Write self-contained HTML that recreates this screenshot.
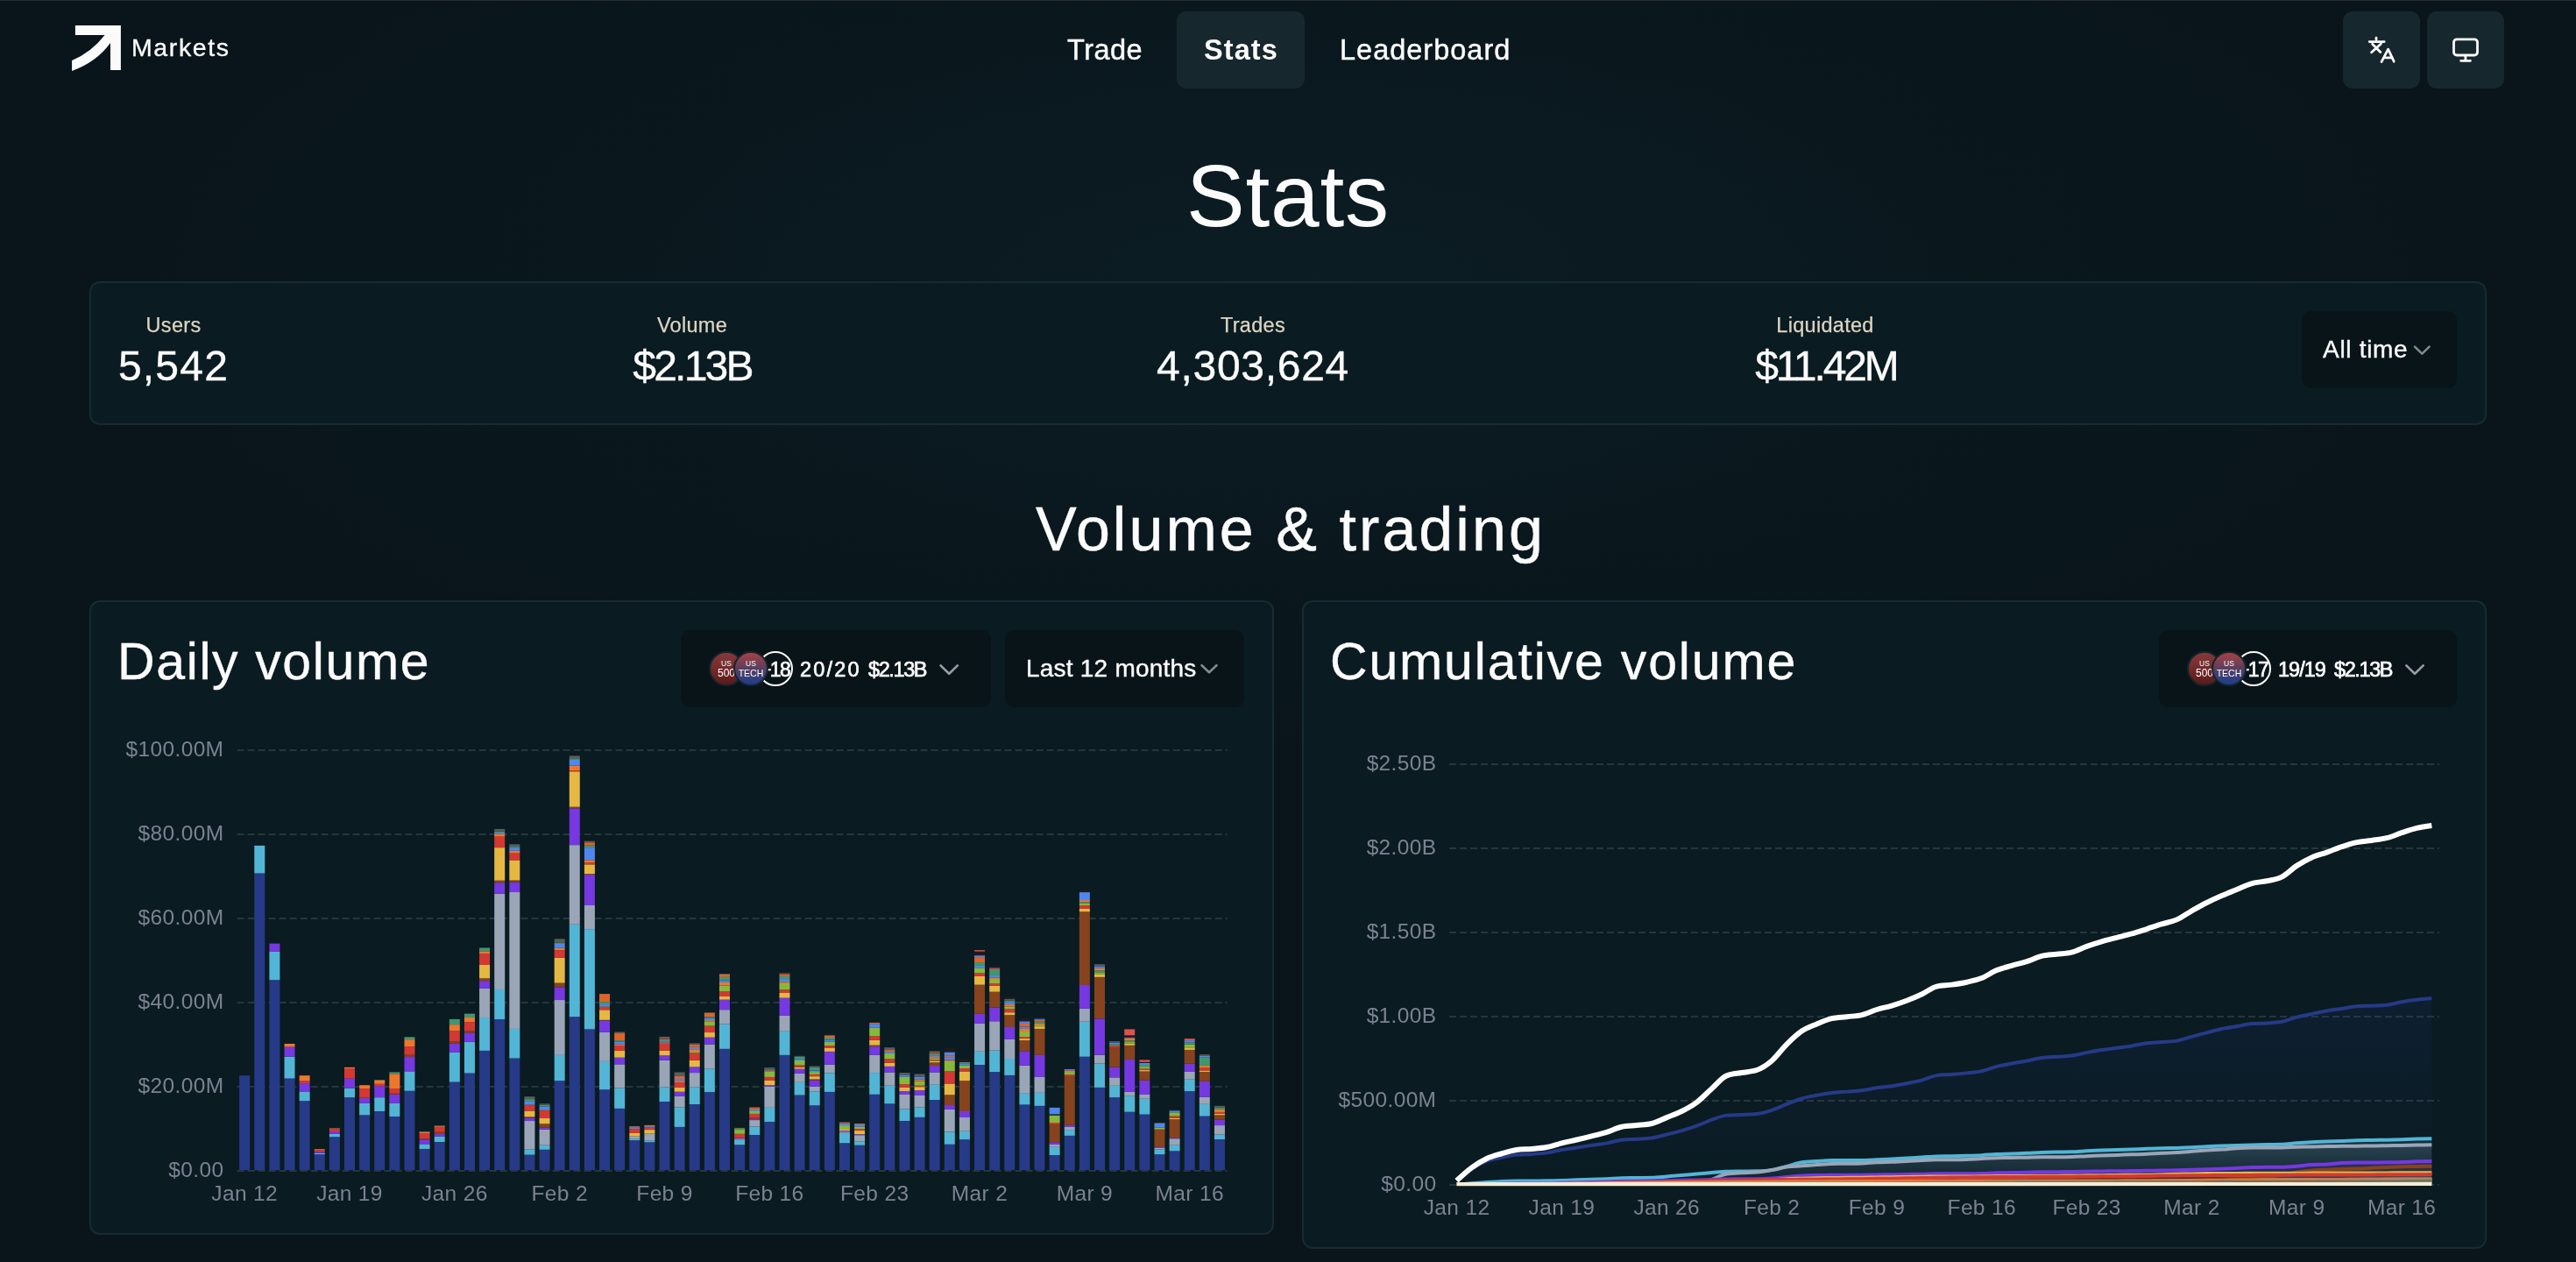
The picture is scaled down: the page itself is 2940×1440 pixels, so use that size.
<!DOCTYPE html>
<html lang="en">
<head>
<meta charset="utf-8">
<title>Stats</title>
<style>
*{box-sizing:border-box;margin:0;padding:0}
html,body{width:2940px;height:1440px;overflow:hidden}
body{position:relative;background:#09151b;color:#fbfbfb;font-family:"Liberation Sans",sans-serif;-webkit-font-smoothing:antialiased}
.bg{position:absolute;left:0;top:0;width:2940px;height:1440px;background:
 radial-gradient(ellipse 1300px 520px at 1470px 330px, rgba(13,35,41,.55), rgba(9,21,27,0) 100%);}
.topline{position:absolute;left:0;top:0;width:2940px;height:1px;background:#2a2d31}
.abs{position:absolute;white-space:nowrap;line-height:1;will-change:transform}
.t{position:absolute;white-space:nowrap;line-height:1;transform-origin:0 0}
/* header */
.brand{left:150px;top:39.5px;font-size:28.5px;letter-spacing:1.6px;color:#fbfbfb;-webkit-text-stroke:.35px #fbfbfb}
.nav{font-size:32.5px;font-weight:400;color:#fbfbfb;-webkit-text-stroke:.45px #fbfbfb}
.tab{position:absolute;left:1343px;top:13px;width:146px;height:88px;border-radius:11px;background:#17272e}
.ibtn{position:absolute;top:13px;width:88px;height:88px;border-radius:11px;background:#17272e}
/* hero */
.h1{font-size:100px;letter-spacing:.8px;color:#fbfbfb}
.panel{position:absolute;border:2px solid #182b32;border-radius:12px;background:#0a1b21}
.lab{font-size:23.5px;color:#ddd5c3;-webkit-text-stroke:.25px #ddd5c3;letter-spacing:.3px;text-align:center}
.val{font-size:48px;color:#fbfbfb;-webkit-text-stroke:.4px #fbfbfb;text-align:center}
.dd{position:absolute;height:88px;border-radius:11px;background:#091419}
.h2{font-size:70px;color:#fbfbfb;-webkit-text-stroke:.5px #fbfbfb}
.h3{font-size:59px;color:#fbfbfb;-webkit-text-stroke:.4px #fbfbfb}
.ddt{font-size:28px;color:#fbfbfb;-webkit-text-stroke:.4px #fbfbfb}
.dds{font-size:23.5px;font-weight:400;color:#fbfbfb;-webkit-text-stroke:.7px #fbfbfb}
.av{will-change:transform;position:absolute;top:743px;width:40px;height:40px;border-radius:50%;border:2px solid #13262c;color:#fff;text-align:center;overflow:hidden}
.av i{display:block;font-style:normal;line-height:1;white-space:nowrap}
.av1{background:linear-gradient(180deg,#873a3b 0%,#5a1b19 100%)}
.av2{background:linear-gradient(180deg,#a94043 0%,#5c3f5f 48%,#1d3d8b 100%)}
.ring{position:absolute;top:743px;width:40px;height:40px;border-radius:50%;border:2px solid #fbfbfb}
svg{position:absolute;left:0;top:0;overflow:visible}
svg text.ax{font-family:"Liberation Sans",sans-serif;font-size:24.5px;fill:#7b8291;letter-spacing:.35px}
svg .gl{stroke:#25373d;stroke-width:2;stroke-dasharray:8 4}
</style>
</head>
<body>
<div class="bg"></div>
<div class="topline"></div>

<!-- header -->
<svg width="2940" height="120" viewBox="0 0 2940 120">
  <path d="M85.9 28.9H137.9V79.9H126V49.1Q110 71 82.1 81V68.9Q104 60 119.6 40H85.9Z" fill="#fbfbfb"/>
</svg>
<div class="abs brand">Markets</div>

<div class="tab"></div>
<div class="abs nav" style="left:1218px;top:41px;letter-spacing:.5px">Trade</div>
<div class="abs nav" style="left:1374px;top:41px;font-weight:700;letter-spacing:1.1px;-webkit-text-stroke:0">Stats</div>
<div class="abs nav" style="left:1528.5px;top:41px;letter-spacing:1px">Leaderboard</div>

<div class="ibtn" style="left:2674px"></div>
<div class="ibtn" style="left:2770px"></div>
<svg width="2940" height="120" viewBox="0 0 2940 120" fill="none" stroke="#fbfbfb" stroke-width="2.8" stroke-linecap="round" stroke-linejoin="round">
  <!-- translate icon -->
  <path d="M2712 43.2V45M2704.2 47.6H2721.2M2707.6 50.2L2716.8 59.4M2717.4 50L2706.6 59.8"/>
  <path d="M2718 70.6L2725.6 56.2L2732.2 70.2M2720.6 65.8H2730.4"/>
  <!-- monitor icon -->
  <rect x="2800.5" y="44.8" width="27" height="18.2" rx="3.5"/>
  <path d="M2813.9 64V69M2808.6 69.3H2819.4"/>
</svg>

<!-- hero title -->
<div class="abs h1" id="title" style="left:1353.5px;top:172.5px">Stats</div>

<!-- stats panel -->
<div class="panel" style="left:102px;top:321px;width:2736px;height:164px"></div>
<div class="abs lab" style="left:98px;width:200px;top:360px">Users</div>
<div class="abs val" style="left:48px;width:300px;top:394px;letter-spacing:1.2px">5,542</div>
<div class="abs lab" style="left:689.5px;width:200px;top:360px">Volume</div>
<div class="abs val" style="left:639.5px;width:300px;top:394px;letter-spacing:-2.8px">$2.13B</div>
<div class="abs lab" style="left:1329.5px;width:200px;top:360px">Trades</div>
<div class="abs val" style="left:1229.5px;width:400px;top:394px;letter-spacing:.7px">4,303,624</div>
<div class="abs lab" style="left:1983px;width:200px;top:360px">Liquidated</div>
<div class="abs val" style="left:1883.5px;width:400px;top:394px;letter-spacing:-3.1px">$11.42M</div>

<div class="dd" style="left:2627px;top:355px;width:177px"></div>
<div class="abs ddt" style="left:2651px;top:385px;letter-spacing:.7px">All time</div>

<!-- section title -->
<div class="abs h2" style="left:1182px;top:569px;letter-spacing:3.05px">Volume &amp; trading</div>

<!-- cards -->
<div class="panel" style="left:102px;top:685px;width:1352px;height:724px"></div>
<div class="panel" style="left:1486px;top:685px;width:1352px;height:740px"></div>
<div class="abs h3" style="left:134px;top:726px;letter-spacing:1.62px">Daily volume</div>
<div class="abs h3" style="left:1518px;top:726px;letter-spacing:1.85px">Cumulative volume</div>

<!-- dropdowns -->
<div class="dd" style="left:777px;top:719px;width:354px"></div>
<div class="dd" style="left:1147px;top:719px;width:273px"></div>
<div class="dd" style="left:2464px;top:719px;width:340px"></div>

<div class="abs ddt" style="left:1170.5px;top:749px;letter-spacing:.22px">Last 12 months</div>

<!-- avatars left -->
<div class="ring" style="left:865px"></div>
<div class="abs dds" style="left:867px;top:753px;font-size:23px;letter-spacing:-1.6px">+18</div>
<div class="av av1" style="left:809px"><i style="font-size:8.5px;margin-top:7.5px">US</i><i style="font-size:12px;margin-top:1px">500</i></div>
<div class="av av2" style="left:837px"><i style="font-size:8.5px;margin-top:7.5px">US</i><i style="font-size:10.5px;margin-top:2px;margin-left:-3px;width:42px">TECH</i></div>
<div class="abs dds" style="left:913px;top:752.5px;letter-spacing:2.2px">20/20</div>
<div class="abs dds" style="left:990.5px;top:752.5px;letter-spacing:-1.4px">$2.13B</div>

<!-- avatars right -->
<div class="ring" style="left:2552px"></div>
<div class="abs dds" style="left:2554px;top:753px;font-size:23px;letter-spacing:-1.6px">+17</div>
<div class="av av1" style="left:2496px"><i style="font-size:8.5px;margin-top:7.5px">US</i><i style="font-size:12px;margin-top:1px">500</i></div>
<div class="av av2" style="left:2524px"><i style="font-size:8.5px;margin-top:7.5px">US</i><i style="font-size:10.5px;margin-top:2px;margin-left:-3px;width:42px">TECH</i></div>
<div class="abs dds" style="left:2600px;top:752.5px;letter-spacing:-1px">19/19</div>
<div class="abs dds" style="left:2663.5px;top:752.5px;letter-spacing:-1.4px">$2.13B</div>

<!-- chevrons -->
<svg width="2940" height="1440" viewBox="0 0 2940 1440" fill="none" stroke-width="2.6" stroke-linecap="round" stroke-linejoin="round">
  <path d="M2756 395.6L2764.3 403.6L2772.6 395.6" stroke="#7f8b8e"/>
  <path d="M1371.6 759.2L1380 767.2L1388.4 759.2" stroke="#7f8b8e"/>
  <path d="M1073.6 759.4L1083.2 768.8L1092.8 759.4" stroke="#9a9ca6"/>
  <path d="M2746.4 759.4L2756 768.8L2765.6 759.4" stroke="#9a9ca6"/>
</svg>

<!-- charts -->
<svg width="2940" height="1440" viewBox="0 0 2940 1440" shape-rendering="auto">
<g id="bars">
<line x1="270.6" x2="1400.52" y1="1336" y2="1336" class="gl"/>
<line x1="270.6" x2="1400.52" y1="1240" y2="1240" class="gl"/>
<line x1="270.6" x2="1400.52" y1="1144" y2="1144" class="gl"/>
<line x1="270.6" x2="1400.52" y1="1048" y2="1048" class="gl"/>
<line x1="270.6" x2="1400.52" y1="952" y2="952" class="gl"/>
<line x1="270.6" x2="1400.52" y1="856" y2="856" class="gl"/>
<text x="255.4" y="1343" text-anchor="end" class="ax">$0.00</text>
<text x="255.4" y="1247" text-anchor="end" class="ax">$20.00M</text>
<text x="255.4" y="1151" text-anchor="end" class="ax">$40.00M</text>
<text x="255.4" y="1055" text-anchor="end" class="ax">$60.00M</text>
<text x="255.4" y="959" text-anchor="end" class="ax">$80.00M</text>
<text x="255.4" y="863" text-anchor="end" class="ax">$100.00M</text>
<text x="279.16" y="1370" text-anchor="middle" class="ax">Jan 12</text>
<text x="399" y="1370" text-anchor="middle" class="ax">Jan 19</text>
<text x="518.84" y="1370" text-anchor="middle" class="ax">Jan 26</text>
<text x="638.68" y="1370" text-anchor="middle" class="ax">Feb 2</text>
<text x="758.52" y="1370" text-anchor="middle" class="ax">Feb 9</text>
<text x="878.36" y="1370" text-anchor="middle" class="ax">Feb 16</text>
<text x="998.2" y="1370" text-anchor="middle" class="ax">Feb 23</text>
<text x="1118.04" y="1370" text-anchor="middle" class="ax">Mar 2</text>
<text x="1237.88" y="1370" text-anchor="middle" class="ax">Mar 9</text>
<text x="1357.72" y="1370" text-anchor="middle" class="ax">Mar 16</text>
<rect x="273.16" y="1227.2" width="12" height="108" fill="#263a88"/>
<rect x="290.28" y="996.42" width="12" height="338.78" fill="#263a88"/>
<rect x="290.28" y="964.88" width="12" height="31.54" fill="#52b5d5"/>
<rect x="307.4" y="1118.24" width="12" height="216.96" fill="#263a88"/>
<rect x="307.4" y="1085.89" width="12" height="32.35" fill="#52b5d5"/>
<rect x="307.4" y="1076.62" width="12" height="9.26" fill="#7638e0"/>
<rect x="324.52" y="1230.56" width="12" height="104.64" fill="#263a88"/>
<rect x="324.52" y="1205.6" width="12" height="24.96" fill="#52b5d5"/>
<rect x="324.52" y="1194.56" width="12" height="11.04" fill="#7638e0"/>
<rect x="324.52" y="1190.96" width="12" height="3.6" fill="#ee772e"/>
<rect x="341.64" y="1256.19" width="12" height="79.01" fill="#263a88"/>
<rect x="341.64" y="1245.44" width="12" height="10.75" fill="#52b5d5"/>
<rect x="341.64" y="1236.03" width="12" height="9.41" fill="#7638e0"/>
<rect x="341.64" y="1233.44" width="12" height="2.59" fill="#d43833"/>
<rect x="341.64" y="1227.2" width="12" height="6.24" fill="#ee772e"/>
<rect x="358.76" y="1317.2" width="12" height="18" fill="#263a88"/>
<rect x="358.76" y="1315.81" width="12" height="1.39" fill="#52b5d5"/>
<rect x="358.76" y="1314.08" width="12" height="1.73" fill="#7638e0"/>
<rect x="358.76" y="1311.97" width="12" height="2.11" fill="#d43833"/>
<rect x="358.76" y="1311.2" width="12" height="0.77" fill="#ee772e"/>
<rect x="375.88" y="1297.28" width="12" height="37.92" fill="#263a88"/>
<rect x="375.88" y="1293.92" width="12" height="3.36" fill="#52b5d5"/>
<rect x="375.88" y="1291.04" width="12" height="2.88" fill="#7638e0"/>
<rect x="375.88" y="1288.16" width="12" height="2.88" fill="#d43833"/>
<rect x="375.88" y="1287.44" width="12" height="0.72" fill="#ee772e"/>
<rect x="393" y="1252.16" width="12" height="83.04" fill="#263a88"/>
<rect x="393" y="1241.6" width="12" height="10.56" fill="#52b5d5"/>
<rect x="393" y="1230.75" width="12" height="10.85" fill="#7638e0"/>
<rect x="393" y="1219.04" width="12" height="11.71" fill="#d43833"/>
<rect x="393" y="1217.84" width="12" height="1.2" fill="#ee772e"/>
<rect x="410.12" y="1272.32" width="12" height="62.88" fill="#263a88"/>
<rect x="410.12" y="1258.88" width="12" height="13.44" fill="#52b5d5"/>
<rect x="410.12" y="1252.64" width="12" height="6.24" fill="#7638e0"/>
<rect x="410.12" y="1242.08" width="12" height="10.56" fill="#d43833"/>
<rect x="410.12" y="1238.24" width="12" height="3.84" fill="#ee772e"/>
<rect x="427.24" y="1268" width="12" height="67.2" fill="#263a88"/>
<rect x="427.24" y="1252.16" width="12" height="15.84" fill="#52b5d5"/>
<rect x="427.24" y="1239.2" width="12" height="12.96" fill="#7638e0"/>
<rect x="427.24" y="1236.8" width="12" height="2.4" fill="#d43833"/>
<rect x="427.24" y="1232.48" width="12" height="4.32" fill="#ee772e"/>
<rect x="427.24" y="1232" width="12" height="0.48" fill="#42966f"/>
<rect x="444.36" y="1274" width="12" height="61.2" fill="#263a88"/>
<rect x="444.36" y="1258.88" width="12" height="15.12" fill="#52b5d5"/>
<rect x="444.36" y="1248.8" width="12" height="10.08" fill="#7638e0"/>
<rect x="444.36" y="1247.84" width="12" height="0.96" fill="#86431e"/>
<rect x="444.36" y="1242.08" width="12" height="5.76" fill="#d43833"/>
<rect x="444.36" y="1225.28" width="12" height="16.8" fill="#ee772e"/>
<rect x="444.36" y="1223.36" width="12" height="1.92" fill="#42966f"/>
<rect x="461.48" y="1244.72" width="12" height="90.48" fill="#263a88"/>
<rect x="461.48" y="1222.4" width="12" height="22.32" fill="#52b5d5"/>
<rect x="461.48" y="1206.08" width="12" height="16.32" fill="#7638e0"/>
<rect x="461.48" y="1203.68" width="12" height="2.4" fill="#86431e"/>
<rect x="461.48" y="1194.08" width="12" height="9.6" fill="#d43833"/>
<rect x="461.48" y="1186.11" width="12" height="7.97" fill="#ee772e"/>
<rect x="461.48" y="1183.28" width="12" height="2.83" fill="#42966f"/>
<rect x="478.6" y="1310.96" width="12" height="24.24" fill="#263a88"/>
<rect x="478.6" y="1305.44" width="12" height="5.52" fill="#52b5d5"/>
<rect x="478.6" y="1300.16" width="12" height="5.28" fill="#7638e0"/>
<rect x="478.6" y="1299.2" width="12" height="0.96" fill="#86431e"/>
<rect x="478.6" y="1292.96" width="12" height="6.24" fill="#d43833"/>
<rect x="478.6" y="1291.76" width="12" height="1.2" fill="#ee772e"/>
<rect x="478.6" y="1291.04" width="12" height="0.72" fill="#42966f"/>
<rect x="495.72" y="1303.04" width="12" height="32.16" fill="#263a88"/>
<rect x="495.72" y="1296.8" width="12" height="6.24" fill="#52b5d5"/>
<rect x="495.72" y="1293.92" width="12" height="2.88" fill="#7638e0"/>
<rect x="495.72" y="1291.76" width="12" height="2.16" fill="#86431e"/>
<rect x="495.72" y="1285.76" width="12" height="6" fill="#d43833"/>
<rect x="495.72" y="1284.8" width="12" height="0.96" fill="#ee772e"/>
<rect x="495.72" y="1284.32" width="12" height="0.48" fill="#42966f"/>
<rect x="512.84" y="1234.59" width="12" height="100.61" fill="#263a88"/>
<rect x="512.84" y="1200.8" width="12" height="33.79" fill="#52b5d5"/>
<rect x="512.84" y="1190.72" width="12" height="10.08" fill="#7638e0"/>
<rect x="512.84" y="1188.56" width="12" height="2.16" fill="#86431e"/>
<rect x="512.84" y="1176.32" width="12" height="12.24" fill="#d43833"/>
<rect x="512.84" y="1169.12" width="12" height="7.2" fill="#ee772e"/>
<rect x="512.84" y="1162.88" width="12" height="6.24" fill="#42966f"/>
<rect x="529.96" y="1224.51" width="12" height="110.69" fill="#263a88"/>
<rect x="529.96" y="1188.8" width="12" height="35.71" fill="#52b5d5"/>
<rect x="529.96" y="1178.72" width="12" height="10.08" fill="#7638e0"/>
<rect x="529.96" y="1176.32" width="12" height="2.4" fill="#86431e"/>
<rect x="529.96" y="1166.24" width="12" height="10.08" fill="#d43833"/>
<rect x="529.96" y="1160.96" width="12" height="5.28" fill="#ee772e"/>
<rect x="529.96" y="1156.64" width="12" height="4.32" fill="#42966f"/>
<rect x="547.08" y="1198.88" width="12" height="136.32" fill="#263a88"/>
<rect x="547.08" y="1160.96" width="12" height="37.92" fill="#52b5d5"/>
<rect x="547.08" y="1127.84" width="12" height="33.12" fill="#9aa5b8"/>
<rect x="547.08" y="1119.2" width="12" height="8.64" fill="#7638e0"/>
<rect x="547.08" y="1116.32" width="12" height="2.88" fill="#86431e"/>
<rect x="547.08" y="1100.96" width="12" height="15.36" fill="#e4b843"/>
<rect x="547.08" y="1088.48" width="12" height="12.48" fill="#d43833"/>
<rect x="547.08" y="1085.31" width="12" height="3.17" fill="#ee772e"/>
<rect x="547.08" y="1081.47" width="12" height="3.84" fill="#42966f"/>
<rect x="564.2" y="1163.07" width="12" height="172.13" fill="#263a88"/>
<rect x="564.2" y="1128.94" width="12" height="34.13" fill="#52b5d5"/>
<rect x="564.2" y="1019.65" width="12" height="109.3" fill="#9aa5b8"/>
<rect x="564.2" y="1007.12" width="12" height="12.53" fill="#7638e0"/>
<rect x="564.2" y="1004.67" width="12" height="2.45" fill="#86431e"/>
<rect x="564.2" y="967.14" width="12" height="37.54" fill="#e4b843"/>
<rect x="564.2" y="954.61" width="12" height="12.53" fill="#d43833"/>
<rect x="564.2" y="951.34" width="12" height="3.26" fill="#ee772e"/>
<rect x="564.2" y="949.95" width="12" height="1.39" fill="#5087ee"/>
<rect x="564.2" y="948.51" width="12" height="1.44" fill="#42966f"/>
<rect x="564.2" y="945.92" width="12" height="2.59" fill="#5c5c5c"/>
<rect x="581.32" y="1207.52" width="12" height="127.68" fill="#263a88"/>
<rect x="581.32" y="1173.92" width="12" height="33.6" fill="#52b5d5"/>
<rect x="581.32" y="1018.02" width="12" height="155.9" fill="#9aa5b8"/>
<rect x="581.32" y="1006.5" width="12" height="11.52" fill="#7638e0"/>
<rect x="581.32" y="1004.48" width="12" height="2.02" fill="#86431e"/>
<rect x="581.32" y="981.44" width="12" height="23.04" fill="#e4b843"/>
<rect x="581.32" y="973.57" width="12" height="7.87" fill="#d43833"/>
<rect x="581.32" y="970.74" width="12" height="2.83" fill="#ee772e"/>
<rect x="581.32" y="967.14" width="12" height="3.6" fill="#5087ee"/>
<rect x="581.32" y="966.08" width="12" height="1.06" fill="#42966f"/>
<rect x="581.32" y="963.3" width="12" height="2.78" fill="#5c5c5c"/>
<rect x="598.44" y="1317.63" width="12" height="17.57" fill="#263a88"/>
<rect x="598.44" y="1311.34" width="12" height="6.29" fill="#52b5d5"/>
<rect x="598.44" y="1279.04" width="12" height="32.3" fill="#9aa5b8"/>
<rect x="598.44" y="1275.39" width="12" height="3.65" fill="#7638e0"/>
<rect x="598.44" y="1274.38" width="12" height="1.01" fill="#86431e"/>
<rect x="598.44" y="1267.52" width="12" height="6.86" fill="#e4b843"/>
<rect x="598.44" y="1261.28" width="12" height="6.24" fill="#d43833"/>
<rect x="598.44" y="1260.56" width="12" height="0.72" fill="#ee772e"/>
<rect x="598.44" y="1256.96" width="12" height="3.6" fill="#5087ee"/>
<rect x="598.44" y="1254.08" width="12" height="2.88" fill="#42966f"/>
<rect x="598.44" y="1251.2" width="12" height="2.88" fill="#5c5c5c"/>
<rect x="615.56" y="1311.78" width="12" height="23.42" fill="#263a88"/>
<rect x="615.56" y="1306.74" width="12" height="5.04" fill="#52b5d5"/>
<rect x="615.56" y="1288.74" width="12" height="18" fill="#9aa5b8"/>
<rect x="615.56" y="1286.53" width="12" height="2.21" fill="#7638e0"/>
<rect x="615.56" y="1282.26" width="12" height="4.27" fill="#86431e"/>
<rect x="615.56" y="1276.02" width="12" height="6.24" fill="#e4b843"/>
<rect x="615.56" y="1267.33" width="12" height="8.69" fill="#d43833"/>
<rect x="615.56" y="1266.32" width="12" height="1.01" fill="#ee772e"/>
<rect x="615.56" y="1262.48" width="12" height="3.84" fill="#5087ee"/>
<rect x="615.56" y="1260.8" width="12" height="1.68" fill="#42966f"/>
<rect x="615.56" y="1259.36" width="12" height="1.44" fill="#5c5c5c"/>
<rect x="632.68" y="1233.2" width="12" height="102" fill="#263a88"/>
<rect x="632.68" y="1203.87" width="12" height="29.33" fill="#52b5d5"/>
<rect x="632.68" y="1141.04" width="12" height="62.83" fill="#9aa5b8"/>
<rect x="632.68" y="1126.4" width="12" height="14.64" fill="#7638e0"/>
<rect x="632.68" y="1121.6" width="12" height="4.8" fill="#86431e"/>
<rect x="632.68" y="1092.8" width="12" height="28.8" fill="#e4b843"/>
<rect x="632.68" y="1084.16" width="12" height="8.64" fill="#d43833"/>
<rect x="632.68" y="1081.76" width="12" height="2.4" fill="#ee772e"/>
<rect x="632.68" y="1076.96" width="12" height="4.8" fill="#5087ee"/>
<rect x="632.68" y="1075.81" width="12" height="1.15" fill="#42966f"/>
<rect x="632.68" y="1071.34" width="12" height="4.46" fill="#5c5c5c"/>
<rect x="649.8" y="1160.24" width="12" height="174.96" fill="#263a88"/>
<rect x="649.8" y="1054.78" width="12" height="105.46" fill="#52b5d5"/>
<rect x="649.8" y="964.16" width="12" height="90.62" fill="#9aa5b8"/>
<rect x="649.8" y="922.26" width="12" height="41.9" fill="#7638e0"/>
<rect x="649.8" y="920.67" width="12" height="1.58" fill="#86431e"/>
<rect x="649.8" y="880.26" width="12" height="40.42" fill="#e4b843"/>
<rect x="649.8" y="879.06" width="12" height="1.2" fill="#d43833"/>
<rect x="649.8" y="873.44" width="12" height="5.62" fill="#ee772e"/>
<rect x="649.8" y="866.91" width="12" height="6.53" fill="#5087ee"/>
<rect x="649.8" y="865.28" width="12" height="1.63" fill="#42966f"/>
<rect x="649.8" y="862.4" width="12" height="2.88" fill="#5c5c5c"/>
<rect x="666.92" y="1174.4" width="12" height="160.8" fill="#263a88"/>
<rect x="666.92" y="1060.16" width="12" height="114.24" fill="#52b5d5"/>
<rect x="666.92" y="1032.99" width="12" height="27.17" fill="#9aa5b8"/>
<rect x="666.92" y="998.05" width="12" height="34.94" fill="#7638e0"/>
<rect x="666.92" y="997.04" width="12" height="1.01" fill="#86431e"/>
<rect x="666.92" y="986.34" width="12" height="10.7" fill="#e4b843"/>
<rect x="666.92" y="984.51" width="12" height="1.82" fill="#d43833"/>
<rect x="666.92" y="981.25" width="12" height="3.26" fill="#ee772e"/>
<rect x="666.92" y="967.14" width="12" height="14.11" fill="#5087ee"/>
<rect x="666.92" y="964.64" width="12" height="2.5" fill="#42966f"/>
<rect x="666.92" y="961.28" width="12" height="3.36" fill="#dc652a"/>
<rect x="666.92" y="959.65" width="12" height="1.63" fill="#5c5c5c"/>
<rect x="684.04" y="1243.28" width="12" height="91.92" fill="#263a88"/>
<rect x="684.04" y="1210.88" width="12" height="32.4" fill="#52b5d5"/>
<rect x="684.04" y="1177.76" width="12" height="33.12" fill="#9aa5b8"/>
<rect x="684.04" y="1164.32" width="12" height="13.44" fill="#7638e0"/>
<rect x="684.04" y="1163.84" width="12" height="0.48" fill="#86431e"/>
<rect x="684.04" y="1152.32" width="12" height="11.52" fill="#e4b843"/>
<rect x="684.04" y="1149.44" width="12" height="2.88" fill="#d43833"/>
<rect x="684.04" y="1148.48" width="12" height="0.96" fill="#ee772e"/>
<rect x="684.04" y="1146.08" width="12" height="2.4" fill="#5087ee"/>
<rect x="684.04" y="1143.2" width="12" height="2.88" fill="#42966f"/>
<rect x="684.04" y="1134.08" width="12" height="9.12" fill="#dc652a"/>
<rect x="701.16" y="1264.88" width="12" height="70.32" fill="#263a88"/>
<rect x="701.16" y="1241.46" width="12" height="23.42" fill="#52b5d5"/>
<rect x="701.16" y="1214.38" width="12" height="27.07" fill="#9aa5b8"/>
<rect x="701.16" y="1206.7" width="12" height="7.68" fill="#7638e0"/>
<rect x="701.16" y="1198.88" width="12" height="7.82" fill="#e4b843"/>
<rect x="701.16" y="1193.12" width="12" height="5.76" fill="#d43833"/>
<rect x="701.16" y="1191.68" width="12" height="1.44" fill="#ee772e"/>
<rect x="701.16" y="1188.51" width="12" height="3.17" fill="#5087ee"/>
<rect x="701.16" y="1187.12" width="12" height="1.39" fill="#42966f"/>
<rect x="701.16" y="1179.06" width="12" height="8.06" fill="#dc652a"/>
<rect x="701.16" y="1177.42" width="12" height="1.63" fill="#5c5c5c"/>
<rect x="718.28" y="1301.12" width="12" height="34.08" fill="#263a88"/>
<rect x="718.28" y="1299.2" width="12" height="1.92" fill="#52b5d5"/>
<rect x="718.28" y="1296.61" width="12" height="2.59" fill="#9aa5b8"/>
<rect x="718.28" y="1292.96" width="12" height="3.65" fill="#e4b843"/>
<rect x="718.28" y="1287.92" width="12" height="5.04" fill="#d43833"/>
<rect x="718.28" y="1286.24" width="12" height="1.68" fill="#5087ee"/>
<rect x="718.28" y="1285.28" width="12" height="0.96" fill="#ee772e"/>
<rect x="735.4" y="1303.28" width="12" height="31.92" fill="#263a88"/>
<rect x="735.4" y="1301.26" width="12" height="2.02" fill="#52b5d5"/>
<rect x="735.4" y="1293.44" width="12" height="7.82" fill="#9aa5b8"/>
<rect x="735.4" y="1289.12" width="12" height="4.32" fill="#e4b843"/>
<rect x="735.4" y="1286.53" width="12" height="2.59" fill="#d43833"/>
<rect x="735.4" y="1285.09" width="12" height="1.44" fill="#5087ee"/>
<rect x="735.4" y="1283.84" width="12" height="1.25" fill="#dc652a"/>
<rect x="752.52" y="1257.01" width="12" height="78.19" fill="#263a88"/>
<rect x="752.52" y="1240.45" width="12" height="16.56" fill="#52b5d5"/>
<rect x="752.52" y="1209.73" width="12" height="30.72" fill="#9aa5b8"/>
<rect x="752.52" y="1204.3" width="12" height="5.42" fill="#7638e0"/>
<rect x="752.52" y="1198.88" width="12" height="5.42" fill="#e4b843"/>
<rect x="752.52" y="1190.72" width="12" height="8.16" fill="#d43833"/>
<rect x="752.52" y="1189.52" width="12" height="1.2" fill="#ee772e"/>
<rect x="752.52" y="1188.13" width="12" height="1.39" fill="#5087ee"/>
<rect x="752.52" y="1186.88" width="12" height="1.25" fill="#42966f"/>
<rect x="752.52" y="1185.92" width="12" height="0.96" fill="#dc652a"/>
<rect x="752.52" y="1182.9" width="12" height="3.02" fill="#5c5c5c"/>
<rect x="769.64" y="1285.9" width="12" height="49.3" fill="#263a88"/>
<rect x="769.64" y="1263.49" width="12" height="22.42" fill="#52b5d5"/>
<rect x="769.64" y="1250.72" width="12" height="12.77" fill="#9aa5b8"/>
<rect x="769.64" y="1245.73" width="12" height="4.99" fill="#7638e0"/>
<rect x="769.64" y="1240.88" width="12" height="4.85" fill="#e4b843"/>
<rect x="769.64" y="1235.22" width="12" height="5.66" fill="#d43833"/>
<rect x="769.64" y="1233.2" width="12" height="2.02" fill="#ee772e"/>
<rect x="769.64" y="1231.04" width="12" height="2.16" fill="#5087ee"/>
<rect x="769.64" y="1227.92" width="12" height="3.12" fill="#dc652a"/>
<rect x="769.64" y="1223.5" width="12" height="4.42" fill="#5c5c5c"/>
<rect x="786.76" y="1260.03" width="12" height="75.17" fill="#263a88"/>
<rect x="786.76" y="1240.26" width="12" height="19.78" fill="#52b5d5"/>
<rect x="786.76" y="1224.08" width="12" height="16.18" fill="#9aa5b8"/>
<rect x="786.76" y="1217.41" width="12" height="6.67" fill="#7638e0"/>
<rect x="786.76" y="1209.73" width="12" height="7.68" fill="#e4b843"/>
<rect x="786.76" y="1201.47" width="12" height="8.26" fill="#d43833"/>
<rect x="786.76" y="1200.03" width="12" height="1.44" fill="#86b93b"/>
<rect x="786.76" y="1197.2" width="12" height="2.83" fill="#ee772e"/>
<rect x="786.76" y="1194.8" width="12" height="2.4" fill="#5087ee"/>
<rect x="786.76" y="1191.68" width="12" height="3.12" fill="#dc652a"/>
<rect x="786.76" y="1190.34" width="12" height="1.34" fill="#5c5c5c"/>
<rect x="803.88" y="1246.11" width="12" height="89.09" fill="#263a88"/>
<rect x="803.88" y="1219.66" width="12" height="26.45" fill="#52b5d5"/>
<rect x="803.88" y="1191.68" width="12" height="27.98" fill="#9aa5b8"/>
<rect x="803.88" y="1183.66" width="12" height="8.02" fill="#7638e0"/>
<rect x="803.88" y="1178.05" width="12" height="5.62" fill="#e4b843"/>
<rect x="803.88" y="1170.56" width="12" height="7.49" fill="#d43833"/>
<rect x="803.88" y="1165.28" width="12" height="5.28" fill="#86b93b"/>
<rect x="803.88" y="1164.08" width="12" height="1.2" fill="#ee772e"/>
<rect x="803.88" y="1161.68" width="12" height="2.4" fill="#5087ee"/>
<rect x="803.88" y="1160.48" width="12" height="1.2" fill="#42966f"/>
<rect x="803.88" y="1156.02" width="12" height="4.46" fill="#dc652a"/>
<rect x="803.88" y="1155.2" width="12" height="0.82" fill="#5c5c5c"/>
<rect x="821" y="1196.82" width="12" height="138.38" fill="#263a88"/>
<rect x="821" y="1168.54" width="12" height="28.27" fill="#52b5d5"/>
<rect x="821" y="1152.18" width="12" height="16.37" fill="#9aa5b8"/>
<rect x="821" y="1140.66" width="12" height="11.52" fill="#7638e0"/>
<rect x="821" y="1137.01" width="12" height="3.65" fill="#e4b843"/>
<rect x="821" y="1131.2" width="12" height="5.81" fill="#d43833"/>
<rect x="821" y="1124.48" width="12" height="6.72" fill="#86b93b"/>
<rect x="821" y="1120.88" width="12" height="3.6" fill="#ee772e"/>
<rect x="821" y="1118.43" width="12" height="2.45" fill="#5087ee"/>
<rect x="821" y="1114.88" width="12" height="3.55" fill="#42966f"/>
<rect x="821" y="1112" width="12" height="2.88" fill="#dc652a"/>
<rect x="821" y="1111.04" width="12" height="0.96" fill="#5c5c5c"/>
<rect x="838.12" y="1306.3" width="12" height="28.9" fill="#263a88"/>
<rect x="838.12" y="1300.64" width="12" height="5.66" fill="#52b5d5"/>
<rect x="838.12" y="1299.2" width="12" height="1.44" fill="#9aa5b8"/>
<rect x="838.12" y="1298.24" width="12" height="0.96" fill="#7638e0"/>
<rect x="838.12" y="1293.78" width="12" height="4.46" fill="#d43833"/>
<rect x="838.12" y="1289.12" width="12" height="4.66" fill="#86b93b"/>
<rect x="838.12" y="1287.54" width="12" height="1.58" fill="#42966f"/>
<rect x="838.12" y="1286.91" width="12" height="0.62" fill="#dc652a"/>
<rect x="855.24" y="1294.98" width="12" height="40.22" fill="#263a88"/>
<rect x="855.24" y="1285.52" width="12" height="9.46" fill="#52b5d5"/>
<rect x="855.24" y="1278.08" width="12" height="7.44" fill="#9aa5b8"/>
<rect x="855.24" y="1277.12" width="12" height="0.96" fill="#7638e0"/>
<rect x="855.24" y="1275.68" width="12" height="1.44" fill="#86431e"/>
<rect x="855.24" y="1270.88" width="12" height="4.8" fill="#d43833"/>
<rect x="855.24" y="1268" width="12" height="2.88" fill="#86b93b"/>
<rect x="855.24" y="1265.89" width="12" height="2.11" fill="#5087ee"/>
<rect x="855.24" y="1264.3" width="12" height="1.58" fill="#ee772e"/>
<rect x="855.24" y="1263.49" width="12" height="0.82" fill="#dc652a"/>
<rect x="872.36" y="1280" width="12" height="55.2" fill="#263a88"/>
<rect x="872.36" y="1263.87" width="12" height="16.13" fill="#52b5d5"/>
<rect x="872.36" y="1239.82" width="12" height="24.05" fill="#9aa5b8"/>
<rect x="872.36" y="1238.24" width="12" height="1.58" fill="#7638e0"/>
<rect x="872.36" y="1232.96" width="12" height="5.28" fill="#e4b843"/>
<rect x="872.36" y="1228.93" width="12" height="4.03" fill="#d43833"/>
<rect x="872.36" y="1222.69" width="12" height="6.24" fill="#86b93b"/>
<rect x="872.36" y="1221.44" width="12" height="1.25" fill="#ee772e"/>
<rect x="872.36" y="1220.48" width="12" height="0.96" fill="#5087ee"/>
<rect x="872.36" y="1219.52" width="12" height="0.96" fill="#42966f"/>
<rect x="872.36" y="1218.08" width="12" height="1.44" fill="#5c5c5c"/>
<rect x="889.48" y="1203.87" width="12" height="131.33" fill="#263a88"/>
<rect x="889.48" y="1176.8" width="12" height="27.07" fill="#52b5d5"/>
<rect x="889.48" y="1158.85" width="12" height="17.95" fill="#9aa5b8"/>
<rect x="889.48" y="1138.64" width="12" height="20.21" fill="#7638e0"/>
<rect x="889.48" y="1132.98" width="12" height="5.66" fill="#e4b843"/>
<rect x="889.48" y="1129.28" width="12" height="3.7" fill="#d43833"/>
<rect x="889.48" y="1121.89" width="12" height="7.39" fill="#86b93b"/>
<rect x="889.48" y="1120.16" width="12" height="1.73" fill="#ee772e"/>
<rect x="889.48" y="1117.04" width="12" height="3.12" fill="#5087ee"/>
<rect x="889.48" y="1113.92" width="12" height="3.12" fill="#42966f"/>
<rect x="889.48" y="1111.52" width="12" height="2.4" fill="#dc652a"/>
<rect x="889.48" y="1110.37" width="12" height="1.15" fill="#5c5c5c"/>
<rect x="906.6" y="1249.52" width="12" height="85.68" fill="#263a88"/>
<rect x="906.6" y="1234.88" width="12" height="14.64" fill="#52b5d5"/>
<rect x="906.6" y="1224.8" width="12" height="10.08" fill="#9aa5b8"/>
<rect x="906.6" y="1219.66" width="12" height="5.14" fill="#7638e0"/>
<rect x="906.6" y="1217.84" width="12" height="1.82" fill="#e4b843"/>
<rect x="906.6" y="1215.39" width="12" height="2.45" fill="#d43833"/>
<rect x="906.6" y="1209.92" width="12" height="5.47" fill="#86b93b"/>
<rect x="906.6" y="1208.24" width="12" height="1.68" fill="#5087ee"/>
<rect x="906.6" y="1205.6" width="12" height="2.64" fill="#42966f"/>
<rect x="906.6" y="1204.88" width="12" height="0.72" fill="#5c5c5c"/>
<rect x="923.72" y="1261.28" width="12" height="73.92" fill="#263a88"/>
<rect x="923.72" y="1245.3" width="12" height="15.98" fill="#52b5d5"/>
<rect x="923.72" y="1239.82" width="12" height="5.47" fill="#9aa5b8"/>
<rect x="923.72" y="1232.48" width="12" height="7.34" fill="#7638e0"/>
<rect x="923.72" y="1231.52" width="12" height="0.96" fill="#86431e"/>
<rect x="923.72" y="1228.16" width="12" height="3.36" fill="#e4b843"/>
<rect x="923.72" y="1225.9" width="12" height="2.26" fill="#d43833"/>
<rect x="923.72" y="1223.07" width="12" height="2.83" fill="#86b93b"/>
<rect x="923.72" y="1221.44" width="12" height="1.63" fill="#5087ee"/>
<rect x="923.72" y="1217.84" width="12" height="3.6" fill="#42966f"/>
<rect x="923.72" y="1216.4" width="12" height="1.44" fill="#5c5c5c"/>
<rect x="940.84" y="1245.92" width="12" height="89.28" fill="#263a88"/>
<rect x="940.84" y="1224.32" width="12" height="21.6" fill="#52b5d5"/>
<rect x="940.84" y="1214.82" width="12" height="9.5" fill="#9aa5b8"/>
<rect x="940.84" y="1199.84" width="12" height="14.98" fill="#7638e0"/>
<rect x="940.84" y="1196" width="12" height="3.84" fill="#e4b843"/>
<rect x="940.84" y="1193.12" width="12" height="2.88" fill="#d43833"/>
<rect x="940.84" y="1188.8" width="12" height="4.32" fill="#86b93b"/>
<rect x="940.84" y="1186.4" width="12" height="2.4" fill="#5087ee"/>
<rect x="940.84" y="1184" width="12" height="2.4" fill="#42966f"/>
<rect x="940.84" y="1181.6" width="12" height="2.4" fill="#dc652a"/>
<rect x="940.84" y="1180.88" width="12" height="0.72" fill="#5c5c5c"/>
<rect x="957.96" y="1304.29" width="12" height="30.91" fill="#263a88"/>
<rect x="957.96" y="1292.77" width="12" height="11.52" fill="#52b5d5"/>
<rect x="957.96" y="1291.18" width="12" height="1.58" fill="#9aa5b8"/>
<rect x="957.96" y="1290.08" width="12" height="1.1" fill="#7638e0"/>
<rect x="957.96" y="1288.16" width="12" height="1.92" fill="#e4b843"/>
<rect x="957.96" y="1284.08" width="12" height="4.08" fill="#86b93b"/>
<rect x="957.96" y="1281.68" width="12" height="2.4" fill="#5087ee"/>
<rect x="957.96" y="1280.48" width="12" height="1.2" fill="#dc652a"/>
<rect x="975.08" y="1306.74" width="12" height="28.46" fill="#263a88"/>
<rect x="975.08" y="1302.27" width="12" height="4.46" fill="#52b5d5"/>
<rect x="975.08" y="1295.22" width="12" height="7.06" fill="#9aa5b8"/>
<rect x="975.08" y="1294.16" width="12" height="1.06" fill="#7638e0"/>
<rect x="975.08" y="1290.08" width="12" height="4.08" fill="#e4b843"/>
<rect x="975.08" y="1288.16" width="12" height="1.92" fill="#d43833"/>
<rect x="975.08" y="1285.76" width="12" height="2.4" fill="#86b93b"/>
<rect x="975.08" y="1283.07" width="12" height="2.69" fill="#5087ee"/>
<rect x="975.08" y="1282.06" width="12" height="1.01" fill="#dc652a"/>
<rect x="992.2" y="1248.8" width="12" height="86.4" fill="#263a88"/>
<rect x="992.2" y="1224.08" width="12" height="24.72" fill="#52b5d5"/>
<rect x="992.2" y="1203.87" width="12" height="20.21" fill="#9aa5b8"/>
<rect x="992.2" y="1194.08" width="12" height="9.79" fill="#7638e0"/>
<rect x="992.2" y="1192.64" width="12" height="1.44" fill="#86431e"/>
<rect x="992.2" y="1186.88" width="12" height="5.76" fill="#e4b843"/>
<rect x="992.2" y="1182.08" width="12" height="4.8" fill="#d43833"/>
<rect x="992.2" y="1172.48" width="12" height="9.6" fill="#86b93b"/>
<rect x="992.2" y="1168.16" width="12" height="4.32" fill="#5087ee"/>
<rect x="992.2" y="1166.91" width="12" height="1.25" fill="#dc652a"/>
<rect x="1009.32" y="1259.36" width="12" height="75.84" fill="#263a88"/>
<rect x="1009.32" y="1238.82" width="12" height="20.54" fill="#52b5d5"/>
<rect x="1009.32" y="1223.5" width="12" height="15.31" fill="#9aa5b8"/>
<rect x="1009.32" y="1216.83" width="12" height="6.67" fill="#7638e0"/>
<rect x="1009.32" y="1212.8" width="12" height="4.03" fill="#e4b843"/>
<rect x="1009.32" y="1208.34" width="12" height="4.46" fill="#d43833"/>
<rect x="1009.32" y="1201.86" width="12" height="6.48" fill="#86b93b"/>
<rect x="1009.32" y="1199.84" width="12" height="2.02" fill="#5087ee"/>
<rect x="1009.32" y="1198.16" width="12" height="1.68" fill="#ee772e"/>
<rect x="1009.32" y="1195.18" width="12" height="2.98" fill="#5c5c5c"/>
<rect x="1026.44" y="1279.04" width="12" height="56.16" fill="#263a88"/>
<rect x="1026.44" y="1265.5" width="12" height="13.54" fill="#52b5d5"/>
<rect x="1026.44" y="1248.94" width="12" height="16.56" fill="#9aa5b8"/>
<rect x="1026.44" y="1244.96" width="12" height="3.98" fill="#7638e0"/>
<rect x="1026.44" y="1240.64" width="12" height="4.32" fill="#e4b843"/>
<rect x="1026.44" y="1237.04" width="12" height="3.6" fill="#d43833"/>
<rect x="1026.44" y="1228.74" width="12" height="8.3" fill="#86b93b"/>
<rect x="1026.44" y="1226.48" width="12" height="2.26" fill="#5087ee"/>
<rect x="1026.44" y="1224.08" width="12" height="2.4" fill="#5c5c5c"/>
<rect x="1043.56" y="1274.82" width="12" height="60.38" fill="#263a88"/>
<rect x="1043.56" y="1263.49" width="12" height="11.33" fill="#52b5d5"/>
<rect x="1043.56" y="1249.95" width="12" height="13.54" fill="#9aa5b8"/>
<rect x="1043.56" y="1244.1" width="12" height="5.86" fill="#7638e0"/>
<rect x="1043.56" y="1240.16" width="12" height="3.94" fill="#e4b843"/>
<rect x="1043.56" y="1238.72" width="12" height="1.44" fill="#d43833"/>
<rect x="1043.56" y="1233.58" width="12" height="5.14" fill="#86b93b"/>
<rect x="1043.56" y="1231.52" width="12" height="2.06" fill="#ee772e"/>
<rect x="1043.56" y="1228.64" width="12" height="2.88" fill="#5087ee"/>
<rect x="1043.56" y="1225.52" width="12" height="3.12" fill="#5c5c5c"/>
<rect x="1060.68" y="1255.04" width="12" height="80.16" fill="#263a88"/>
<rect x="1060.68" y="1237.76" width="12" height="17.28" fill="#52b5d5"/>
<rect x="1060.68" y="1223.5" width="12" height="14.26" fill="#9aa5b8"/>
<rect x="1060.68" y="1216.02" width="12" height="7.49" fill="#7638e0"/>
<rect x="1060.68" y="1212.32" width="12" height="3.7" fill="#86431e"/>
<rect x="1060.68" y="1210.4" width="12" height="1.92" fill="#e4b843"/>
<rect x="1060.68" y="1209.44" width="12" height="0.96" fill="#d43833"/>
<rect x="1060.68" y="1207.76" width="12" height="1.68" fill="#86b93b"/>
<rect x="1060.68" y="1206.08" width="12" height="1.68" fill="#ee772e"/>
<rect x="1060.68" y="1204.16" width="12" height="1.92" fill="#5087ee"/>
<rect x="1060.68" y="1202.72" width="12" height="1.44" fill="#42966f"/>
<rect x="1060.68" y="1201.28" width="12" height="1.44" fill="#dc652a"/>
<rect x="1060.68" y="1199.36" width="12" height="1.92" fill="#5c5c5c"/>
<rect x="1077.8" y="1305.73" width="12" height="29.47" fill="#263a88"/>
<rect x="1077.8" y="1291.38" width="12" height="14.35" fill="#52b5d5"/>
<rect x="1077.8" y="1265.89" width="12" height="25.49" fill="#9aa5b8"/>
<rect x="1077.8" y="1261.04" width="12" height="4.85" fill="#7638e0"/>
<rect x="1077.8" y="1249.28" width="12" height="11.76" fill="#86431e"/>
<rect x="1077.8" y="1236.42" width="12" height="12.86" fill="#e4b843"/>
<rect x="1077.8" y="1222.4" width="12" height="14.02" fill="#d43833"/>
<rect x="1077.8" y="1210.88" width="12" height="11.52" fill="#86b93b"/>
<rect x="1077.8" y="1209.44" width="12" height="1.44" fill="#ee772e"/>
<rect x="1077.8" y="1206.08" width="12" height="3.36" fill="#5087ee"/>
<rect x="1077.8" y="1204.16" width="12" height="1.92" fill="#dc652a"/>
<rect x="1077.8" y="1200.46" width="12" height="3.7" fill="#5087ee"/>
<rect x="1077.8" y="1195.18" width="12" height="5.28" fill="#1c1c1c"/>
<rect x="1094.92" y="1300.26" width="12" height="34.94" fill="#263a88"/>
<rect x="1094.92" y="1290.75" width="12" height="9.5" fill="#52b5d5"/>
<rect x="1094.92" y="1275.01" width="12" height="15.74" fill="#9aa5b8"/>
<rect x="1094.92" y="1268" width="12" height="7.01" fill="#7638e0"/>
<rect x="1094.92" y="1233.2" width="12" height="34.8" fill="#86431e"/>
<rect x="1094.92" y="1222.5" width="12" height="10.7" fill="#e4b843"/>
<rect x="1094.92" y="1219.04" width="12" height="3.46" fill="#d43833"/>
<rect x="1094.92" y="1215.39" width="12" height="3.65" fill="#86b93b"/>
<rect x="1094.92" y="1213.28" width="12" height="2.11" fill="#5087ee"/>
<rect x="1094.92" y="1211.84" width="12" height="1.44" fill="#42966f"/>
<rect x="1094.92" y="1208.48" width="12" height="3.36" fill="#1c1c1c"/>
<rect x="1112.04" y="1215.01" width="12" height="120.19" fill="#263a88"/>
<rect x="1112.04" y="1199.84" width="12" height="15.17" fill="#52b5d5"/>
<rect x="1112.04" y="1167.92" width="12" height="31.92" fill="#9aa5b8"/>
<rect x="1112.04" y="1156.83" width="12" height="11.09" fill="#7638e0"/>
<rect x="1112.04" y="1123.66" width="12" height="33.17" fill="#86431e"/>
<rect x="1112.04" y="1113.92" width="12" height="9.74" fill="#e4b843"/>
<rect x="1112.04" y="1110.37" width="12" height="3.55" fill="#d43833"/>
<rect x="1112.04" y="1104.32" width="12" height="6.05" fill="#86b93b"/>
<rect x="1112.04" y="1101.92" width="12" height="2.4" fill="#5087ee"/>
<rect x="1112.04" y="1098.08" width="12" height="3.84" fill="#42966f"/>
<rect x="1112.04" y="1092.08" width="12" height="6" fill="#dc652a"/>
<rect x="1112.04" y="1090.16" width="12" height="1.92" fill="#5087ee"/>
<rect x="1112.04" y="1085.6" width="12" height="4.56" fill="#1c1c1c"/>
<rect x="1112.04" y="1084.16" width="12" height="1.44" fill="#e0524d"/>
<rect x="1129.16" y="1223.07" width="12" height="112.13" fill="#263a88"/>
<rect x="1129.16" y="1198.64" width="12" height="24.43" fill="#52b5d5"/>
<rect x="1129.16" y="1165.28" width="12" height="33.36" fill="#9aa5b8"/>
<rect x="1129.16" y="1149.44" width="12" height="15.84" fill="#7638e0"/>
<rect x="1129.16" y="1131.68" width="12" height="17.76" fill="#86431e"/>
<rect x="1129.16" y="1124.96" width="12" height="6.72" fill="#e4b843"/>
<rect x="1129.16" y="1122.08" width="12" height="2.88" fill="#d43833"/>
<rect x="1129.16" y="1117.04" width="12" height="5.04" fill="#86b93b"/>
<rect x="1129.16" y="1115.36" width="12" height="1.68" fill="#ee772e"/>
<rect x="1129.16" y="1112.96" width="12" height="2.4" fill="#5087ee"/>
<rect x="1129.16" y="1106.91" width="12" height="6.05" fill="#42966f"/>
<rect x="1129.16" y="1105.28" width="12" height="1.63" fill="#dc652a"/>
<rect x="1129.16" y="1104.32" width="12" height="0.96" fill="#5087ee"/>
<rect x="1129.16" y="1101.44" width="12" height="2.88" fill="#1c1c1c"/>
<rect x="1146.28" y="1226.91" width="12" height="108.29" fill="#263a88"/>
<rect x="1146.28" y="1208" width="12" height="18.91" fill="#52b5d5"/>
<rect x="1146.28" y="1185.92" width="12" height="22.08" fill="#9aa5b8"/>
<rect x="1146.28" y="1172" width="12" height="13.92" fill="#7638e0"/>
<rect x="1146.28" y="1158.22" width="12" height="13.78" fill="#86431e"/>
<rect x="1146.28" y="1155.2" width="12" height="3.02" fill="#e4b843"/>
<rect x="1146.28" y="1151.36" width="12" height="3.84" fill="#d43833"/>
<rect x="1146.28" y="1148.72" width="12" height="2.64" fill="#86b93b"/>
<rect x="1146.28" y="1146.08" width="12" height="2.64" fill="#ee772e"/>
<rect x="1146.28" y="1143.2" width="12" height="2.88" fill="#5087ee"/>
<rect x="1146.28" y="1141.76" width="12" height="1.44" fill="#42966f"/>
<rect x="1146.28" y="1139.65" width="12" height="2.11" fill="#5c5c5c"/>
<rect x="1146.28" y="1136.48" width="12" height="3.17" fill="#1c1c1c"/>
<rect x="1163.4" y="1260.46" width="12" height="74.74" fill="#263a88"/>
<rect x="1163.4" y="1247.84" width="12" height="12.62" fill="#52b5d5"/>
<rect x="1163.4" y="1215.82" width="12" height="32.02" fill="#9aa5b8"/>
<rect x="1163.4" y="1199.36" width="12" height="16.46" fill="#7638e0"/>
<rect x="1163.4" y="1187.12" width="12" height="12.24" fill="#86431e"/>
<rect x="1163.4" y="1185.1" width="12" height="2.02" fill="#e4b843"/>
<rect x="1163.4" y="1183.04" width="12" height="2.06" fill="#d43833"/>
<rect x="1163.4" y="1177.04" width="12" height="6" fill="#86b93b"/>
<rect x="1163.4" y="1173.92" width="12" height="3.12" fill="#ee772e"/>
<rect x="1163.4" y="1171.52" width="12" height="2.4" fill="#5087ee"/>
<rect x="1163.4" y="1167.92" width="12" height="3.6" fill="#dc652a"/>
<rect x="1163.4" y="1165.28" width="12" height="2.64" fill="#5087ee"/>
<rect x="1163.4" y="1161.44" width="12" height="3.84" fill="#1c1c1c"/>
<rect x="1180.52" y="1261.86" width="12" height="73.34" fill="#263a88"/>
<rect x="1180.52" y="1246.88" width="12" height="14.98" fill="#52b5d5"/>
<rect x="1180.52" y="1228.93" width="12" height="17.95" fill="#9aa5b8"/>
<rect x="1180.52" y="1203.87" width="12" height="25.06" fill="#7638e0"/>
<rect x="1180.52" y="1173.92" width="12" height="29.95" fill="#86431e"/>
<rect x="1180.52" y="1172" width="12" height="1.92" fill="#e4b843"/>
<rect x="1180.52" y="1170.08" width="12" height="1.92" fill="#86b93b"/>
<rect x="1180.52" y="1167.92" width="12" height="2.16" fill="#ee772e"/>
<rect x="1180.52" y="1165.76" width="12" height="2.16" fill="#42966f"/>
<rect x="1180.52" y="1163.84" width="12" height="1.92" fill="#dc652a"/>
<rect x="1180.52" y="1162.4" width="12" height="1.44" fill="#5087ee"/>
<rect x="1180.52" y="1160.96" width="12" height="1.44" fill="#1c1c1c"/>
<rect x="1197.64" y="1318.02" width="12" height="17.18" fill="#263a88"/>
<rect x="1197.64" y="1308.8" width="12" height="9.22" fill="#52b5d5"/>
<rect x="1197.64" y="1305.92" width="12" height="2.88" fill="#9aa5b8"/>
<rect x="1197.64" y="1303.28" width="12" height="2.64" fill="#7638e0"/>
<rect x="1197.64" y="1283.5" width="12" height="19.78" fill="#86431e"/>
<rect x="1197.64" y="1281.06" width="12" height="2.45" fill="#d43833"/>
<rect x="1197.64" y="1272.56" width="12" height="8.5" fill="#86b93b"/>
<rect x="1197.64" y="1271.36" width="12" height="1.2" fill="#1c1c1c"/>
<rect x="1197.64" y="1263.87" width="12" height="7.49" fill="#5087ee"/>
<rect x="1214.76" y="1295.84" width="12" height="39.36" fill="#263a88"/>
<rect x="1214.76" y="1289.12" width="12" height="6.72" fill="#52b5d5"/>
<rect x="1214.76" y="1285.9" width="12" height="3.22" fill="#9aa5b8"/>
<rect x="1214.76" y="1283.7" width="12" height="2.21" fill="#7638e0"/>
<rect x="1214.76" y="1227.92" width="12" height="55.78" fill="#86431e"/>
<rect x="1214.76" y="1226.24" width="12" height="1.68" fill="#d43833"/>
<rect x="1214.76" y="1223.07" width="12" height="3.17" fill="#86b93b"/>
<rect x="1214.76" y="1221.44" width="12" height="1.63" fill="#ee772e"/>
<rect x="1214.76" y="1220" width="12" height="1.44" fill="#5087ee"/>
<rect x="1231.88" y="1205.7" width="12" height="129.5" fill="#263a88"/>
<rect x="1231.88" y="1165.76" width="12" height="39.94" fill="#52b5d5"/>
<rect x="1231.88" y="1150.88" width="12" height="14.88" fill="#9aa5b8"/>
<rect x="1231.88" y="1124" width="12" height="26.88" fill="#7638e0"/>
<rect x="1231.88" y="1040.34" width="12" height="83.66" fill="#86431e"/>
<rect x="1231.88" y="1036.98" width="12" height="3.36" fill="#e4b843"/>
<rect x="1231.88" y="1032.99" width="12" height="3.98" fill="#d43833"/>
<rect x="1231.88" y="1030.88" width="12" height="2.11" fill="#86b93b"/>
<rect x="1231.88" y="1029.15" width="12" height="1.73" fill="#42966f"/>
<rect x="1231.88" y="1027.04" width="12" height="2.11" fill="#ee772e"/>
<rect x="1231.88" y="1018.06" width="12" height="8.98" fill="#5087ee"/>
<rect x="1231.88" y="1015.33" width="12" height="2.74" fill="#1c1c1c"/>
<rect x="1249" y="1240.88" width="12" height="94.32" fill="#263a88"/>
<rect x="1249" y="1213.57" width="12" height="27.31" fill="#52b5d5"/>
<rect x="1249" y="1203.68" width="12" height="9.89" fill="#9aa5b8"/>
<rect x="1249" y="1162.4" width="12" height="41.28" fill="#7638e0"/>
<rect x="1249" y="1114.88" width="12" height="47.52" fill="#86431e"/>
<rect x="1249" y="1111.76" width="12" height="3.12" fill="#e4b843"/>
<rect x="1249" y="1109.36" width="12" height="2.4" fill="#86b93b"/>
<rect x="1249" y="1107.2" width="12" height="2.16" fill="#42966f"/>
<rect x="1249" y="1104.8" width="12" height="2.4" fill="#ee772e"/>
<rect x="1249" y="1102.69" width="12" height="2.11" fill="#5087ee"/>
<rect x="1249" y="1100.24" width="12" height="2.45" fill="#5c5c5c"/>
<rect x="1266.12" y="1252.16" width="12" height="83.04" fill="#263a88"/>
<rect x="1266.12" y="1238.82" width="12" height="13.34" fill="#52b5d5"/>
<rect x="1266.12" y="1229.36" width="12" height="9.46" fill="#9aa5b8"/>
<rect x="1266.12" y="1217.6" width="12" height="11.76" fill="#7638e0"/>
<rect x="1266.12" y="1195.62" width="12" height="21.98" fill="#86431e"/>
<rect x="1266.12" y="1193.12" width="12" height="2.5" fill="#d43833"/>
<rect x="1266.12" y="1191.2" width="12" height="1.92" fill="#42966f"/>
<rect x="1266.12" y="1189.76" width="12" height="1.44" fill="#5087ee"/>
<rect x="1266.12" y="1188.13" width="12" height="1.63" fill="#5c5c5c"/>
<rect x="1283.24" y="1268.72" width="12" height="66.48" fill="#263a88"/>
<rect x="1283.24" y="1250.72" width="12" height="18" fill="#52b5d5"/>
<rect x="1283.24" y="1245.92" width="12" height="4.8" fill="#9aa5b8"/>
<rect x="1283.24" y="1208.96" width="12" height="36.96" fill="#7638e0"/>
<rect x="1283.24" y="1192.78" width="12" height="16.18" fill="#86431e"/>
<rect x="1283.24" y="1190.72" width="12" height="2.06" fill="#e4b843"/>
<rect x="1283.24" y="1189.04" width="12" height="1.68" fill="#86b93b"/>
<rect x="1283.24" y="1187.36" width="12" height="1.68" fill="#42966f"/>
<rect x="1283.24" y="1184.48" width="12" height="2.88" fill="#ee772e"/>
<rect x="1283.24" y="1183.52" width="12" height="0.96" fill="#5087ee"/>
<rect x="1283.24" y="1181.36" width="12" height="2.16" fill="#1c1c1c"/>
<rect x="1283.24" y="1174.4" width="12" height="6.96" fill="#e0524d"/>
<rect x="1300.36" y="1271.55" width="12" height="63.65" fill="#263a88"/>
<rect x="1300.36" y="1253.79" width="12" height="17.76" fill="#52b5d5"/>
<rect x="1300.36" y="1248.94" width="12" height="4.85" fill="#9aa5b8"/>
<rect x="1300.36" y="1232.77" width="12" height="16.18" fill="#7638e0"/>
<rect x="1300.36" y="1222.5" width="12" height="10.27" fill="#86431e"/>
<rect x="1300.36" y="1221.06" width="12" height="1.44" fill="#e4b843"/>
<rect x="1300.36" y="1219.52" width="12" height="1.54" fill="#d43833"/>
<rect x="1300.36" y="1217.12" width="12" height="2.4" fill="#86b93b"/>
<rect x="1300.36" y="1214.96" width="12" height="2.16" fill="#42966f"/>
<rect x="1300.36" y="1212.99" width="12" height="1.97" fill="#5087ee"/>
<rect x="1300.36" y="1211.84" width="12" height="1.15" fill="#1c1c1c"/>
<rect x="1300.36" y="1209.44" width="12" height="2.4" fill="#e0524d"/>
<rect x="1317.48" y="1317.2" width="12" height="18" fill="#263a88"/>
<rect x="1317.48" y="1311.34" width="12" height="5.86" fill="#52b5d5"/>
<rect x="1317.48" y="1310" width="12" height="1.34" fill="#9aa5b8"/>
<rect x="1317.48" y="1308.94" width="12" height="1.06" fill="#7638e0"/>
<rect x="1317.48" y="1289.74" width="12" height="19.2" fill="#86431e"/>
<rect x="1317.48" y="1288.64" width="12" height="1.1" fill="#d43833"/>
<rect x="1317.48" y="1286.53" width="12" height="2.11" fill="#86b93b"/>
<rect x="1317.48" y="1281.68" width="12" height="4.85" fill="#5087ee"/>
<rect x="1317.48" y="1280.96" width="12" height="0.72" fill="#5c5c5c"/>
<rect x="1334.6" y="1313.36" width="12" height="21.84" fill="#263a88"/>
<rect x="1334.6" y="1306.74" width="12" height="6.62" fill="#52b5d5"/>
<rect x="1334.6" y="1299.2" width="12" height="7.54" fill="#9aa5b8"/>
<rect x="1334.6" y="1298.24" width="12" height="0.96" fill="#7638e0"/>
<rect x="1334.6" y="1277.22" width="12" height="21.02" fill="#86431e"/>
<rect x="1334.6" y="1275.68" width="12" height="1.54" fill="#e4b843"/>
<rect x="1334.6" y="1273.57" width="12" height="2.11" fill="#d43833"/>
<rect x="1334.6" y="1269.34" width="12" height="4.22" fill="#86b93b"/>
<rect x="1334.6" y="1267.52" width="12" height="1.82" fill="#5087ee"/>
<rect x="1334.6" y="1266.8" width="12" height="0.72" fill="#5c5c5c"/>
<rect x="1351.72" y="1245.1" width="12" height="90.1" fill="#263a88"/>
<rect x="1351.72" y="1231.76" width="12" height="13.34" fill="#52b5d5"/>
<rect x="1351.72" y="1222.88" width="12" height="8.88" fill="#9aa5b8"/>
<rect x="1351.72" y="1213.76" width="12" height="9.12" fill="#7638e0"/>
<rect x="1351.72" y="1197.92" width="12" height="15.84" fill="#86431e"/>
<rect x="1351.72" y="1195.28" width="12" height="2.64" fill="#e4b843"/>
<rect x="1351.72" y="1191.68" width="12" height="3.6" fill="#86b93b"/>
<rect x="1351.72" y="1189.28" width="12" height="2.4" fill="#42966f"/>
<rect x="1351.72" y="1187.12" width="12" height="2.16" fill="#5087ee"/>
<rect x="1351.72" y="1185.1" width="12" height="2.02" fill="#e0524d"/>
<rect x="1368.84" y="1273.57" width="12" height="61.63" fill="#263a88"/>
<rect x="1368.84" y="1259.84" width="12" height="13.73" fill="#52b5d5"/>
<rect x="1368.84" y="1251.78" width="12" height="8.06" fill="#9aa5b8"/>
<rect x="1368.84" y="1233.78" width="12" height="18" fill="#7638e0"/>
<rect x="1368.84" y="1223.07" width="12" height="10.7" fill="#86431e"/>
<rect x="1368.84" y="1221.44" width="12" height="1.63" fill="#e4b843"/>
<rect x="1368.84" y="1218.56" width="12" height="2.88" fill="#d43833"/>
<rect x="1368.84" y="1215.92" width="12" height="2.64" fill="#ee772e"/>
<rect x="1368.84" y="1206.32" width="12" height="9.6" fill="#42966f"/>
<rect x="1368.84" y="1204.88" width="12" height="1.44" fill="#5087ee"/>
<rect x="1368.84" y="1203.2" width="12" height="1.68" fill="#5c5c5c"/>
<rect x="1385.96" y="1300.06" width="12" height="35.14" fill="#263a88"/>
<rect x="1385.96" y="1294.59" width="12" height="5.47" fill="#52b5d5"/>
<rect x="1385.96" y="1284.08" width="12" height="10.51" fill="#9aa5b8"/>
<rect x="1385.96" y="1277.6" width="12" height="6.48" fill="#7638e0"/>
<rect x="1385.96" y="1272.32" width="12" height="5.28" fill="#86431e"/>
<rect x="1385.96" y="1270.54" width="12" height="1.78" fill="#e4b843"/>
<rect x="1385.96" y="1268.96" width="12" height="1.58" fill="#d43833"/>
<rect x="1385.96" y="1265.89" width="12" height="3.07" fill="#ee772e"/>
<rect x="1385.96" y="1263.49" width="12" height="2.4" fill="#42966f"/>
<rect x="1385.96" y="1261.86" width="12" height="1.63" fill="#5c5c5c"/>
</g>
<g id="lines">
<defs>
<linearGradient id="gn" x1="0" y1="0" x2="0" y2="1"><stop offset="0" stop-color="#263a88" stop-opacity="0.15"/><stop offset="1" stop-color="#263a88" stop-opacity="0.02"/></linearGradient>
<linearGradient id="gc" x1="0" y1="0" x2="0" y2="1"><stop offset="0" stop-color="#52b5d5" stop-opacity="0.15"/><stop offset="1" stop-color="#52b5d5" stop-opacity="0.02"/></linearGradient>
<linearGradient id="gg" x1="0" y1="0" x2="0" y2="1"><stop offset="0" stop-color="#9aa5b8" stop-opacity="0.15"/><stop offset="1" stop-color="#9aa5b8" stop-opacity="0.02"/></linearGradient>
<linearGradient id="gp" x1="0" y1="0" x2="0" y2="1"><stop offset="0" stop-color="#7638e0" stop-opacity="0.15"/><stop offset="1" stop-color="#7638e0" stop-opacity="0.02"/></linearGradient>
<linearGradient id="gb" x1="0" y1="0" x2="0" y2="1"><stop offset="0" stop-color="#86431e" stop-opacity="0.15"/><stop offset="1" stop-color="#86431e" stop-opacity="0.02"/></linearGradient>
<linearGradient id="gy" x1="0" y1="0" x2="0" y2="1"><stop offset="0" stop-color="#e4b843" stop-opacity="0.15"/><stop offset="1" stop-color="#e4b843" stop-opacity="0.02"/></linearGradient>
<linearGradient id="gr" x1="0" y1="0" x2="0" y2="1"><stop offset="0" stop-color="#d43833" stop-opacity="0.15"/><stop offset="1" stop-color="#d43833" stop-opacity="0.02"/></linearGradient>
<linearGradient id="gl" x1="0" y1="0" x2="0" y2="1"><stop offset="0" stop-color="#86b93b" stop-opacity="0.15"/><stop offset="1" stop-color="#86b93b" stop-opacity="0.02"/></linearGradient>
<linearGradient id="gu" x1="0" y1="0" x2="0" y2="1"><stop offset="0" stop-color="#5087ee" stop-opacity="0.15"/><stop offset="1" stop-color="#5087ee" stop-opacity="0.02"/></linearGradient>
<linearGradient id="go" x1="0" y1="0" x2="0" y2="1"><stop offset="0" stop-color="#ee772e" stop-opacity="0.15"/><stop offset="1" stop-color="#ee772e" stop-opacity="0.02"/></linearGradient>
<linearGradient id="gt" x1="0" y1="0" x2="0" y2="1"><stop offset="0" stop-color="#42966f" stop-opacity="0.15"/><stop offset="1" stop-color="#42966f" stop-opacity="0.02"/></linearGradient>
<linearGradient id="gd" x1="0" y1="0" x2="0" y2="1"><stop offset="0" stop-color="#dc652a" stop-opacity="0.15"/><stop offset="1" stop-color="#dc652a" stop-opacity="0.02"/></linearGradient>
<linearGradient id="gk" x1="0" y1="0" x2="0" y2="1"><stop offset="0" stop-color="#5c5c5c" stop-opacity="0.15"/><stop offset="1" stop-color="#5c5c5c" stop-opacity="0.02"/></linearGradient>
<linearGradient id="gx" x1="0" y1="0" x2="0" y2="1"><stop offset="0" stop-color="#1c1c1c" stop-opacity="0.15"/><stop offset="1" stop-color="#1c1c1c" stop-opacity="0.02"/></linearGradient>
<linearGradient id="gs" x1="0" y1="0" x2="0" y2="1"><stop offset="0" stop-color="#e0524d" stop-opacity="0.15"/><stop offset="1" stop-color="#e0524d" stop-opacity="0.02"/></linearGradient>
</defs>
<line x1="1654" x2="2783.92" y1="1351.9" y2="1351.9" class="gl"/>
<line x1="1654" x2="2783.92" y1="1255.9" y2="1255.9" class="gl"/>
<line x1="1654" x2="2783.92" y1="1159.9" y2="1159.9" class="gl"/>
<line x1="1654" x2="2783.92" y1="1063.9" y2="1063.9" class="gl"/>
<line x1="1654" x2="2783.92" y1="967.9" y2="967.9" class="gl"/>
<line x1="1654" x2="2783.92" y1="871.9" y2="871.9" class="gl"/>
<text x="1639.4" y="1359.1" text-anchor="end" class="ax">$0.00</text>
<text x="1639.4" y="1263.1" text-anchor="end" class="ax">$500.00M</text>
<text x="1639.4" y="1167.1" text-anchor="end" class="ax">$1.00B</text>
<text x="1639.4" y="1071.1" text-anchor="end" class="ax">$1.50B</text>
<text x="1639.4" y="975.1" text-anchor="end" class="ax">$2.00B</text>
<text x="1639.4" y="879.1" text-anchor="end" class="ax">$2.50B</text>
<text x="1662.56" y="1386" text-anchor="middle" class="ax">Jan 12</text>
<text x="1782.4" y="1386" text-anchor="middle" class="ax">Jan 19</text>
<text x="1902.24" y="1386" text-anchor="middle" class="ax">Jan 26</text>
<text x="2022.08" y="1386" text-anchor="middle" class="ax">Feb 2</text>
<text x="2141.92" y="1386" text-anchor="middle" class="ax">Feb 9</text>
<text x="2261.76" y="1386" text-anchor="middle" class="ax">Feb 16</text>
<text x="2381.6" y="1386" text-anchor="middle" class="ax">Feb 23</text>
<text x="2501.44" y="1386" text-anchor="middle" class="ax">Mar 2</text>
<text x="2621.28" y="1386" text-anchor="middle" class="ax">Mar 9</text>
<text x="2741.12" y="1386" text-anchor="middle" class="ax">Mar 16</text>
<path d="M1662.56,1347.18C1668.27,1342.26 1673.97,1337.33 1679.68,1333.63C1685.39,1329.92 1691.09,1327.09 1696.8,1324.95C1702.51,1322.81 1708.21,1321.99 1713.92,1320.76C1719.63,1319.54 1725.33,1318.08 1731.04,1317.6C1736.75,1317.12 1742.45,1317.26 1748.16,1316.88C1753.87,1316.51 1759.57,1316.17 1765.28,1315.37C1770.99,1314.56 1776.69,1313.02 1782.4,1312.05C1788.11,1311.07 1793.81,1310.4 1799.52,1309.53C1805.23,1308.66 1810.93,1307.7 1816.64,1306.84C1822.35,1305.99 1828.05,1305.41 1833.76,1304.39C1839.47,1303.38 1845.17,1301.42 1850.88,1300.78C1856.59,1300.13 1862.29,1300.18 1868,1299.81C1873.71,1299.43 1879.41,1299.38 1885.12,1298.52C1890.83,1297.66 1896.53,1295.9 1902.24,1294.5C1907.95,1293.09 1913.65,1291.71 1919.36,1290.07C1925.07,1288.42 1930.77,1286.67 1936.48,1284.61C1942.19,1282.56 1947.89,1279.73 1953.6,1277.73C1959.31,1275.73 1965.01,1273.09 1970.72,1272.62C1976.43,1272.15 1982.13,1272.19 1987.84,1271.92C1993.55,1271.65 1999.25,1271.61 2004.96,1270.98C2010.67,1270.36 2016.37,1268.75 2022.08,1266.9C2027.79,1265.06 2033.49,1262.14 2039.2,1259.9C2044.91,1257.67 2050.61,1255.16 2056.32,1253.47C2062.03,1251.79 2067.73,1250.88 2073.44,1249.8C2079.15,1248.71 2084.85,1247.68 2090.56,1246.98C2096.27,1246.29 2101.97,1246.06 2107.68,1245.62C2113.39,1245.18 2119.09,1245.08 2124.8,1244.34C2130.51,1243.61 2136.21,1242.07 2141.92,1241.22C2147.63,1240.37 2153.33,1240.07 2159.04,1239.24C2164.75,1238.41 2170.45,1237.33 2176.16,1236.24C2181.87,1235.14 2187.57,1234.19 2193.28,1232.67C2198.99,1231.16 2204.69,1227.91 2210.4,1227.14C2216.11,1226.37 2221.81,1226.44 2227.52,1225.98C2233.23,1225.52 2238.93,1225.01 2244.64,1224.37C2250.35,1223.74 2256.05,1223.41 2261.76,1222.16C2267.47,1220.92 2273.17,1218.36 2278.88,1216.91C2284.59,1215.47 2290.29,1214.55 2296,1213.48C2301.71,1212.42 2307.41,1211.62 2313.12,1210.53C2318.83,1209.44 2324.53,1207.76 2330.24,1206.96C2335.95,1206.16 2341.65,1206.12 2347.36,1205.72C2353.07,1205.32 2358.77,1205.34 2364.48,1204.58C2370.19,1203.82 2375.89,1202.21 2381.6,1201.13C2387.31,1200.04 2393.01,1198.97 2398.72,1198.09C2404.43,1197.21 2410.13,1196.62 2415.84,1195.85C2421.55,1195.07 2427.25,1194.37 2432.96,1193.43C2438.67,1192.49 2444.37,1190.95 2450.08,1190.22C2455.79,1189.49 2461.49,1189.47 2467.2,1189.04C2472.91,1188.62 2478.61,1188.58 2484.32,1187.65C2490.03,1186.72 2495.73,1184.39 2501.44,1182.84C2507.15,1181.29 2512.85,1179.82 2518.56,1178.35C2524.27,1176.88 2529.97,1175.24 2535.68,1174.02C2541.39,1172.8 2547.09,1172.02 2552.8,1171.03C2558.51,1170.05 2564.21,1168.56 2569.92,1168.1C2575.63,1167.64 2581.33,1167.79 2587.04,1167.41C2592.75,1167.04 2598.45,1166.89 2604.16,1165.84C2609.87,1164.79 2615.57,1162.15 2621.28,1160.66C2626.99,1159.17 2632.69,1158.07 2638.4,1156.88C2644.11,1155.7 2649.81,1154.56 2655.52,1153.56C2661.23,1152.57 2666.93,1151.77 2672.64,1150.9C2678.35,1150.04 2684.05,1148.84 2689.76,1148.36C2695.47,1147.88 2701.17,1147.9 2706.88,1147.64C2712.59,1147.37 2718.29,1147.35 2724,1146.76C2729.71,1146.18 2735.41,1144.17 2741.12,1143.16C2746.83,1142.15 2752.53,1141.34 2758.24,1140.7C2763.95,1140.05 2769.65,1139.67 2775.36,1139.29L2775.36,1351.5L1662.56,1351.5Z" fill="url(#gn)"/>
<path d="M1662.56,1351.5C1668.27,1351.08 1673.97,1350.66 1679.68,1350.24C1685.39,1349.81 1691.09,1349.33 1696.8,1348.94C1702.51,1348.56 1708.21,1348.18 1713.92,1347.95C1719.63,1347.71 1725.33,1347.55 1731.04,1347.52C1736.75,1347.48 1742.45,1347.49 1748.16,1347.46C1753.87,1347.43 1759.57,1347.42 1765.28,1347.33C1770.99,1347.24 1776.69,1347.06 1782.4,1346.9C1788.11,1346.74 1793.81,1346.56 1799.52,1346.37C1805.23,1346.17 1810.93,1345.94 1816.64,1345.73C1822.35,1345.53 1828.05,1345.38 1833.76,1345.13C1839.47,1344.88 1845.17,1344.38 1850.88,1344.23C1856.59,1344.09 1862.29,1344.09 1868,1344.01C1873.71,1343.94 1879.41,1343.93 1885.12,1343.76C1890.83,1343.6 1896.53,1342.88 1902.24,1342.41C1907.95,1341.95 1913.65,1341.48 1919.36,1340.98C1925.07,1340.49 1930.77,1339.95 1936.48,1339.47C1942.19,1338.99 1947.89,1338.55 1953.6,1338.1C1959.31,1337.65 1965.01,1336.93 1970.72,1336.76C1976.43,1336.59 1982.13,1336.58 1987.84,1336.51C1993.55,1336.43 1999.25,1336.44 2004.96,1336.31C2010.67,1336.17 2016.37,1335.91 2022.08,1335.13C2027.79,1334.35 2033.49,1332.38 2039.2,1330.91C2044.91,1329.45 2050.61,1327.21 2056.32,1326.34C2062.03,1325.48 2067.73,1325.42 2073.44,1325.05C2079.15,1324.68 2084.85,1324.16 2090.56,1324.11C2096.27,1324.06 2101.97,1324.06 2107.68,1324.03C2113.39,1324.01 2119.09,1324.01 2124.8,1323.95C2130.51,1323.9 2136.21,1323.55 2141.92,1323.29C2147.63,1323.03 2153.33,1322.68 2159.04,1322.39C2164.75,1322.11 2170.45,1321.91 2176.16,1321.6C2181.87,1321.3 2187.57,1320.91 2193.28,1320.55C2198.99,1320.18 2204.69,1319.57 2210.4,1319.41C2216.11,1319.26 2221.81,1319.29 2227.52,1319.19C2233.23,1319.09 2238.93,1318.98 2244.64,1318.81C2250.35,1318.64 2256.05,1318.45 2261.76,1318.16C2267.47,1317.88 2273.17,1317.36 2278.88,1317.08C2284.59,1316.8 2290.29,1316.7 2296,1316.5C2301.71,1316.29 2307.41,1316.11 2313.12,1315.86C2318.83,1315.61 2324.53,1315.21 2330.24,1314.99C2335.95,1314.77 2341.65,1314.64 2347.36,1314.53C2353.07,1314.43 2358.77,1314.47 2364.48,1314.35C2370.19,1314.23 2375.89,1313.67 2381.6,1313.36C2387.31,1313.06 2393.01,1312.77 2398.72,1312.54C2404.43,1312.32 2410.13,1312.17 2415.84,1312C2421.55,1311.84 2427.25,1311.74 2432.96,1311.55C2438.67,1311.36 2444.37,1311.07 2450.08,1310.86C2455.79,1310.65 2461.49,1310.44 2467.2,1310.28C2472.91,1310.12 2478.61,1310.07 2484.32,1309.9C2490.03,1309.74 2495.73,1309.56 2501.44,1309.3C2507.15,1309.03 2512.85,1308.61 2518.56,1308.32C2524.27,1308.03 2529.97,1307.77 2535.68,1307.56C2541.39,1307.35 2547.09,1307.24 2552.8,1307.06C2558.51,1306.87 2564.21,1306.62 2569.92,1306.46C2575.63,1306.3 2581.33,1306.2 2587.04,1306.09C2592.75,1305.98 2598.45,1306 2604.16,1305.82C2609.87,1305.64 2615.57,1304.67 2621.28,1304.22C2626.99,1303.78 2632.69,1303.4 2638.4,1303.13C2644.11,1302.86 2649.81,1302.81 2655.52,1302.6C2661.23,1302.39 2666.93,1302.12 2672.64,1301.88C2678.35,1301.64 2684.05,1301.32 2689.76,1301.17C2695.47,1301.01 2701.17,1301.02 2706.88,1300.93C2712.59,1300.85 2718.29,1300.8 2724,1300.67C2729.71,1300.53 2735.41,1300.31 2741.12,1300.13C2746.83,1299.95 2752.53,1299.71 2758.24,1299.59C2763.95,1299.46 2769.65,1299.41 2775.36,1299.37L2775.36,1351.5L1662.56,1351.5Z" fill="url(#gc)"/>
<path d="M1662.56,1351.5C1668.27,1351.5 1673.97,1351.5 1679.68,1351.5C1685.39,1351.5 1691.09,1351.5 1696.8,1351.5C1702.51,1351.5 1708.21,1351.5 1713.92,1351.5C1719.63,1351.5 1725.33,1351.5 1731.04,1351.5C1736.75,1351.5 1742.45,1351.5 1748.16,1351.5C1753.87,1351.5 1759.57,1351.5 1765.28,1351.5C1770.99,1351.5 1776.69,1351.5 1782.4,1351.5C1788.11,1351.5 1793.81,1351.5 1799.52,1351.5C1805.23,1351.5 1810.93,1351.5 1816.64,1351.5C1822.35,1351.5 1828.05,1351.5 1833.76,1351.5C1839.47,1351.5 1845.17,1351.5 1850.88,1351.5C1856.59,1351.5 1862.29,1351.5 1868,1351.5C1873.71,1351.5 1879.41,1351.5 1885.12,1351.5C1890.83,1351.5 1896.53,1351.5 1902.24,1351.5C1907.95,1351.5 1913.65,1351.5 1919.36,1351.5C1925.07,1351.5 1930.77,1351.06 1936.48,1350.18C1942.19,1349.29 1947.89,1347.57 1953.6,1345.8C1959.31,1344.04 1965.01,1340.43 1970.72,1339.57C1976.43,1338.71 1982.13,1338.61 1987.84,1338.28C1993.55,1337.94 1999.25,1338.04 2004.96,1337.56C2010.67,1337.08 2016.37,1336.06 2022.08,1335.04C2027.79,1334.02 2033.49,1332.14 2039.2,1331.42C2044.91,1330.69 2050.61,1330.73 2056.32,1330.33C2062.03,1329.93 2067.73,1329.41 2073.44,1329.01C2079.15,1328.6 2084.85,1327.99 2090.56,1327.92C2096.27,1327.85 2101.97,1327.89 2107.68,1327.82C2113.39,1327.75 2119.09,1327.71 2124.8,1327.51C2130.51,1327.3 2136.21,1326.57 2141.92,1326.28C2147.63,1325.99 2153.33,1325.96 2159.04,1325.77C2164.75,1325.57 2170.45,1325.41 2176.16,1325.12C2181.87,1324.82 2187.57,1324.3 2193.28,1324C2198.99,1323.7 2204.69,1323.38 2210.4,1323.35C2216.11,1323.31 2221.81,1323.33 2227.52,1323.29C2233.23,1323.25 2238.93,1323.19 2244.64,1322.99C2250.35,1322.79 2256.05,1322.31 2261.76,1322.03C2267.47,1321.75 2273.17,1321.5 2278.88,1321.31C2284.59,1321.12 2290.29,1321.01 2296,1320.91C2301.71,1320.8 2307.41,1320.79 2313.12,1320.69C2318.83,1320.59 2324.53,1320.35 2330.24,1320.31C2335.95,1320.27 2341.65,1320.29 2347.36,1320.24C2353.07,1320.2 2358.77,1320.14 2364.48,1319.96C2370.19,1319.78 2375.89,1319.39 2381.6,1319.15C2387.31,1318.92 2393.01,1318.75 2398.72,1318.54C2404.43,1318.33 2410.13,1318.08 2415.84,1317.88C2421.55,1317.68 2427.25,1317.52 2432.96,1317.34C2438.67,1317.15 2444.37,1317.03 2450.08,1316.77C2455.79,1316.5 2461.49,1316.02 2467.2,1315.75C2472.91,1315.47 2478.61,1315.44 2484.32,1315.12C2490.03,1314.8 2495.73,1314.28 2501.44,1313.84C2507.15,1313.41 2512.85,1312.88 2518.56,1312.51C2524.27,1312.14 2529.97,1311.98 2535.68,1311.62C2541.39,1311.26 2547.09,1310.68 2552.8,1310.34C2558.51,1310.01 2564.21,1309.7 2569.92,1309.62C2575.63,1309.55 2581.33,1309.55 2587.04,1309.51C2592.75,1309.47 2598.45,1309.47 2604.16,1309.38C2609.87,1309.3 2615.57,1308.95 2621.28,1308.79C2626.99,1308.62 2632.69,1308.52 2638.4,1308.39C2644.11,1308.26 2649.81,1308.11 2655.52,1308.01C2661.23,1307.92 2666.93,1307.88 2672.64,1307.82C2678.35,1307.76 2684.05,1307.66 2689.76,1307.63C2695.47,1307.59 2701.17,1307.61 2706.88,1307.57C2712.59,1307.54 2718.29,1307.38 2724,1307.27C2729.71,1307.16 2735.41,1307.03 2741.12,1306.92C2746.83,1306.8 2752.53,1306.72 2758.24,1306.59C2763.95,1306.47 2769.65,1306.32 2775.36,1306.17L2775.36,1351.5L1662.56,1351.5Z" fill="url(#gg)"/>
<path d="M1662.56,1351.5C1668.27,1351.5 1673.97,1351.5 1679.68,1351.5C1685.39,1351.5 1691.09,1351.26 1696.8,1351.13C1702.51,1350.99 1708.21,1350.82 1713.92,1350.69C1719.63,1350.55 1725.33,1350.36 1731.04,1350.31C1736.75,1350.27 1742.45,1350.27 1748.16,1350.24C1753.87,1350.21 1759.57,1350.2 1765.28,1350.13C1770.99,1350.05 1776.69,1349.81 1782.4,1349.69C1788.11,1349.58 1793.81,1349.57 1799.52,1349.44C1805.23,1349.32 1810.93,1349.08 1816.64,1348.93C1822.35,1348.77 1828.05,1348.7 1833.76,1348.52C1839.47,1348.35 1845.17,1348.01 1850.88,1347.87C1856.59,1347.73 1862.29,1347.71 1868,1347.66C1873.71,1347.6 1879.41,1347.62 1885.12,1347.54C1890.83,1347.47 1896.53,1347.27 1902.24,1347.14C1907.95,1347.01 1913.65,1346.86 1919.36,1346.74C1925.07,1346.61 1930.77,1346.53 1936.48,1346.39C1942.19,1346.25 1947.89,1346.05 1953.6,1345.89C1959.31,1345.73 1965.01,1345.53 1970.72,1345.43C1976.43,1345.33 1982.13,1345.32 1987.84,1345.28C1993.55,1345.24 1999.25,1345.25 2004.96,1345.19C2010.67,1345.14 2016.37,1344.99 2022.08,1344.61C2027.79,1344.23 2033.49,1343.45 2039.2,1342.93C2044.91,1342.42 2050.61,1341.86 2056.32,1341.54C2062.03,1341.21 2067.73,1341.14 2073.44,1341C2079.15,1340.86 2084.85,1340.69 2090.56,1340.69C2096.27,1340.69 2101.97,1340.69 2107.68,1340.69C2113.39,1340.69 2119.09,1340.69 2124.8,1340.69C2130.51,1340.69 2136.21,1340.54 2141.92,1340.47C2147.63,1340.4 2153.33,1340.35 2159.04,1340.27C2164.75,1340.2 2170.45,1340.1 2176.16,1340.01C2181.87,1339.91 2187.57,1339.82 2193.28,1339.69C2198.99,1339.56 2204.69,1339.25 2210.4,1339.23C2216.11,1339.2 2221.81,1339.2 2227.52,1339.19C2233.23,1339.17 2238.93,1339.17 2244.64,1339.15C2250.35,1339.13 2256.05,1339.13 2261.76,1339.09C2267.47,1339.04 2273.17,1338.41 2278.88,1338.28C2284.59,1338.14 2290.29,1338.15 2296,1338.07C2301.71,1337.99 2307.41,1337.93 2313.12,1337.78C2318.83,1337.63 2324.53,1337.21 2330.24,1337.18C2335.95,1337.15 2341.65,1337.15 2347.36,1337.13C2353.07,1337.12 2358.77,1337.12 2364.48,1337.09C2370.19,1337.06 2375.89,1336.81 2381.6,1336.7C2387.31,1336.59 2393.01,1336.5 2398.72,1336.43C2404.43,1336.36 2410.13,1336.34 2415.84,1336.27C2421.55,1336.21 2427.25,1336.13 2432.96,1336.04C2438.67,1335.95 2444.37,1335.82 2450.08,1335.74C2455.79,1335.66 2461.49,1335.63 2467.2,1335.55C2472.91,1335.47 2478.61,1335.39 2484.32,1335.27C2490.03,1335.15 2495.73,1335 2501.44,1334.82C2507.15,1334.64 2512.85,1334.39 2518.56,1334.19C2524.27,1333.99 2529.97,1333.84 2535.68,1333.63C2541.39,1333.43 2547.09,1333.25 2552.8,1332.97C2558.51,1332.7 2564.21,1332.04 2569.92,1331.97C2575.63,1331.9 2581.33,1331.9 2587.04,1331.87C2592.75,1331.83 2598.45,1331.84 2604.16,1331.78C2609.87,1331.72 2615.57,1331.16 2621.28,1330.7C2626.99,1330.25 2632.69,1329.36 2638.4,1329.05C2644.11,1328.74 2649.81,1328.89 2655.52,1328.58C2661.23,1328.27 2666.93,1327.46 2672.64,1327.1C2678.35,1326.75 2684.05,1326.48 2689.76,1326.46C2695.47,1326.43 2701.17,1326.43 2706.88,1326.41C2712.59,1326.4 2718.29,1326.4 2724,1326.37C2729.71,1326.35 2735.41,1326.19 2741.12,1326.01C2746.83,1325.83 2752.53,1325.45 2758.24,1325.29C2763.95,1325.13 2769.65,1325.08 2775.36,1325.03L2775.36,1351.5L1662.56,1351.5Z" fill="url(#gp)"/>
<path d="M1662.56,1351.5C1668.27,1351.5 1673.97,1351.5 1679.68,1351.5C1685.39,1351.5 1691.09,1351.5 1696.8,1351.5C1702.51,1351.5 1708.21,1351.5 1713.92,1351.5C1719.63,1351.5 1725.33,1351.5 1731.04,1351.5C1736.75,1351.5 1742.45,1351.5 1748.16,1351.5C1753.87,1351.5 1759.57,1351.5 1765.28,1351.5C1770.99,1351.5 1776.69,1351.5 1782.4,1351.5C1788.11,1351.5 1793.81,1351.5 1799.52,1351.5C1805.23,1351.5 1810.93,1351.5 1816.64,1351.5C1822.35,1351.5 1828.05,1351.48 1833.76,1351.46C1839.47,1351.44 1845.17,1351.39 1850.88,1351.37C1856.59,1351.34 1862.29,1351.35 1868,1351.33C1873.71,1351.31 1879.41,1351.27 1885.12,1351.24C1890.83,1351.21 1896.53,1351.18 1902.24,1351.15C1907.95,1351.12 1913.65,1351.09 1919.36,1351.06C1925.07,1351.02 1930.77,1350.98 1936.48,1350.94C1942.19,1350.91 1947.89,1350.88 1953.6,1350.85C1959.31,1350.82 1965.01,1350.78 1970.72,1350.76C1976.43,1350.74 1982.13,1350.75 1987.84,1350.72C1993.55,1350.7 1999.25,1350.61 2004.96,1350.55C2010.67,1350.49 2016.37,1350.4 2022.08,1350.36C2027.79,1350.32 2033.49,1350.32 2039.2,1350.3C2044.91,1350.28 2050.61,1350.27 2056.32,1350.26C2062.03,1350.25 2067.73,1350.24 2073.44,1350.24C2079.15,1350.24 2084.85,1350.24 2090.56,1350.24C2096.27,1350.24 2101.97,1350.24 2107.68,1350.24C2113.39,1350.24 2119.09,1350.24 2124.8,1350.24C2130.51,1350.24 2136.21,1350.24 2141.92,1350.24C2147.63,1350.24 2153.33,1350.24 2159.04,1350.24C2164.75,1350.24 2170.45,1350.24 2176.16,1350.24C2181.87,1350.24 2187.57,1350.24 2193.28,1350.24C2198.99,1350.24 2204.69,1350.24 2210.4,1350.24C2216.11,1350.24 2221.81,1350.24 2227.52,1350.24C2233.23,1350.24 2238.93,1350.18 2244.64,1350.18C2250.35,1350.18 2256.05,1350.18 2261.76,1350.18C2267.47,1350.18 2273.17,1350.18 2278.88,1350.18C2284.59,1350.18 2290.29,1350.18 2296,1350.18C2301.71,1350.18 2307.41,1350.14 2313.12,1350.14C2318.83,1350.14 2324.53,1350.14 2330.24,1350.14C2335.95,1350.14 2341.65,1350.14 2347.36,1350.14C2353.07,1350.14 2358.77,1350.14 2364.48,1350.14C2370.19,1350.14 2375.89,1350.08 2381.6,1350.08C2387.31,1350.08 2393.01,1350.08 2398.72,1350.08C2404.43,1350.08 2410.13,1350.08 2415.84,1350.08C2421.55,1350.08 2427.25,1350.08 2432.96,1350.08C2438.67,1350.08 2444.37,1350.04 2450.08,1349.94C2455.79,1349.84 2461.49,1349.78 2467.2,1349.47C2472.91,1349.16 2478.61,1348.53 2484.32,1348.07C2490.03,1347.62 2495.73,1347.09 2501.44,1346.75C2507.15,1346.41 2512.85,1346.25 2518.56,1346.04C2524.27,1345.83 2529.97,1345.66 2535.68,1345.49C2541.39,1345.31 2547.09,1345.28 2552.8,1345C2558.51,1344.72 2564.21,1344.13 2569.92,1343.8C2575.63,1343.47 2581.33,1343.51 2587.04,1343.01C2592.75,1342.5 2598.45,1341.71 2604.16,1340.78C2609.87,1339.85 2615.57,1338.3 2621.28,1337.43C2626.99,1336.56 2632.69,1335.99 2638.4,1335.53C2644.11,1335.07 2649.81,1334.9 2655.52,1334.65C2661.23,1334.4 2666.93,1334.18 2672.64,1334C2678.35,1333.83 2684.05,1333.79 2689.76,1333.59C2695.47,1333.4 2701.17,1333.09 2706.88,1332.82C2712.59,1332.56 2718.29,1332.23 2724,1331.98C2729.71,1331.74 2735.41,1331.53 2741.12,1331.35C2746.83,1331.17 2752.53,1331.03 2758.24,1330.92C2763.95,1330.81 2769.65,1330.76 2775.36,1330.71L2775.36,1351.5L1662.56,1351.5Z" fill="url(#gb)"/>
<path d="M1662.56,1351.5C1668.27,1351.5 1673.97,1351.5 1679.68,1351.5C1685.39,1351.5 1691.09,1351.5 1696.8,1351.5C1702.51,1351.5 1708.21,1351.5 1713.92,1351.5C1719.63,1351.5 1725.33,1351.5 1731.04,1351.5C1736.75,1351.5 1742.45,1351.5 1748.16,1351.5C1753.87,1351.5 1759.57,1351.5 1765.28,1351.5C1770.99,1351.5 1776.69,1351.5 1782.4,1351.5C1788.11,1351.5 1793.81,1351.5 1799.52,1351.5C1805.23,1351.5 1810.93,1351.5 1816.64,1351.5C1822.35,1351.5 1828.05,1351.5 1833.76,1351.5C1839.47,1351.5 1845.17,1351.5 1850.88,1351.5C1856.59,1351.5 1862.29,1351.5 1868,1351.5C1873.71,1351.5 1879.41,1351.5 1885.12,1351.5C1890.83,1351.5 1896.53,1351.5 1902.24,1351.5C1907.95,1351.5 1913.65,1351.5 1919.36,1351.5C1925.07,1351.5 1930.77,1351.24 1936.48,1350.89C1942.19,1350.53 1947.89,1349.79 1953.6,1349.38C1959.31,1348.98 1965.01,1348.65 1970.72,1348.46C1976.43,1348.28 1982.13,1348.28 1987.84,1348.19C1993.55,1348.1 1999.25,1348.1 2004.96,1347.94C2010.67,1347.77 2016.37,1347.25 2022.08,1346.79C2027.79,1346.32 2033.49,1345.46 2039.2,1345.17C2044.91,1344.88 2050.61,1344.89 2056.32,1344.74C2062.03,1344.59 2067.73,1344.41 2073.44,1344.28C2079.15,1344.15 2084.85,1344.04 2090.56,1343.97C2096.27,1343.89 2101.97,1343.88 2107.68,1343.82C2113.39,1343.77 2119.09,1343.71 2124.8,1343.65C2130.51,1343.58 2136.21,1343.5 2141.92,1343.43C2147.63,1343.36 2153.33,1343.32 2159.04,1343.24C2164.75,1343.15 2170.45,1343.02 2176.16,1342.93C2181.87,1342.84 2187.57,1342.77 2193.28,1342.71C2198.99,1342.64 2204.69,1342.56 2210.4,1342.56C2216.11,1342.56 2221.81,1342.56 2227.52,1342.56C2233.23,1342.56 2238.93,1342.56 2244.64,1342.56C2250.35,1342.56 2256.05,1342.42 2261.76,1342.35C2267.47,1342.28 2273.17,1342.17 2278.88,1342.12C2284.59,1342.07 2290.29,1342.08 2296,1342.05C2301.71,1342.02 2307.41,1341.96 2313.12,1341.92C2318.83,1341.87 2324.53,1341.8 2330.24,1341.76C2335.95,1341.72 2341.65,1341.72 2347.36,1341.68C2353.07,1341.64 2358.77,1341.59 2364.48,1341.52C2370.19,1341.46 2375.89,1341.36 2381.6,1341.29C2387.31,1341.23 2393.01,1341.19 2398.72,1341.13C2404.43,1341.07 2410.13,1341.01 2415.84,1340.96C2421.55,1340.9 2427.25,1340.84 2432.96,1340.8C2438.67,1340.76 2444.37,1340.77 2450.08,1340.72C2455.79,1340.67 2461.49,1340.37 2467.2,1340.21C2472.91,1340.05 2478.61,1339.92 2484.32,1339.78C2490.03,1339.64 2495.73,1339.5 2501.44,1339.39C2507.15,1339.28 2512.85,1339.19 2518.56,1339.12C2524.27,1339.06 2529.97,1339.03 2535.68,1339C2541.39,1338.97 2547.09,1338.95 2552.8,1338.92C2558.51,1338.89 2564.21,1338.84 2569.92,1338.84C2575.63,1338.84 2581.33,1338.84 2587.04,1338.84C2592.75,1338.84 2598.45,1338.84 2604.16,1338.84C2609.87,1338.84 2615.57,1338.75 2621.28,1338.71C2626.99,1338.67 2632.69,1338.58 2638.4,1338.58C2644.11,1338.58 2649.81,1338.58 2655.52,1338.58C2661.23,1338.58 2666.93,1338.52 2672.64,1338.5C2678.35,1338.48 2684.05,1338.44 2689.76,1338.44C2695.47,1338.44 2701.17,1338.44 2706.88,1338.44C2712.59,1338.44 2718.29,1338.41 2724,1338.38C2729.71,1338.35 2735.41,1338.31 2741.12,1338.28C2746.83,1338.25 2752.53,1338.23 2758.24,1338.21C2763.95,1338.19 2769.65,1338.16 2775.36,1338.14L2775.36,1351.5L1662.56,1351.5Z" fill="url(#gy)"/>
<path d="M1662.56,1351.5C1668.27,1351.5 1673.97,1351.5 1679.68,1351.5C1685.39,1351.5 1691.09,1351.5 1696.8,1351.5C1702.51,1351.5 1708.21,1351.5 1713.92,1351.5C1719.63,1351.5 1725.33,1351.43 1731.04,1351.4C1736.75,1351.36 1742.45,1351.35 1748.16,1351.31C1753.87,1351.28 1759.57,1351.27 1765.28,1351.2C1770.99,1351.12 1776.69,1350.88 1782.4,1350.73C1788.11,1350.58 1793.81,1350.37 1799.52,1350.31C1805.23,1350.24 1810.93,1350.26 1816.64,1350.21C1822.35,1350.16 1828.05,1350.08 1833.76,1349.98C1839.47,1349.88 1845.17,1349.7 1850.88,1349.6C1856.59,1349.49 1862.29,1349.43 1868,1349.35C1873.71,1349.26 1879.41,1349.23 1885.12,1349.11C1890.83,1348.98 1896.53,1348.76 1902.24,1348.62C1907.95,1348.47 1913.65,1348.36 1919.36,1348.21C1925.07,1348.06 1930.77,1347.88 1936.48,1347.71C1942.19,1347.55 1947.89,1347.35 1953.6,1347.21C1959.31,1347.08 1965.01,1346.99 1970.72,1346.9C1976.43,1346.8 1982.13,1346.75 1987.84,1346.65C1993.55,1346.55 1999.25,1346.42 2004.96,1346.3C2010.67,1346.19 2016.37,1345.99 2022.08,1345.96C2027.79,1345.92 2033.49,1345.93 2039.2,1345.91C2044.91,1345.89 2050.61,1345.87 2056.32,1345.83C2062.03,1345.8 2067.73,1345.78 2073.44,1345.72C2079.15,1345.66 2084.85,1345.56 2090.56,1345.49C2096.27,1345.42 2101.97,1345.34 2107.68,1345.29C2113.39,1345.24 2119.09,1345.25 2124.8,1345.18C2130.51,1345.11 2136.21,1344.95 2141.92,1344.86C2147.63,1344.76 2153.33,1344.72 2159.04,1344.63C2164.75,1344.54 2170.45,1344.4 2176.16,1344.3C2181.87,1344.2 2187.57,1344.09 2193.28,1344C2198.99,1343.91 2204.69,1343.84 2210.4,1343.77C2216.11,1343.7 2221.81,1343.65 2227.52,1343.59C2233.23,1343.53 2238.93,1343.46 2244.64,1343.4C2250.35,1343.34 2256.05,1343.29 2261.76,1343.24C2267.47,1343.18 2273.17,1343.13 2278.88,1343.09C2284.59,1343.05 2290.29,1343.02 2296,1342.99C2301.71,1342.96 2307.41,1342.93 2313.12,1342.9C2318.83,1342.87 2324.53,1342.79 2330.24,1342.79C2335.95,1342.79 2341.65,1342.79 2347.36,1342.79C2353.07,1342.79 2358.77,1342.75 2364.48,1342.71C2370.19,1342.66 2375.89,1342.58 2381.6,1342.52C2387.31,1342.45 2393.01,1342.39 2398.72,1342.34C2404.43,1342.28 2410.13,1342.23 2415.84,1342.19C2421.55,1342.16 2427.25,1342.15 2432.96,1342.14C2438.67,1342.12 2444.37,1342.12 2450.08,1342.1C2455.79,1342.07 2461.49,1341.63 2467.2,1341.54C2472.91,1341.44 2478.61,1341.45 2484.32,1341.4C2490.03,1341.35 2495.73,1341.3 2501.44,1341.26C2507.15,1341.21 2512.85,1341.19 2518.56,1341.14C2524.27,1341.1 2529.97,1341.03 2535.68,1340.99C2541.39,1340.95 2547.09,1340.91 2552.8,1340.91C2558.51,1340.91 2564.21,1340.91 2569.92,1340.91C2575.63,1340.91 2581.33,1340.84 2587.04,1340.81C2592.75,1340.78 2598.45,1340.78 2604.16,1340.74C2609.87,1340.7 2615.57,1340.58 2621.28,1340.58C2626.99,1340.58 2632.69,1340.58 2638.4,1340.58C2644.11,1340.58 2649.81,1340.48 2655.52,1340.48C2661.23,1340.48 2666.93,1340.48 2672.64,1340.48C2678.35,1340.48 2684.05,1340.44 2689.76,1340.42C2695.47,1340.4 2701.17,1340.4 2706.88,1340.38C2712.59,1340.35 2718.29,1340.29 2724,1340.29C2729.71,1340.29 2735.41,1340.29 2741.12,1340.29C2746.83,1340.29 2752.53,1340.21 2758.24,1340.18C2763.95,1340.15 2769.65,1340.13 2775.36,1340.11L2775.36,1351.5L1662.56,1351.5Z" fill="url(#gr)"/>
<path d="M1662.56,1351.5C1668.27,1351.5 1673.97,1351.5 1679.68,1351.5C1685.39,1351.5 1691.09,1351.5 1696.8,1351.5C1702.51,1351.5 1708.21,1351.5 1713.92,1351.5C1719.63,1351.5 1725.33,1351.5 1731.04,1351.5C1736.75,1351.5 1742.45,1351.5 1748.16,1351.5C1753.87,1351.5 1759.57,1351.5 1765.28,1351.5C1770.99,1351.5 1776.69,1351.5 1782.4,1351.5C1788.11,1351.5 1793.81,1351.5 1799.52,1351.5C1805.23,1351.5 1810.93,1351.5 1816.64,1351.5C1822.35,1351.5 1828.05,1351.5 1833.76,1351.5C1839.47,1351.5 1845.17,1351.5 1850.88,1351.5C1856.59,1351.5 1862.29,1351.5 1868,1351.5C1873.71,1351.5 1879.41,1351.5 1885.12,1351.5C1890.83,1351.5 1896.53,1351.5 1902.24,1351.5C1907.95,1351.5 1913.65,1351.5 1919.36,1351.5C1925.07,1351.5 1930.77,1351.5 1936.48,1351.5C1942.19,1351.5 1947.89,1351.5 1953.6,1351.5C1959.31,1351.5 1965.01,1351.5 1970.72,1351.5C1976.43,1351.5 1982.13,1351.5 1987.84,1351.5C1993.55,1351.5 1999.25,1351.5 2004.96,1351.5C2010.67,1351.5 2016.37,1351.5 2022.08,1351.5C2027.79,1351.5 2033.49,1351.5 2039.2,1351.5C2044.91,1351.5 2050.61,1351.5 2056.32,1351.5C2062.03,1351.5 2067.73,1351.5 2073.44,1351.5C2079.15,1351.5 2084.85,1351.5 2090.56,1351.5C2096.27,1351.5 2101.97,1351.5 2107.68,1351.5C2113.39,1351.5 2119.09,1351.5 2124.8,1351.5C2130.51,1351.5 2136.21,1351.5 2141.92,1351.5C2147.63,1351.5 2153.33,1351.5 2159.04,1351.5C2164.75,1351.5 2170.45,1351.48 2176.16,1351.44C2181.87,1351.4 2187.57,1351.31 2193.28,1351.23C2198.99,1351.15 2204.69,1351.04 2210.4,1350.96C2216.11,1350.89 2221.81,1350.83 2227.52,1350.78C2233.23,1350.73 2238.93,1350.72 2244.64,1350.66C2250.35,1350.6 2256.05,1350.5 2261.76,1350.41C2267.47,1350.32 2273.17,1350.2 2278.88,1350.12C2284.59,1350.03 2290.29,1349.95 2296,1349.9C2301.71,1349.84 2307.41,1349.83 2313.12,1349.78C2318.83,1349.74 2324.53,1349.67 2330.24,1349.61C2335.95,1349.55 2341.65,1349.49 2347.36,1349.45C2353.07,1349.4 2358.77,1349.42 2364.48,1349.35C2370.19,1349.29 2375.89,1349.07 2381.6,1348.97C2387.31,1348.86 2393.01,1348.81 2398.72,1348.71C2404.43,1348.61 2410.13,1348.47 2415.84,1348.38C2421.55,1348.29 2427.25,1348.22 2432.96,1348.17C2438.67,1348.13 2444.37,1348.15 2450.08,1348.1C2455.79,1348.06 2461.49,1347.74 2467.2,1347.64C2472.91,1347.55 2478.61,1347.56 2484.32,1347.5C2490.03,1347.43 2495.73,1347.33 2501.44,1347.25C2507.15,1347.18 2512.85,1347.1 2518.56,1347.05C2524.27,1347 2529.97,1347.01 2535.68,1346.95C2541.39,1346.89 2547.09,1346.76 2552.8,1346.71C2558.51,1346.66 2564.21,1346.68 2569.92,1346.63C2575.63,1346.58 2581.33,1346.37 2587.04,1346.29C2592.75,1346.21 2598.45,1346.2 2604.16,1346.16C2609.87,1346.13 2615.57,1346.11 2621.28,1346.08C2626.99,1346.05 2632.69,1345.98 2638.4,1345.98C2644.11,1345.98 2649.81,1345.98 2655.52,1345.98C2661.23,1345.98 2666.93,1345.94 2672.64,1345.92C2678.35,1345.89 2684.05,1345.85 2689.76,1345.82C2695.47,1345.79 2701.17,1345.78 2706.88,1345.74C2712.59,1345.69 2718.29,1345.62 2724,1345.57C2729.71,1345.52 2735.41,1345.42 2741.12,1345.42C2746.83,1345.42 2752.53,1345.42 2758.24,1345.42C2763.95,1345.42 2769.65,1345.42 2775.36,1345.42L2775.36,1351.5L1662.56,1351.5Z" fill="url(#gl)"/>
<path d="M1662.56,1351.5C1668.27,1351.5 1673.97,1351.5 1679.68,1351.5C1685.39,1351.5 1691.09,1351.5 1696.8,1351.5C1702.51,1351.5 1708.21,1351.5 1713.92,1351.5C1719.63,1351.5 1725.33,1351.5 1731.04,1351.5C1736.75,1351.5 1742.45,1351.5 1748.16,1351.5C1753.87,1351.5 1759.57,1351.5 1765.28,1351.5C1770.99,1351.5 1776.69,1351.5 1782.4,1351.5C1788.11,1351.5 1793.81,1351.5 1799.52,1351.5C1805.23,1351.5 1810.93,1351.5 1816.64,1351.5C1822.35,1351.5 1828.05,1351.5 1833.76,1351.5C1839.47,1351.5 1845.17,1351.5 1850.88,1351.5C1856.59,1351.5 1862.29,1351.5 1868,1351.5C1873.71,1351.5 1879.41,1351.5 1885.12,1351.5C1890.83,1351.5 1896.53,1351.5 1902.24,1351.5C1907.95,1351.5 1913.65,1351.5 1919.36,1351.5C1925.07,1351.5 1930.77,1351.5 1936.48,1351.5C1942.19,1351.5 1947.89,1351.48 1953.6,1351.44C1959.31,1351.41 1965.01,1351.35 1970.72,1351.3C1976.43,1351.25 1982.13,1351.21 1987.84,1351.16C1993.55,1351.11 1999.25,1351.06 2004.96,1351C2010.67,1350.95 2016.37,1350.89 2022.08,1350.81C2027.79,1350.74 2033.49,1350.69 2039.2,1350.55C2044.91,1350.41 2050.61,1350.05 2056.32,1349.99C2062.03,1349.92 2067.73,1349.93 2073.44,1349.89C2079.15,1349.85 2084.85,1349.79 2090.56,1349.76C2096.27,1349.73 2101.97,1349.72 2107.68,1349.7C2113.39,1349.67 2119.09,1349.66 2124.8,1349.64C2130.51,1349.62 2136.21,1349.61 2141.92,1349.58C2147.63,1349.56 2153.33,1349.53 2159.04,1349.5C2164.75,1349.47 2170.45,1349.43 2176.16,1349.4C2181.87,1349.37 2187.57,1349.34 2193.28,1349.3C2198.99,1349.27 2204.69,1349.21 2210.4,1349.21C2216.11,1349.21 2221.81,1349.21 2227.52,1349.21C2233.23,1349.21 2238.93,1349.14 2244.64,1349.12C2250.35,1349.1 2256.05,1349.11 2261.76,1349.08C2267.47,1349.06 2273.17,1348.99 2278.88,1348.96C2284.59,1348.93 2290.29,1348.91 2296,1348.89C2301.71,1348.87 2307.41,1348.85 2313.12,1348.83C2318.83,1348.8 2324.53,1348.76 2330.24,1348.73C2335.95,1348.7 2341.65,1348.67 2347.36,1348.63C2353.07,1348.6 2358.77,1348.57 2364.48,1348.53C2370.19,1348.48 2375.89,1348.4 2381.6,1348.35C2387.31,1348.31 2393.01,1348.3 2398.72,1348.27C2404.43,1348.24 2410.13,1348.22 2415.84,1348.18C2421.55,1348.15 2427.25,1348.1 2432.96,1348.07C2438.67,1348.04 2444.37,1348.04 2450.08,1347.99C2455.79,1347.94 2461.49,1347.76 2467.2,1347.71C2472.91,1347.65 2478.61,1347.67 2484.32,1347.62C2490.03,1347.58 2495.73,1347.5 2501.44,1347.45C2507.15,1347.4 2512.85,1347.36 2518.56,1347.32C2524.27,1347.27 2529.97,1347.25 2535.68,1347.2C2541.39,1347.15 2547.09,1347.04 2552.8,1347C2558.51,1346.96 2564.21,1346.98 2569.92,1346.94C2575.63,1346.9 2581.33,1346.68 2587.04,1346.64C2592.75,1346.6 2598.45,1346.62 2604.16,1346.58C2609.87,1346.55 2615.57,1346.28 2621.28,1346.23C2626.99,1346.17 2632.69,1346.16 2638.4,1346.14C2644.11,1346.12 2649.81,1346.1 2655.52,1346.08C2661.23,1346.07 2666.93,1346.06 2672.64,1346.05C2678.35,1346.03 2684.05,1346.01 2689.76,1345.97C2695.47,1345.92 2701.17,1345.82 2706.88,1345.77C2712.59,1345.73 2718.29,1345.73 2724,1345.7C2729.71,1345.67 2735.41,1345.64 2741.12,1345.61C2746.83,1345.59 2752.53,1345.56 2758.24,1345.56C2763.95,1345.56 2769.65,1345.56 2775.36,1345.56L2775.36,1351.5L1662.56,1351.5Z" fill="url(#gu)"/>
<path d="M1662.56,1351.5C1668.27,1351.5 1673.97,1351.5 1679.68,1351.5C1685.39,1351.5 1691.09,1351.5 1696.8,1351.5C1702.51,1351.5 1708.21,1351.42 1713.92,1351.36C1719.63,1351.29 1725.33,1351.13 1731.04,1351.11C1736.75,1351.09 1742.45,1351.09 1748.16,1351.08C1753.87,1351.07 1759.57,1351.06 1765.28,1351.05C1770.99,1351.03 1776.69,1351.03 1782.4,1351C1788.11,1350.97 1793.81,1350.9 1799.52,1350.85C1805.23,1350.79 1810.93,1350.79 1816.64,1350.67C1822.35,1350.56 1828.05,1350.17 1833.76,1350C1839.47,1349.84 1845.17,1349.71 1850.88,1349.68C1856.59,1349.65 1862.29,1349.65 1868,1349.63C1873.71,1349.62 1879.41,1349.62 1885.12,1349.6C1890.83,1349.57 1896.53,1349.39 1902.24,1349.31C1907.95,1349.22 1913.65,1349.15 1919.36,1349.1C1925.07,1349.04 1930.77,1349.01 1936.48,1348.97C1942.19,1348.93 1947.89,1348.88 1953.6,1348.84C1959.31,1348.8 1965.01,1348.74 1970.72,1348.73C1976.43,1348.71 1982.13,1348.71 1987.84,1348.7C1993.55,1348.69 1999.25,1348.68 2004.96,1348.66C2010.67,1348.63 2016.37,1348.61 2022.08,1348.56C2027.79,1348.51 2033.49,1348.4 2039.2,1348.34C2044.91,1348.28 2050.61,1348.23 2056.32,1348.21C2062.03,1348.18 2067.73,1348.18 2073.44,1348.17C2079.15,1348.15 2084.85,1348.13 2090.56,1348.11C2096.27,1348.09 2101.97,1348.07 2107.68,1348.07C2113.39,1348.07 2119.09,1348.07 2124.8,1348.07C2130.51,1348.07 2136.21,1348.04 2141.92,1348.02C2147.63,1348 2153.33,1347.97 2159.04,1347.94C2164.75,1347.91 2170.45,1347.86 2176.16,1347.83C2181.87,1347.8 2187.57,1347.81 2193.28,1347.78C2198.99,1347.75 2204.69,1347.64 2210.4,1347.64C2216.11,1347.64 2221.81,1347.64 2227.52,1347.64C2233.23,1347.64 2238.93,1347.59 2244.64,1347.57C2250.35,1347.55 2256.05,1347.54 2261.76,1347.52C2267.47,1347.5 2273.17,1347.45 2278.88,1347.45C2284.59,1347.45 2290.29,1347.45 2296,1347.45C2301.71,1347.45 2307.41,1347.45 2313.12,1347.45C2318.83,1347.45 2324.53,1347.45 2330.24,1347.45C2335.95,1347.45 2341.65,1347.45 2347.36,1347.45C2353.07,1347.45 2358.77,1347.45 2364.48,1347.45C2370.19,1347.45 2375.89,1347.45 2381.6,1347.45C2387.31,1347.45 2393.01,1347.39 2398.72,1347.39C2404.43,1347.39 2410.13,1347.39 2415.84,1347.39C2421.55,1347.39 2427.25,1347.33 2432.96,1347.3C2438.67,1347.28 2444.37,1347.26 2450.08,1347.24C2455.79,1347.22 2461.49,1347.18 2467.2,1347.18C2472.91,1347.18 2478.61,1347.18 2484.32,1347.18C2490.03,1347.18 2495.73,1347.18 2501.44,1347.18C2507.15,1347.18 2512.85,1347.14 2518.56,1347.11C2524.27,1347.08 2529.97,1347.05 2535.68,1347.01C2541.39,1346.97 2547.09,1346.92 2552.8,1346.88C2558.51,1346.85 2564.21,1346.8 2569.92,1346.8C2575.63,1346.8 2581.33,1346.8 2587.04,1346.8C2592.75,1346.8 2598.45,1346.76 2604.16,1346.73C2609.87,1346.71 2615.57,1346.68 2621.28,1346.65C2626.99,1346.62 2632.69,1346.55 2638.4,1346.55C2644.11,1346.55 2649.81,1346.55 2655.52,1346.55C2661.23,1346.55 2666.93,1346.44 2672.64,1346.44C2678.35,1346.44 2684.05,1346.44 2689.76,1346.44C2695.47,1346.44 2701.17,1346.44 2706.88,1346.44C2712.59,1346.44 2718.29,1346.44 2724,1346.44C2729.71,1346.44 2735.41,1346.44 2741.12,1346.44C2746.83,1346.44 2752.53,1346.37 2758.24,1346.33C2763.95,1346.29 2769.65,1346.25 2775.36,1346.21L2775.36,1351.5L1662.56,1351.5Z" fill="url(#go)"/>
<path d="M1662.56,1351.5C1668.27,1351.5 1673.97,1351.5 1679.68,1351.5C1685.39,1351.5 1691.09,1351.5 1696.8,1351.5C1702.51,1351.5 1708.21,1351.5 1713.92,1351.5C1719.63,1351.5 1725.33,1351.5 1731.04,1351.5C1736.75,1351.5 1742.45,1351.5 1748.16,1351.5C1753.87,1351.5 1759.57,1351.5 1765.28,1351.5C1770.99,1351.5 1776.69,1351.5 1782.4,1351.5C1788.11,1351.5 1793.81,1351.5 1799.52,1351.5C1805.23,1351.5 1810.93,1351.49 1816.64,1351.48C1822.35,1351.47 1828.05,1351.44 1833.76,1351.4C1839.47,1351.37 1845.17,1351.31 1850.88,1351.29C1856.59,1351.27 1862.29,1351.27 1868,1351.26C1873.71,1351.25 1879.41,1351.26 1885.12,1351.24C1890.83,1351.23 1896.53,1351.06 1902.24,1350.99C1907.95,1350.92 1913.65,1350.87 1919.36,1350.82C1925.07,1350.77 1930.77,1350.7 1936.48,1350.67C1942.19,1350.63 1947.89,1350.63 1953.6,1350.61C1959.31,1350.59 1965.01,1350.59 1970.72,1350.57C1976.43,1350.54 1982.13,1350.48 1987.84,1350.45C1993.55,1350.42 1999.25,1350.4 2004.96,1350.38C2010.67,1350.37 2016.37,1350.36 2022.08,1350.34C2027.79,1350.32 2033.49,1350.3 2039.2,1350.27C2044.91,1350.25 2050.61,1350.21 2056.32,1350.17C2062.03,1350.14 2067.73,1350.09 2073.44,1350.06C2079.15,1350.03 2084.85,1350 2090.56,1350C2096.27,1350 2101.97,1350 2107.68,1350C2113.39,1350 2119.09,1350 2124.8,1350C2130.51,1350 2136.21,1349.95 2141.92,1349.95C2147.63,1349.95 2153.33,1349.95 2159.04,1349.95C2164.75,1349.95 2170.45,1349.95 2176.16,1349.95C2181.87,1349.95 2187.57,1349.94 2193.28,1349.9C2198.99,1349.87 2204.69,1349.8 2210.4,1349.76C2216.11,1349.73 2221.81,1349.7 2227.52,1349.7C2233.23,1349.7 2238.93,1349.7 2244.64,1349.7C2250.35,1349.7 2256.05,1349.69 2261.76,1349.66C2267.47,1349.64 2273.17,1349.57 2278.88,1349.54C2284.59,1349.5 2290.29,1349.47 2296,1349.43C2301.71,1349.39 2307.41,1349.33 2313.12,1349.29C2318.83,1349.25 2324.53,1349.19 2330.24,1349.19C2335.95,1349.19 2341.65,1349.19 2347.36,1349.19C2353.07,1349.19 2358.77,1349.19 2364.48,1349.19C2370.19,1349.19 2375.89,1349.19 2381.6,1349.19C2387.31,1349.19 2393.01,1349.19 2398.72,1349.19C2404.43,1349.19 2410.13,1349.19 2415.84,1349.19C2421.55,1349.19 2427.25,1349.19 2432.96,1349.19C2438.67,1349.19 2444.37,1349.13 2450.08,1349.13C2455.79,1349.13 2461.49,1349.13 2467.2,1349.13C2472.91,1349.13 2478.61,1349.11 2484.32,1349.08C2490.03,1349.04 2495.73,1348.99 2501.44,1348.92C2507.15,1348.86 2512.85,1348.72 2518.56,1348.68C2524.27,1348.64 2529.97,1348.62 2535.68,1348.62C2541.39,1348.62 2547.09,1348.62 2552.8,1348.62C2558.51,1348.62 2564.21,1348.54 2569.92,1348.54C2575.63,1348.54 2581.33,1348.54 2587.04,1348.54C2592.75,1348.54 2598.45,1348.54 2604.16,1348.54C2609.87,1348.54 2615.57,1348.49 2621.28,1348.47C2626.99,1348.44 2632.69,1348.41 2638.4,1348.38C2644.11,1348.35 2649.81,1348.33 2655.52,1348.3C2661.23,1348.28 2666.93,1348.26 2672.64,1348.24C2678.35,1348.21 2684.05,1348.15 2689.76,1348.15C2695.47,1348.15 2701.17,1348.15 2706.88,1348.15C2712.59,1348.15 2718.29,1348.15 2724,1348.15C2729.71,1348.15 2735.41,1348.12 2741.12,1348.05C2746.83,1347.99 2752.53,1347.73 2758.24,1347.67C2763.95,1347.61 2769.65,1347.59 2775.36,1347.57L2775.36,1351.5L1662.56,1351.5Z" fill="url(#gt)"/>
<path d="M1662.56,1351.5C1668.27,1351.5 1673.97,1351.5 1679.68,1351.5C1685.39,1351.5 1691.09,1351.5 1696.8,1351.5C1702.51,1351.5 1708.21,1351.5 1713.92,1351.5C1719.63,1351.5 1725.33,1351.5 1731.04,1351.5C1736.75,1351.5 1742.45,1351.5 1748.16,1351.5C1753.87,1351.5 1759.57,1351.5 1765.28,1351.5C1770.99,1351.5 1776.69,1351.5 1782.4,1351.5C1788.11,1351.5 1793.81,1351.5 1799.52,1351.5C1805.23,1351.5 1810.93,1351.5 1816.64,1351.5C1822.35,1351.5 1828.05,1351.5 1833.76,1351.5C1839.47,1351.5 1845.17,1351.5 1850.88,1351.5C1856.59,1351.5 1862.29,1351.5 1868,1351.5C1873.71,1351.5 1879.41,1351.5 1885.12,1351.5C1890.83,1351.5 1896.53,1351.5 1902.24,1351.5C1907.95,1351.5 1913.65,1351.5 1919.36,1351.5C1925.07,1351.5 1930.77,1351.5 1936.48,1351.5C1942.19,1351.5 1947.89,1351.5 1953.6,1351.5C1959.31,1351.5 1965.01,1351.5 1970.72,1351.5C1976.43,1351.5 1982.13,1351.5 1987.84,1351.5C1993.55,1351.5 1999.25,1351.5 2004.96,1351.5C2010.67,1351.5 2016.37,1351.5 2022.08,1351.5C2027.79,1351.5 2033.49,1351.5 2039.2,1351.5C2044.91,1351.5 2050.61,1351.45 2056.32,1351.37C2062.03,1351.28 2067.73,1351.12 2073.44,1351C2079.15,1350.89 2084.85,1350.68 2090.56,1350.68C2096.27,1350.68 2101.97,1350.68 2107.68,1350.68C2113.39,1350.68 2119.09,1350.64 2124.8,1350.63C2130.51,1350.61 2136.21,1350.62 2141.92,1350.59C2147.63,1350.56 2153.33,1350.51 2159.04,1350.47C2164.75,1350.42 2170.45,1350.39 2176.16,1350.34C2181.87,1350.29 2187.57,1350.21 2193.28,1350.16C2198.99,1350.11 2204.69,1350.06 2210.4,1350.05C2216.11,1350.03 2221.81,1350.03 2227.52,1350.02C2233.23,1350.01 2238.93,1349.99 2244.64,1349.99C2250.35,1349.99 2256.05,1349.99 2261.76,1349.99C2267.47,1349.99 2273.17,1349.89 2278.88,1349.89C2284.59,1349.89 2290.29,1349.89 2296,1349.89C2301.71,1349.89 2307.41,1349.89 2313.12,1349.89C2318.83,1349.89 2324.53,1349.82 2330.24,1349.8C2335.95,1349.77 2341.65,1349.76 2347.36,1349.75C2353.07,1349.73 2358.77,1349.72 2364.48,1349.71C2370.19,1349.69 2375.89,1349.66 2381.6,1349.66C2387.31,1349.66 2393.01,1349.66 2398.72,1349.66C2404.43,1349.66 2410.13,1349.66 2415.84,1349.66C2421.55,1349.66 2427.25,1349.66 2432.96,1349.66C2438.67,1349.66 2444.37,1349.62 2450.08,1349.6C2455.79,1349.58 2461.49,1349.52 2467.2,1349.52C2472.91,1349.52 2478.61,1349.52 2484.32,1349.52C2490.03,1349.52 2495.73,1349.33 2501.44,1349.28C2507.15,1349.24 2512.85,1349.22 2518.56,1349.22C2524.27,1349.22 2529.97,1349.22 2535.68,1349.22C2541.39,1349.22 2547.09,1349.11 2552.8,1349.08C2558.51,1349.04 2564.21,1349 2569.92,1349C2575.63,1349 2581.33,1349 2587.04,1349C2592.75,1349 2598.45,1349 2604.16,1349C2609.87,1349 2615.57,1349 2621.28,1349C2626.99,1349 2632.69,1349 2638.4,1349C2644.11,1349 2649.81,1349 2655.52,1349C2661.23,1349 2666.93,1349 2672.64,1349C2678.35,1349 2684.05,1349 2689.76,1349C2695.47,1349 2701.17,1349 2706.88,1349C2712.59,1349 2718.29,1349 2724,1349C2729.71,1349 2735.41,1349 2741.12,1349C2746.83,1349 2752.53,1349 2758.24,1349C2763.95,1349 2769.65,1349 2775.36,1349L2775.36,1351.5L1662.56,1351.5Z" fill="url(#gd)"/>
<path d="M1662.56,1351.5C1668.27,1351.5 1673.97,1351.5 1679.68,1351.5C1685.39,1351.5 1691.09,1351.5 1696.8,1351.5C1702.51,1351.5 1708.21,1351.5 1713.92,1351.5C1719.63,1351.5 1725.33,1351.5 1731.04,1351.5C1736.75,1351.5 1742.45,1351.5 1748.16,1351.5C1753.87,1351.5 1759.57,1351.5 1765.28,1351.5C1770.99,1351.5 1776.69,1351.5 1782.4,1351.5C1788.11,1351.5 1793.81,1351.5 1799.52,1351.5C1805.23,1351.5 1810.93,1351.5 1816.64,1351.5C1822.35,1351.5 1828.05,1351.5 1833.76,1351.5C1839.47,1351.5 1845.17,1351.5 1850.88,1351.5C1856.59,1351.5 1862.29,1351.5 1868,1351.5C1873.71,1351.5 1879.41,1351.5 1885.12,1351.5C1890.83,1351.5 1896.53,1351.5 1902.24,1351.5C1907.95,1351.5 1913.65,1351.5 1919.36,1351.5C1925.07,1351.5 1930.77,1351.5 1936.48,1351.5C1942.19,1351.5 1947.89,1351.43 1953.6,1351.4C1959.31,1351.36 1965.01,1351.32 1970.72,1351.28C1976.43,1351.25 1982.13,1351.2 1987.84,1351.17C1993.55,1351.14 1999.25,1351.15 2004.96,1351.11C2010.67,1351.07 2016.37,1350.98 2022.08,1350.93C2027.79,1350.88 2033.49,1350.85 2039.2,1350.82C2044.91,1350.79 2050.61,1350.75 2056.32,1350.75C2062.03,1350.75 2067.73,1350.75 2073.44,1350.75C2079.15,1350.75 2084.85,1350.69 2090.56,1350.69C2096.27,1350.69 2101.97,1350.69 2107.68,1350.69C2113.39,1350.69 2119.09,1350.69 2124.8,1350.69C2130.51,1350.69 2136.21,1350.62 2141.92,1350.57C2147.63,1350.52 2153.33,1350.43 2159.04,1350.39C2164.75,1350.35 2170.45,1350.35 2176.16,1350.34C2181.87,1350.32 2187.57,1350.32 2193.28,1350.3C2198.99,1350.29 2204.69,1350.27 2210.4,1350.27C2216.11,1350.27 2221.81,1350.27 2227.52,1350.27C2233.23,1350.27 2238.93,1350.27 2244.64,1350.27C2250.35,1350.27 2256.05,1350.23 2261.76,1350.21C2267.47,1350.19 2273.17,1350.17 2278.88,1350.16C2284.59,1350.15 2290.29,1350.15 2296,1350.13C2301.71,1350.12 2307.41,1350.09 2313.12,1350.08C2318.83,1350.06 2324.53,1350.05 2330.24,1350.05C2335.95,1350.05 2341.65,1350.05 2347.36,1350.05C2353.07,1350.05 2358.77,1350.05 2364.48,1350.05C2370.19,1350.05 2375.89,1350.05 2381.6,1350.05C2387.31,1350.05 2393.01,1349.96 2398.72,1349.93C2404.43,1349.89 2410.13,1349.87 2415.84,1349.83C2421.55,1349.79 2427.25,1349.74 2432.96,1349.71C2438.67,1349.67 2444.37,1349.63 2450.08,1349.63C2455.79,1349.63 2461.49,1349.63 2467.2,1349.63C2472.91,1349.63 2478.61,1349.63 2484.32,1349.63C2490.03,1349.63 2495.73,1349.63 2501.44,1349.63C2507.15,1349.63 2512.85,1349.63 2518.56,1349.63C2524.27,1349.63 2529.97,1349.55 2535.68,1349.55C2541.39,1349.55 2547.09,1349.55 2552.8,1349.55C2558.51,1349.55 2564.21,1349.55 2569.92,1349.55C2575.63,1349.55 2581.33,1349.55 2587.04,1349.55C2592.75,1349.55 2598.45,1349.55 2604.16,1349.55C2609.87,1349.55 2615.57,1349.55 2621.28,1349.55C2626.99,1349.55 2632.69,1349.47 2638.4,1349.45C2644.11,1349.42 2649.81,1349.38 2655.52,1349.38C2661.23,1349.38 2666.93,1349.38 2672.64,1349.38C2678.35,1349.38 2684.05,1349.38 2689.76,1349.38C2695.47,1349.38 2701.17,1349.36 2706.88,1349.35C2712.59,1349.34 2718.29,1349.32 2724,1349.32C2729.71,1349.32 2735.41,1349.32 2741.12,1349.32C2746.83,1349.32 2752.53,1349.28 2758.24,1349.26C2763.95,1349.24 2769.65,1349.21 2775.36,1349.19L2775.36,1351.5L1662.56,1351.5Z" fill="url(#gk)"/>
<path d="M1662.56,1351.5C1668.27,1351.5 1673.97,1351.5 1679.68,1351.5C1685.39,1351.5 1691.09,1351.5 1696.8,1351.5C1702.51,1351.5 1708.21,1351.5 1713.92,1351.5C1719.63,1351.5 1725.33,1351.5 1731.04,1351.5C1736.75,1351.5 1742.45,1351.5 1748.16,1351.5C1753.87,1351.5 1759.57,1351.5 1765.28,1351.5C1770.99,1351.5 1776.69,1351.5 1782.4,1351.5C1788.11,1351.5 1793.81,1351.5 1799.52,1351.5C1805.23,1351.5 1810.93,1351.5 1816.64,1351.5C1822.35,1351.5 1828.05,1351.5 1833.76,1351.5C1839.47,1351.5 1845.17,1351.5 1850.88,1351.5C1856.59,1351.5 1862.29,1351.5 1868,1351.5C1873.71,1351.5 1879.41,1351.5 1885.12,1351.5C1890.83,1351.5 1896.53,1351.5 1902.24,1351.5C1907.95,1351.5 1913.65,1351.5 1919.36,1351.5C1925.07,1351.5 1930.77,1351.5 1936.48,1351.5C1942.19,1351.5 1947.89,1351.5 1953.6,1351.5C1959.31,1351.5 1965.01,1351.5 1970.72,1351.5C1976.43,1351.5 1982.13,1351.5 1987.84,1351.5C1993.55,1351.5 1999.25,1351.5 2004.96,1351.5C2010.67,1351.5 2016.37,1351.5 2022.08,1351.5C2027.79,1351.5 2033.49,1351.5 2039.2,1351.5C2044.91,1351.5 2050.61,1351.5 2056.32,1351.5C2062.03,1351.5 2067.73,1351.5 2073.44,1351.5C2079.15,1351.5 2084.85,1351.5 2090.56,1351.5C2096.27,1351.5 2101.97,1351.5 2107.68,1351.5C2113.39,1351.5 2119.09,1351.5 2124.8,1351.5C2130.51,1351.5 2136.21,1351.5 2141.92,1351.5C2147.63,1351.5 2153.33,1351.5 2159.04,1351.5C2164.75,1351.5 2170.45,1351.5 2176.16,1351.5C2181.87,1351.5 2187.57,1351.5 2193.28,1351.5C2198.99,1351.5 2204.69,1351.5 2210.4,1351.5C2216.11,1351.5 2221.81,1351.5 2227.52,1351.5C2233.23,1351.5 2238.93,1351.5 2244.64,1351.5C2250.35,1351.5 2256.05,1351.5 2261.76,1351.5C2267.47,1351.5 2273.17,1351.5 2278.88,1351.5C2284.59,1351.5 2290.29,1351.5 2296,1351.5C2301.71,1351.5 2307.41,1351.5 2313.12,1351.5C2318.83,1351.5 2324.53,1351.5 2330.24,1351.5C2335.95,1351.5 2341.65,1351.5 2347.36,1351.5C2353.07,1351.5 2358.77,1351.5 2364.48,1351.5C2370.19,1351.5 2375.89,1351.5 2381.6,1351.5C2387.31,1351.5 2393.01,1351.5 2398.72,1351.5C2404.43,1351.5 2410.13,1351.5 2415.84,1351.5C2421.55,1351.5 2427.25,1351.5 2432.96,1351.5C2438.67,1351.5 2444.37,1351.5 2450.08,1351.5C2455.79,1351.5 2461.49,1351.35 2467.2,1351.29C2472.91,1351.23 2478.61,1351.21 2484.32,1351.15C2490.03,1351.1 2495.73,1351.02 2501.44,1350.97C2507.15,1350.92 2512.85,1350.9 2518.56,1350.86C2524.27,1350.82 2529.97,1350.78 2535.68,1350.73C2541.39,1350.68 2547.09,1350.61 2552.8,1350.58C2558.51,1350.54 2564.21,1350.54 2569.92,1350.52C2575.63,1350.5 2581.33,1350.47 2587.04,1350.47C2592.75,1350.47 2598.45,1350.47 2604.16,1350.47C2609.87,1350.47 2615.57,1350.36 2621.28,1350.36C2626.99,1350.36 2632.69,1350.36 2638.4,1350.36C2644.11,1350.36 2649.81,1350.36 2655.52,1350.36C2661.23,1350.36 2666.93,1350.3 2672.64,1350.28C2678.35,1350.25 2684.05,1350.23 2689.76,1350.23C2695.47,1350.23 2701.17,1350.23 2706.88,1350.23C2712.59,1350.23 2718.29,1350.23 2724,1350.23C2729.71,1350.23 2735.41,1350.23 2741.12,1350.23C2746.83,1350.23 2752.53,1350.23 2758.24,1350.23C2763.95,1350.23 2769.65,1350.23 2775.36,1350.23L2775.36,1351.5L1662.56,1351.5Z" fill="url(#gx)"/>
<path d="M1662.56,1351.5C1668.27,1351.5 1673.97,1351.5 1679.68,1351.5C1685.39,1351.5 1691.09,1351.5 1696.8,1351.5C1702.51,1351.5 1708.21,1351.5 1713.92,1351.5C1719.63,1351.5 1725.33,1351.5 1731.04,1351.5C1736.75,1351.5 1742.45,1351.5 1748.16,1351.5C1753.87,1351.5 1759.57,1351.5 1765.28,1351.5C1770.99,1351.5 1776.69,1351.5 1782.4,1351.5C1788.11,1351.5 1793.81,1351.5 1799.52,1351.5C1805.23,1351.5 1810.93,1351.5 1816.64,1351.5C1822.35,1351.5 1828.05,1351.5 1833.76,1351.5C1839.47,1351.5 1845.17,1351.5 1850.88,1351.5C1856.59,1351.5 1862.29,1351.5 1868,1351.5C1873.71,1351.5 1879.41,1351.5 1885.12,1351.5C1890.83,1351.5 1896.53,1351.5 1902.24,1351.5C1907.95,1351.5 1913.65,1351.5 1919.36,1351.5C1925.07,1351.5 1930.77,1351.5 1936.48,1351.5C1942.19,1351.5 1947.89,1351.5 1953.6,1351.5C1959.31,1351.5 1965.01,1351.5 1970.72,1351.5C1976.43,1351.5 1982.13,1351.5 1987.84,1351.5C1993.55,1351.5 1999.25,1351.5 2004.96,1351.5C2010.67,1351.5 2016.37,1351.5 2022.08,1351.5C2027.79,1351.5 2033.49,1351.5 2039.2,1351.5C2044.91,1351.5 2050.61,1351.5 2056.32,1351.5C2062.03,1351.5 2067.73,1351.5 2073.44,1351.5C2079.15,1351.5 2084.85,1351.5 2090.56,1351.5C2096.27,1351.5 2101.97,1351.5 2107.68,1351.5C2113.39,1351.5 2119.09,1351.5 2124.8,1351.5C2130.51,1351.5 2136.21,1351.5 2141.92,1351.5C2147.63,1351.5 2153.33,1351.5 2159.04,1351.5C2164.75,1351.5 2170.45,1351.5 2176.16,1351.5C2181.87,1351.5 2187.57,1351.5 2193.28,1351.5C2198.99,1351.5 2204.69,1351.5 2210.4,1351.5C2216.11,1351.5 2221.81,1351.5 2227.52,1351.5C2233.23,1351.5 2238.93,1351.5 2244.64,1351.5C2250.35,1351.5 2256.05,1351.5 2261.76,1351.5C2267.47,1351.5 2273.17,1351.5 2278.88,1351.5C2284.59,1351.5 2290.29,1351.5 2296,1351.5C2301.71,1351.5 2307.41,1351.5 2313.12,1351.5C2318.83,1351.5 2324.53,1351.5 2330.24,1351.5C2335.95,1351.5 2341.65,1351.5 2347.36,1351.5C2353.07,1351.5 2358.77,1351.5 2364.48,1351.5C2370.19,1351.5 2375.89,1351.5 2381.6,1351.5C2387.31,1351.5 2393.01,1351.5 2398.72,1351.5C2404.43,1351.5 2410.13,1351.5 2415.84,1351.5C2421.55,1351.5 2427.25,1351.5 2432.96,1351.5C2438.67,1351.5 2444.37,1351.5 2450.08,1351.5C2455.79,1351.5 2461.49,1351.5 2467.2,1351.5C2472.91,1351.5 2478.61,1351.5 2484.32,1351.5C2490.03,1351.5 2495.73,1351.44 2501.44,1351.44C2507.15,1351.44 2512.85,1351.44 2518.56,1351.44C2524.27,1351.44 2529.97,1351.44 2535.68,1351.44C2541.39,1351.44 2547.09,1351.44 2552.8,1351.44C2558.51,1351.44 2564.21,1351.44 2569.92,1351.44C2575.63,1351.44 2581.33,1351.44 2587.04,1351.44C2592.75,1351.44 2598.45,1351.44 2604.16,1351.44C2609.87,1351.44 2615.57,1351.44 2621.28,1351.44C2626.99,1351.44 2632.69,1351.44 2638.4,1351.44C2644.11,1351.44 2649.81,1351.44 2655.52,1351.44C2661.23,1351.44 2666.93,1351.23 2672.64,1351.16C2678.35,1351.1 2684.05,1351.07 2689.76,1351.07C2695.47,1351.07 2701.17,1351.07 2706.88,1351.07C2712.59,1351.07 2718.29,1351.07 2724,1351.07C2729.71,1351.07 2735.41,1350.99 2741.12,1350.99C2746.83,1350.99 2752.53,1350.99 2758.24,1350.99C2763.95,1350.99 2769.65,1350.99 2775.36,1350.99L2775.36,1351.5L1662.56,1351.5Z" fill="url(#gs)"/>
<clipPath id="cl"><rect x="1600" y="800" width="1300" height="553.1"/></clipPath><g clip-path="url(#cl)">
<path d="M1662.56,1347.18C1668.27,1342.26 1673.97,1337.33 1679.68,1333.63C1685.39,1329.92 1691.09,1327.09 1696.8,1324.95C1702.51,1322.81 1708.21,1321.99 1713.92,1320.76C1719.63,1319.54 1725.33,1318.08 1731.04,1317.6C1736.75,1317.12 1742.45,1317.26 1748.16,1316.88C1753.87,1316.51 1759.57,1316.17 1765.28,1315.37C1770.99,1314.56 1776.69,1313.02 1782.4,1312.05C1788.11,1311.07 1793.81,1310.4 1799.52,1309.53C1805.23,1308.66 1810.93,1307.7 1816.64,1306.84C1822.35,1305.99 1828.05,1305.41 1833.76,1304.39C1839.47,1303.38 1845.17,1301.42 1850.88,1300.78C1856.59,1300.13 1862.29,1300.18 1868,1299.81C1873.71,1299.43 1879.41,1299.38 1885.12,1298.52C1890.83,1297.66 1896.53,1295.9 1902.24,1294.5C1907.95,1293.09 1913.65,1291.71 1919.36,1290.07C1925.07,1288.42 1930.77,1286.67 1936.48,1284.61C1942.19,1282.56 1947.89,1279.73 1953.6,1277.73C1959.31,1275.73 1965.01,1273.09 1970.72,1272.62C1976.43,1272.15 1982.13,1272.19 1987.84,1271.92C1993.55,1271.65 1999.25,1271.61 2004.96,1270.98C2010.67,1270.36 2016.37,1268.75 2022.08,1266.9C2027.79,1265.06 2033.49,1262.14 2039.2,1259.9C2044.91,1257.67 2050.61,1255.16 2056.32,1253.47C2062.03,1251.79 2067.73,1250.88 2073.44,1249.8C2079.15,1248.71 2084.85,1247.68 2090.56,1246.98C2096.27,1246.29 2101.97,1246.06 2107.68,1245.62C2113.39,1245.18 2119.09,1245.08 2124.8,1244.34C2130.51,1243.61 2136.21,1242.07 2141.92,1241.22C2147.63,1240.37 2153.33,1240.07 2159.04,1239.24C2164.75,1238.41 2170.45,1237.33 2176.16,1236.24C2181.87,1235.14 2187.57,1234.19 2193.28,1232.67C2198.99,1231.16 2204.69,1227.91 2210.4,1227.14C2216.11,1226.37 2221.81,1226.44 2227.52,1225.98C2233.23,1225.52 2238.93,1225.01 2244.64,1224.37C2250.35,1223.74 2256.05,1223.41 2261.76,1222.16C2267.47,1220.92 2273.17,1218.36 2278.88,1216.91C2284.59,1215.47 2290.29,1214.55 2296,1213.48C2301.71,1212.42 2307.41,1211.62 2313.12,1210.53C2318.83,1209.44 2324.53,1207.76 2330.24,1206.96C2335.95,1206.16 2341.65,1206.12 2347.36,1205.72C2353.07,1205.32 2358.77,1205.34 2364.48,1204.58C2370.19,1203.82 2375.89,1202.21 2381.6,1201.13C2387.31,1200.04 2393.01,1198.97 2398.72,1198.09C2404.43,1197.21 2410.13,1196.62 2415.84,1195.85C2421.55,1195.07 2427.25,1194.37 2432.96,1193.43C2438.67,1192.49 2444.37,1190.95 2450.08,1190.22C2455.79,1189.49 2461.49,1189.47 2467.2,1189.04C2472.91,1188.62 2478.61,1188.58 2484.32,1187.65C2490.03,1186.72 2495.73,1184.39 2501.44,1182.84C2507.15,1181.29 2512.85,1179.82 2518.56,1178.35C2524.27,1176.88 2529.97,1175.24 2535.68,1174.02C2541.39,1172.8 2547.09,1172.02 2552.8,1171.03C2558.51,1170.05 2564.21,1168.56 2569.92,1168.1C2575.63,1167.64 2581.33,1167.79 2587.04,1167.41C2592.75,1167.04 2598.45,1166.89 2604.16,1165.84C2609.87,1164.79 2615.57,1162.15 2621.28,1160.66C2626.99,1159.17 2632.69,1158.07 2638.4,1156.88C2644.11,1155.7 2649.81,1154.56 2655.52,1153.56C2661.23,1152.57 2666.93,1151.77 2672.64,1150.9C2678.35,1150.04 2684.05,1148.84 2689.76,1148.36C2695.47,1147.88 2701.17,1147.9 2706.88,1147.64C2712.59,1147.37 2718.29,1147.35 2724,1146.76C2729.71,1146.18 2735.41,1144.17 2741.12,1143.16C2746.83,1142.15 2752.53,1141.34 2758.24,1140.7C2763.95,1140.05 2769.65,1139.67 2775.36,1139.29" fill="none" stroke="#263a88" stroke-width="4"/>
<path d="M1662.56,1351.5C1668.27,1351.08 1673.97,1350.66 1679.68,1350.24C1685.39,1349.81 1691.09,1349.33 1696.8,1348.94C1702.51,1348.56 1708.21,1348.18 1713.92,1347.95C1719.63,1347.71 1725.33,1347.55 1731.04,1347.52C1736.75,1347.48 1742.45,1347.49 1748.16,1347.46C1753.87,1347.43 1759.57,1347.42 1765.28,1347.33C1770.99,1347.24 1776.69,1347.06 1782.4,1346.9C1788.11,1346.74 1793.81,1346.56 1799.52,1346.37C1805.23,1346.17 1810.93,1345.94 1816.64,1345.73C1822.35,1345.53 1828.05,1345.38 1833.76,1345.13C1839.47,1344.88 1845.17,1344.38 1850.88,1344.23C1856.59,1344.09 1862.29,1344.09 1868,1344.01C1873.71,1343.94 1879.41,1343.93 1885.12,1343.76C1890.83,1343.6 1896.53,1342.88 1902.24,1342.41C1907.95,1341.95 1913.65,1341.48 1919.36,1340.98C1925.07,1340.49 1930.77,1339.95 1936.48,1339.47C1942.19,1338.99 1947.89,1338.55 1953.6,1338.1C1959.31,1337.65 1965.01,1336.93 1970.72,1336.76C1976.43,1336.59 1982.13,1336.58 1987.84,1336.51C1993.55,1336.43 1999.25,1336.44 2004.96,1336.31C2010.67,1336.17 2016.37,1335.91 2022.08,1335.13C2027.79,1334.35 2033.49,1332.38 2039.2,1330.91C2044.91,1329.45 2050.61,1327.21 2056.32,1326.34C2062.03,1325.48 2067.73,1325.42 2073.44,1325.05C2079.15,1324.68 2084.85,1324.16 2090.56,1324.11C2096.27,1324.06 2101.97,1324.06 2107.68,1324.03C2113.39,1324.01 2119.09,1324.01 2124.8,1323.95C2130.51,1323.9 2136.21,1323.55 2141.92,1323.29C2147.63,1323.03 2153.33,1322.68 2159.04,1322.39C2164.75,1322.11 2170.45,1321.91 2176.16,1321.6C2181.87,1321.3 2187.57,1320.91 2193.28,1320.55C2198.99,1320.18 2204.69,1319.57 2210.4,1319.41C2216.11,1319.26 2221.81,1319.29 2227.52,1319.19C2233.23,1319.09 2238.93,1318.98 2244.64,1318.81C2250.35,1318.64 2256.05,1318.45 2261.76,1318.16C2267.47,1317.88 2273.17,1317.36 2278.88,1317.08C2284.59,1316.8 2290.29,1316.7 2296,1316.5C2301.71,1316.29 2307.41,1316.11 2313.12,1315.86C2318.83,1315.61 2324.53,1315.21 2330.24,1314.99C2335.95,1314.77 2341.65,1314.64 2347.36,1314.53C2353.07,1314.43 2358.77,1314.47 2364.48,1314.35C2370.19,1314.23 2375.89,1313.67 2381.6,1313.36C2387.31,1313.06 2393.01,1312.77 2398.72,1312.54C2404.43,1312.32 2410.13,1312.17 2415.84,1312C2421.55,1311.84 2427.25,1311.74 2432.96,1311.55C2438.67,1311.36 2444.37,1311.07 2450.08,1310.86C2455.79,1310.65 2461.49,1310.44 2467.2,1310.28C2472.91,1310.12 2478.61,1310.07 2484.32,1309.9C2490.03,1309.74 2495.73,1309.56 2501.44,1309.3C2507.15,1309.03 2512.85,1308.61 2518.56,1308.32C2524.27,1308.03 2529.97,1307.77 2535.68,1307.56C2541.39,1307.35 2547.09,1307.24 2552.8,1307.06C2558.51,1306.87 2564.21,1306.62 2569.92,1306.46C2575.63,1306.3 2581.33,1306.2 2587.04,1306.09C2592.75,1305.98 2598.45,1306 2604.16,1305.82C2609.87,1305.64 2615.57,1304.67 2621.28,1304.22C2626.99,1303.78 2632.69,1303.4 2638.4,1303.13C2644.11,1302.86 2649.81,1302.81 2655.52,1302.6C2661.23,1302.39 2666.93,1302.12 2672.64,1301.88C2678.35,1301.64 2684.05,1301.32 2689.76,1301.17C2695.47,1301.01 2701.17,1301.02 2706.88,1300.93C2712.59,1300.85 2718.29,1300.8 2724,1300.67C2729.71,1300.53 2735.41,1300.31 2741.12,1300.13C2746.83,1299.95 2752.53,1299.71 2758.24,1299.59C2763.95,1299.46 2769.65,1299.41 2775.36,1299.37" fill="none" stroke="#52b5d5" stroke-width="4"/>
<path d="M1662.56,1351.5C1668.27,1351.5 1673.97,1351.5 1679.68,1351.5C1685.39,1351.5 1691.09,1351.5 1696.8,1351.5C1702.51,1351.5 1708.21,1351.5 1713.92,1351.5C1719.63,1351.5 1725.33,1351.5 1731.04,1351.5C1736.75,1351.5 1742.45,1351.5 1748.16,1351.5C1753.87,1351.5 1759.57,1351.5 1765.28,1351.5C1770.99,1351.5 1776.69,1351.5 1782.4,1351.5C1788.11,1351.5 1793.81,1351.5 1799.52,1351.5C1805.23,1351.5 1810.93,1351.5 1816.64,1351.5C1822.35,1351.5 1828.05,1351.5 1833.76,1351.5C1839.47,1351.5 1845.17,1351.5 1850.88,1351.5C1856.59,1351.5 1862.29,1351.5 1868,1351.5C1873.71,1351.5 1879.41,1351.5 1885.12,1351.5C1890.83,1351.5 1896.53,1351.5 1902.24,1351.5C1907.95,1351.5 1913.65,1351.5 1919.36,1351.5C1925.07,1351.5 1930.77,1351.06 1936.48,1350.18C1942.19,1349.29 1947.89,1347.57 1953.6,1345.8C1959.31,1344.04 1965.01,1340.43 1970.72,1339.57C1976.43,1338.71 1982.13,1338.61 1987.84,1338.28C1993.55,1337.94 1999.25,1338.04 2004.96,1337.56C2010.67,1337.08 2016.37,1336.06 2022.08,1335.04C2027.79,1334.02 2033.49,1332.14 2039.2,1331.42C2044.91,1330.69 2050.61,1330.73 2056.32,1330.33C2062.03,1329.93 2067.73,1329.41 2073.44,1329.01C2079.15,1328.6 2084.85,1327.99 2090.56,1327.92C2096.27,1327.85 2101.97,1327.89 2107.68,1327.82C2113.39,1327.75 2119.09,1327.71 2124.8,1327.51C2130.51,1327.3 2136.21,1326.57 2141.92,1326.28C2147.63,1325.99 2153.33,1325.96 2159.04,1325.77C2164.75,1325.57 2170.45,1325.41 2176.16,1325.12C2181.87,1324.82 2187.57,1324.3 2193.28,1324C2198.99,1323.7 2204.69,1323.38 2210.4,1323.35C2216.11,1323.31 2221.81,1323.33 2227.52,1323.29C2233.23,1323.25 2238.93,1323.19 2244.64,1322.99C2250.35,1322.79 2256.05,1322.31 2261.76,1322.03C2267.47,1321.75 2273.17,1321.5 2278.88,1321.31C2284.59,1321.12 2290.29,1321.01 2296,1320.91C2301.71,1320.8 2307.41,1320.79 2313.12,1320.69C2318.83,1320.59 2324.53,1320.35 2330.24,1320.31C2335.95,1320.27 2341.65,1320.29 2347.36,1320.24C2353.07,1320.2 2358.77,1320.14 2364.48,1319.96C2370.19,1319.78 2375.89,1319.39 2381.6,1319.15C2387.31,1318.92 2393.01,1318.75 2398.72,1318.54C2404.43,1318.33 2410.13,1318.08 2415.84,1317.88C2421.55,1317.68 2427.25,1317.52 2432.96,1317.34C2438.67,1317.15 2444.37,1317.03 2450.08,1316.77C2455.79,1316.5 2461.49,1316.02 2467.2,1315.75C2472.91,1315.47 2478.61,1315.44 2484.32,1315.12C2490.03,1314.8 2495.73,1314.28 2501.44,1313.84C2507.15,1313.41 2512.85,1312.88 2518.56,1312.51C2524.27,1312.14 2529.97,1311.98 2535.68,1311.62C2541.39,1311.26 2547.09,1310.68 2552.8,1310.34C2558.51,1310.01 2564.21,1309.7 2569.92,1309.62C2575.63,1309.55 2581.33,1309.55 2587.04,1309.51C2592.75,1309.47 2598.45,1309.47 2604.16,1309.38C2609.87,1309.3 2615.57,1308.95 2621.28,1308.79C2626.99,1308.62 2632.69,1308.52 2638.4,1308.39C2644.11,1308.26 2649.81,1308.11 2655.52,1308.01C2661.23,1307.92 2666.93,1307.88 2672.64,1307.82C2678.35,1307.76 2684.05,1307.66 2689.76,1307.63C2695.47,1307.59 2701.17,1307.61 2706.88,1307.57C2712.59,1307.54 2718.29,1307.38 2724,1307.27C2729.71,1307.16 2735.41,1307.03 2741.12,1306.92C2746.83,1306.8 2752.53,1306.72 2758.24,1306.59C2763.95,1306.47 2769.65,1306.32 2775.36,1306.17" fill="none" stroke="#9aa5b8" stroke-width="4"/>
<path d="M1662.56,1351.5C1668.27,1351.5 1673.97,1351.5 1679.68,1351.5C1685.39,1351.5 1691.09,1351.26 1696.8,1351.13C1702.51,1350.99 1708.21,1350.82 1713.92,1350.69C1719.63,1350.55 1725.33,1350.36 1731.04,1350.31C1736.75,1350.27 1742.45,1350.27 1748.16,1350.24C1753.87,1350.21 1759.57,1350.2 1765.28,1350.13C1770.99,1350.05 1776.69,1349.81 1782.4,1349.69C1788.11,1349.58 1793.81,1349.57 1799.52,1349.44C1805.23,1349.32 1810.93,1349.08 1816.64,1348.93C1822.35,1348.77 1828.05,1348.7 1833.76,1348.52C1839.47,1348.35 1845.17,1348.01 1850.88,1347.87C1856.59,1347.73 1862.29,1347.71 1868,1347.66C1873.71,1347.6 1879.41,1347.62 1885.12,1347.54C1890.83,1347.47 1896.53,1347.27 1902.24,1347.14C1907.95,1347.01 1913.65,1346.86 1919.36,1346.74C1925.07,1346.61 1930.77,1346.53 1936.48,1346.39C1942.19,1346.25 1947.89,1346.05 1953.6,1345.89C1959.31,1345.73 1965.01,1345.53 1970.72,1345.43C1976.43,1345.33 1982.13,1345.32 1987.84,1345.28C1993.55,1345.24 1999.25,1345.25 2004.96,1345.19C2010.67,1345.14 2016.37,1344.99 2022.08,1344.61C2027.79,1344.23 2033.49,1343.45 2039.2,1342.93C2044.91,1342.42 2050.61,1341.86 2056.32,1341.54C2062.03,1341.21 2067.73,1341.14 2073.44,1341C2079.15,1340.86 2084.85,1340.69 2090.56,1340.69C2096.27,1340.69 2101.97,1340.69 2107.68,1340.69C2113.39,1340.69 2119.09,1340.69 2124.8,1340.69C2130.51,1340.69 2136.21,1340.54 2141.92,1340.47C2147.63,1340.4 2153.33,1340.35 2159.04,1340.27C2164.75,1340.2 2170.45,1340.1 2176.16,1340.01C2181.87,1339.91 2187.57,1339.82 2193.28,1339.69C2198.99,1339.56 2204.69,1339.25 2210.4,1339.23C2216.11,1339.2 2221.81,1339.2 2227.52,1339.19C2233.23,1339.17 2238.93,1339.17 2244.64,1339.15C2250.35,1339.13 2256.05,1339.13 2261.76,1339.09C2267.47,1339.04 2273.17,1338.41 2278.88,1338.28C2284.59,1338.14 2290.29,1338.15 2296,1338.07C2301.71,1337.99 2307.41,1337.93 2313.12,1337.78C2318.83,1337.63 2324.53,1337.21 2330.24,1337.18C2335.95,1337.15 2341.65,1337.15 2347.36,1337.13C2353.07,1337.12 2358.77,1337.12 2364.48,1337.09C2370.19,1337.06 2375.89,1336.81 2381.6,1336.7C2387.31,1336.59 2393.01,1336.5 2398.72,1336.43C2404.43,1336.36 2410.13,1336.34 2415.84,1336.27C2421.55,1336.21 2427.25,1336.13 2432.96,1336.04C2438.67,1335.95 2444.37,1335.82 2450.08,1335.74C2455.79,1335.66 2461.49,1335.63 2467.2,1335.55C2472.91,1335.47 2478.61,1335.39 2484.32,1335.27C2490.03,1335.15 2495.73,1335 2501.44,1334.82C2507.15,1334.64 2512.85,1334.39 2518.56,1334.19C2524.27,1333.99 2529.97,1333.84 2535.68,1333.63C2541.39,1333.43 2547.09,1333.25 2552.8,1332.97C2558.51,1332.7 2564.21,1332.04 2569.92,1331.97C2575.63,1331.9 2581.33,1331.9 2587.04,1331.87C2592.75,1331.83 2598.45,1331.84 2604.16,1331.78C2609.87,1331.72 2615.57,1331.16 2621.28,1330.7C2626.99,1330.25 2632.69,1329.36 2638.4,1329.05C2644.11,1328.74 2649.81,1328.89 2655.52,1328.58C2661.23,1328.27 2666.93,1327.46 2672.64,1327.1C2678.35,1326.75 2684.05,1326.48 2689.76,1326.46C2695.47,1326.43 2701.17,1326.43 2706.88,1326.41C2712.59,1326.4 2718.29,1326.4 2724,1326.37C2729.71,1326.35 2735.41,1326.19 2741.12,1326.01C2746.83,1325.83 2752.53,1325.45 2758.24,1325.29C2763.95,1325.13 2769.65,1325.08 2775.36,1325.03" fill="none" stroke="#7638e0" stroke-width="4"/>
<path d="M1662.56,1351.5C1668.27,1351.5 1673.97,1351.5 1679.68,1351.5C1685.39,1351.5 1691.09,1351.5 1696.8,1351.5C1702.51,1351.5 1708.21,1351.5 1713.92,1351.5C1719.63,1351.5 1725.33,1351.5 1731.04,1351.5C1736.75,1351.5 1742.45,1351.5 1748.16,1351.5C1753.87,1351.5 1759.57,1351.5 1765.28,1351.5C1770.99,1351.5 1776.69,1351.5 1782.4,1351.5C1788.11,1351.5 1793.81,1351.5 1799.52,1351.5C1805.23,1351.5 1810.93,1351.5 1816.64,1351.5C1822.35,1351.5 1828.05,1351.48 1833.76,1351.46C1839.47,1351.44 1845.17,1351.39 1850.88,1351.37C1856.59,1351.34 1862.29,1351.35 1868,1351.33C1873.71,1351.31 1879.41,1351.27 1885.12,1351.24C1890.83,1351.21 1896.53,1351.18 1902.24,1351.15C1907.95,1351.12 1913.65,1351.09 1919.36,1351.06C1925.07,1351.02 1930.77,1350.98 1936.48,1350.94C1942.19,1350.91 1947.89,1350.88 1953.6,1350.85C1959.31,1350.82 1965.01,1350.78 1970.72,1350.76C1976.43,1350.74 1982.13,1350.75 1987.84,1350.72C1993.55,1350.7 1999.25,1350.61 2004.96,1350.55C2010.67,1350.49 2016.37,1350.4 2022.08,1350.36C2027.79,1350.32 2033.49,1350.32 2039.2,1350.3C2044.91,1350.28 2050.61,1350.27 2056.32,1350.26C2062.03,1350.25 2067.73,1350.24 2073.44,1350.24C2079.15,1350.24 2084.85,1350.24 2090.56,1350.24C2096.27,1350.24 2101.97,1350.24 2107.68,1350.24C2113.39,1350.24 2119.09,1350.24 2124.8,1350.24C2130.51,1350.24 2136.21,1350.24 2141.92,1350.24C2147.63,1350.24 2153.33,1350.24 2159.04,1350.24C2164.75,1350.24 2170.45,1350.24 2176.16,1350.24C2181.87,1350.24 2187.57,1350.24 2193.28,1350.24C2198.99,1350.24 2204.69,1350.24 2210.4,1350.24C2216.11,1350.24 2221.81,1350.24 2227.52,1350.24C2233.23,1350.24 2238.93,1350.18 2244.64,1350.18C2250.35,1350.18 2256.05,1350.18 2261.76,1350.18C2267.47,1350.18 2273.17,1350.18 2278.88,1350.18C2284.59,1350.18 2290.29,1350.18 2296,1350.18C2301.71,1350.18 2307.41,1350.14 2313.12,1350.14C2318.83,1350.14 2324.53,1350.14 2330.24,1350.14C2335.95,1350.14 2341.65,1350.14 2347.36,1350.14C2353.07,1350.14 2358.77,1350.14 2364.48,1350.14C2370.19,1350.14 2375.89,1350.08 2381.6,1350.08C2387.31,1350.08 2393.01,1350.08 2398.72,1350.08C2404.43,1350.08 2410.13,1350.08 2415.84,1350.08C2421.55,1350.08 2427.25,1350.08 2432.96,1350.08C2438.67,1350.08 2444.37,1350.04 2450.08,1349.94C2455.79,1349.84 2461.49,1349.78 2467.2,1349.47C2472.91,1349.16 2478.61,1348.53 2484.32,1348.07C2490.03,1347.62 2495.73,1347.09 2501.44,1346.75C2507.15,1346.41 2512.85,1346.25 2518.56,1346.04C2524.27,1345.83 2529.97,1345.66 2535.68,1345.49C2541.39,1345.31 2547.09,1345.28 2552.8,1345C2558.51,1344.72 2564.21,1344.13 2569.92,1343.8C2575.63,1343.47 2581.33,1343.51 2587.04,1343.01C2592.75,1342.5 2598.45,1341.71 2604.16,1340.78C2609.87,1339.85 2615.57,1338.3 2621.28,1337.43C2626.99,1336.56 2632.69,1335.99 2638.4,1335.53C2644.11,1335.07 2649.81,1334.9 2655.52,1334.65C2661.23,1334.4 2666.93,1334.18 2672.64,1334C2678.35,1333.83 2684.05,1333.79 2689.76,1333.59C2695.47,1333.4 2701.17,1333.09 2706.88,1332.82C2712.59,1332.56 2718.29,1332.23 2724,1331.98C2729.71,1331.74 2735.41,1331.53 2741.12,1331.35C2746.83,1331.17 2752.53,1331.03 2758.24,1330.92C2763.95,1330.81 2769.65,1330.76 2775.36,1330.71" fill="none" stroke="#86431e" stroke-width="4"/>
<path d="M1662.56,1351.5C1668.27,1351.5 1673.97,1351.5 1679.68,1351.5C1685.39,1351.5 1691.09,1351.5 1696.8,1351.5C1702.51,1351.5 1708.21,1351.5 1713.92,1351.5C1719.63,1351.5 1725.33,1351.5 1731.04,1351.5C1736.75,1351.5 1742.45,1351.5 1748.16,1351.5C1753.87,1351.5 1759.57,1351.5 1765.28,1351.5C1770.99,1351.5 1776.69,1351.5 1782.4,1351.5C1788.11,1351.5 1793.81,1351.5 1799.52,1351.5C1805.23,1351.5 1810.93,1351.5 1816.64,1351.5C1822.35,1351.5 1828.05,1351.5 1833.76,1351.5C1839.47,1351.5 1845.17,1351.5 1850.88,1351.5C1856.59,1351.5 1862.29,1351.5 1868,1351.5C1873.71,1351.5 1879.41,1351.5 1885.12,1351.5C1890.83,1351.5 1896.53,1351.5 1902.24,1351.5C1907.95,1351.5 1913.65,1351.5 1919.36,1351.5C1925.07,1351.5 1930.77,1351.24 1936.48,1350.89C1942.19,1350.53 1947.89,1349.79 1953.6,1349.38C1959.31,1348.98 1965.01,1348.65 1970.72,1348.46C1976.43,1348.28 1982.13,1348.28 1987.84,1348.19C1993.55,1348.1 1999.25,1348.1 2004.96,1347.94C2010.67,1347.77 2016.37,1347.25 2022.08,1346.79C2027.79,1346.32 2033.49,1345.46 2039.2,1345.17C2044.91,1344.88 2050.61,1344.89 2056.32,1344.74C2062.03,1344.59 2067.73,1344.41 2073.44,1344.28C2079.15,1344.15 2084.85,1344.04 2090.56,1343.97C2096.27,1343.89 2101.97,1343.88 2107.68,1343.82C2113.39,1343.77 2119.09,1343.71 2124.8,1343.65C2130.51,1343.58 2136.21,1343.5 2141.92,1343.43C2147.63,1343.36 2153.33,1343.32 2159.04,1343.24C2164.75,1343.15 2170.45,1343.02 2176.16,1342.93C2181.87,1342.84 2187.57,1342.77 2193.28,1342.71C2198.99,1342.64 2204.69,1342.56 2210.4,1342.56C2216.11,1342.56 2221.81,1342.56 2227.52,1342.56C2233.23,1342.56 2238.93,1342.56 2244.64,1342.56C2250.35,1342.56 2256.05,1342.42 2261.76,1342.35C2267.47,1342.28 2273.17,1342.17 2278.88,1342.12C2284.59,1342.07 2290.29,1342.08 2296,1342.05C2301.71,1342.02 2307.41,1341.96 2313.12,1341.92C2318.83,1341.87 2324.53,1341.8 2330.24,1341.76C2335.95,1341.72 2341.65,1341.72 2347.36,1341.68C2353.07,1341.64 2358.77,1341.59 2364.48,1341.52C2370.19,1341.46 2375.89,1341.36 2381.6,1341.29C2387.31,1341.23 2393.01,1341.19 2398.72,1341.13C2404.43,1341.07 2410.13,1341.01 2415.84,1340.96C2421.55,1340.9 2427.25,1340.84 2432.96,1340.8C2438.67,1340.76 2444.37,1340.77 2450.08,1340.72C2455.79,1340.67 2461.49,1340.37 2467.2,1340.21C2472.91,1340.05 2478.61,1339.92 2484.32,1339.78C2490.03,1339.64 2495.73,1339.5 2501.44,1339.39C2507.15,1339.28 2512.85,1339.19 2518.56,1339.12C2524.27,1339.06 2529.97,1339.03 2535.68,1339C2541.39,1338.97 2547.09,1338.95 2552.8,1338.92C2558.51,1338.89 2564.21,1338.84 2569.92,1338.84C2575.63,1338.84 2581.33,1338.84 2587.04,1338.84C2592.75,1338.84 2598.45,1338.84 2604.16,1338.84C2609.87,1338.84 2615.57,1338.75 2621.28,1338.71C2626.99,1338.67 2632.69,1338.58 2638.4,1338.58C2644.11,1338.58 2649.81,1338.58 2655.52,1338.58C2661.23,1338.58 2666.93,1338.52 2672.64,1338.5C2678.35,1338.48 2684.05,1338.44 2689.76,1338.44C2695.47,1338.44 2701.17,1338.44 2706.88,1338.44C2712.59,1338.44 2718.29,1338.41 2724,1338.38C2729.71,1338.35 2735.41,1338.31 2741.12,1338.28C2746.83,1338.25 2752.53,1338.23 2758.24,1338.21C2763.95,1338.19 2769.65,1338.16 2775.36,1338.14" fill="none" stroke="#e4b843" stroke-width="4"/>
<path d="M1662.56,1351.5C1668.27,1351.5 1673.97,1351.5 1679.68,1351.5C1685.39,1351.5 1691.09,1351.5 1696.8,1351.5C1702.51,1351.5 1708.21,1351.5 1713.92,1351.5C1719.63,1351.5 1725.33,1351.43 1731.04,1351.4C1736.75,1351.36 1742.45,1351.35 1748.16,1351.31C1753.87,1351.28 1759.57,1351.27 1765.28,1351.2C1770.99,1351.12 1776.69,1350.88 1782.4,1350.73C1788.11,1350.58 1793.81,1350.37 1799.52,1350.31C1805.23,1350.24 1810.93,1350.26 1816.64,1350.21C1822.35,1350.16 1828.05,1350.08 1833.76,1349.98C1839.47,1349.88 1845.17,1349.7 1850.88,1349.6C1856.59,1349.49 1862.29,1349.43 1868,1349.35C1873.71,1349.26 1879.41,1349.23 1885.12,1349.11C1890.83,1348.98 1896.53,1348.76 1902.24,1348.62C1907.95,1348.47 1913.65,1348.36 1919.36,1348.21C1925.07,1348.06 1930.77,1347.88 1936.48,1347.71C1942.19,1347.55 1947.89,1347.35 1953.6,1347.21C1959.31,1347.08 1965.01,1346.99 1970.72,1346.9C1976.43,1346.8 1982.13,1346.75 1987.84,1346.65C1993.55,1346.55 1999.25,1346.42 2004.96,1346.3C2010.67,1346.19 2016.37,1345.99 2022.08,1345.96C2027.79,1345.92 2033.49,1345.93 2039.2,1345.91C2044.91,1345.89 2050.61,1345.87 2056.32,1345.83C2062.03,1345.8 2067.73,1345.78 2073.44,1345.72C2079.15,1345.66 2084.85,1345.56 2090.56,1345.49C2096.27,1345.42 2101.97,1345.34 2107.68,1345.29C2113.39,1345.24 2119.09,1345.25 2124.8,1345.18C2130.51,1345.11 2136.21,1344.95 2141.92,1344.86C2147.63,1344.76 2153.33,1344.72 2159.04,1344.63C2164.75,1344.54 2170.45,1344.4 2176.16,1344.3C2181.87,1344.2 2187.57,1344.09 2193.28,1344C2198.99,1343.91 2204.69,1343.84 2210.4,1343.77C2216.11,1343.7 2221.81,1343.65 2227.52,1343.59C2233.23,1343.53 2238.93,1343.46 2244.64,1343.4C2250.35,1343.34 2256.05,1343.29 2261.76,1343.24C2267.47,1343.18 2273.17,1343.13 2278.88,1343.09C2284.59,1343.05 2290.29,1343.02 2296,1342.99C2301.71,1342.96 2307.41,1342.93 2313.12,1342.9C2318.83,1342.87 2324.53,1342.79 2330.24,1342.79C2335.95,1342.79 2341.65,1342.79 2347.36,1342.79C2353.07,1342.79 2358.77,1342.75 2364.48,1342.71C2370.19,1342.66 2375.89,1342.58 2381.6,1342.52C2387.31,1342.45 2393.01,1342.39 2398.72,1342.34C2404.43,1342.28 2410.13,1342.23 2415.84,1342.19C2421.55,1342.16 2427.25,1342.15 2432.96,1342.14C2438.67,1342.12 2444.37,1342.12 2450.08,1342.1C2455.79,1342.07 2461.49,1341.63 2467.2,1341.54C2472.91,1341.44 2478.61,1341.45 2484.32,1341.4C2490.03,1341.35 2495.73,1341.3 2501.44,1341.26C2507.15,1341.21 2512.85,1341.19 2518.56,1341.14C2524.27,1341.1 2529.97,1341.03 2535.68,1340.99C2541.39,1340.95 2547.09,1340.91 2552.8,1340.91C2558.51,1340.91 2564.21,1340.91 2569.92,1340.91C2575.63,1340.91 2581.33,1340.84 2587.04,1340.81C2592.75,1340.78 2598.45,1340.78 2604.16,1340.74C2609.87,1340.7 2615.57,1340.58 2621.28,1340.58C2626.99,1340.58 2632.69,1340.58 2638.4,1340.58C2644.11,1340.58 2649.81,1340.48 2655.52,1340.48C2661.23,1340.48 2666.93,1340.48 2672.64,1340.48C2678.35,1340.48 2684.05,1340.44 2689.76,1340.42C2695.47,1340.4 2701.17,1340.4 2706.88,1340.38C2712.59,1340.35 2718.29,1340.29 2724,1340.29C2729.71,1340.29 2735.41,1340.29 2741.12,1340.29C2746.83,1340.29 2752.53,1340.21 2758.24,1340.18C2763.95,1340.15 2769.65,1340.13 2775.36,1340.11" fill="none" stroke="#d43833" stroke-width="4"/>
<path d="M1662.56,1351.5C1668.27,1351.5 1673.97,1351.5 1679.68,1351.5C1685.39,1351.5 1691.09,1351.5 1696.8,1351.5C1702.51,1351.5 1708.21,1351.5 1713.92,1351.5C1719.63,1351.5 1725.33,1351.5 1731.04,1351.5C1736.75,1351.5 1742.45,1351.5 1748.16,1351.5C1753.87,1351.5 1759.57,1351.5 1765.28,1351.5C1770.99,1351.5 1776.69,1351.5 1782.4,1351.5C1788.11,1351.5 1793.81,1351.5 1799.52,1351.5C1805.23,1351.5 1810.93,1351.5 1816.64,1351.5C1822.35,1351.5 1828.05,1351.5 1833.76,1351.5C1839.47,1351.5 1845.17,1351.5 1850.88,1351.5C1856.59,1351.5 1862.29,1351.5 1868,1351.5C1873.71,1351.5 1879.41,1351.5 1885.12,1351.5C1890.83,1351.5 1896.53,1351.5 1902.24,1351.5C1907.95,1351.5 1913.65,1351.5 1919.36,1351.5C1925.07,1351.5 1930.77,1351.5 1936.48,1351.5C1942.19,1351.5 1947.89,1351.5 1953.6,1351.5C1959.31,1351.5 1965.01,1351.5 1970.72,1351.5C1976.43,1351.5 1982.13,1351.5 1987.84,1351.5C1993.55,1351.5 1999.25,1351.5 2004.96,1351.5C2010.67,1351.5 2016.37,1351.5 2022.08,1351.5C2027.79,1351.5 2033.49,1351.5 2039.2,1351.5C2044.91,1351.5 2050.61,1351.5 2056.32,1351.5C2062.03,1351.5 2067.73,1351.5 2073.44,1351.5C2079.15,1351.5 2084.85,1351.5 2090.56,1351.5C2096.27,1351.5 2101.97,1351.5 2107.68,1351.5C2113.39,1351.5 2119.09,1351.5 2124.8,1351.5C2130.51,1351.5 2136.21,1351.5 2141.92,1351.5C2147.63,1351.5 2153.33,1351.5 2159.04,1351.5C2164.75,1351.5 2170.45,1351.48 2176.16,1351.44C2181.87,1351.4 2187.57,1351.31 2193.28,1351.23C2198.99,1351.15 2204.69,1351.04 2210.4,1350.96C2216.11,1350.89 2221.81,1350.83 2227.52,1350.78C2233.23,1350.73 2238.93,1350.72 2244.64,1350.66C2250.35,1350.6 2256.05,1350.5 2261.76,1350.41C2267.47,1350.32 2273.17,1350.2 2278.88,1350.12C2284.59,1350.03 2290.29,1349.95 2296,1349.9C2301.71,1349.84 2307.41,1349.83 2313.12,1349.78C2318.83,1349.74 2324.53,1349.67 2330.24,1349.61C2335.95,1349.55 2341.65,1349.49 2347.36,1349.45C2353.07,1349.4 2358.77,1349.42 2364.48,1349.35C2370.19,1349.29 2375.89,1349.07 2381.6,1348.97C2387.31,1348.86 2393.01,1348.81 2398.72,1348.71C2404.43,1348.61 2410.13,1348.47 2415.84,1348.38C2421.55,1348.29 2427.25,1348.22 2432.96,1348.17C2438.67,1348.13 2444.37,1348.15 2450.08,1348.1C2455.79,1348.06 2461.49,1347.74 2467.2,1347.64C2472.91,1347.55 2478.61,1347.56 2484.32,1347.5C2490.03,1347.43 2495.73,1347.33 2501.44,1347.25C2507.15,1347.18 2512.85,1347.1 2518.56,1347.05C2524.27,1347 2529.97,1347.01 2535.68,1346.95C2541.39,1346.89 2547.09,1346.76 2552.8,1346.71C2558.51,1346.66 2564.21,1346.68 2569.92,1346.63C2575.63,1346.58 2581.33,1346.37 2587.04,1346.29C2592.75,1346.21 2598.45,1346.2 2604.16,1346.16C2609.87,1346.13 2615.57,1346.11 2621.28,1346.08C2626.99,1346.05 2632.69,1345.98 2638.4,1345.98C2644.11,1345.98 2649.81,1345.98 2655.52,1345.98C2661.23,1345.98 2666.93,1345.94 2672.64,1345.92C2678.35,1345.89 2684.05,1345.85 2689.76,1345.82C2695.47,1345.79 2701.17,1345.78 2706.88,1345.74C2712.59,1345.69 2718.29,1345.62 2724,1345.57C2729.71,1345.52 2735.41,1345.42 2741.12,1345.42C2746.83,1345.42 2752.53,1345.42 2758.24,1345.42C2763.95,1345.42 2769.65,1345.42 2775.36,1345.42" fill="none" stroke="#86b93b" stroke-width="4"/>
<path d="M1662.56,1351.5C1668.27,1351.5 1673.97,1351.5 1679.68,1351.5C1685.39,1351.5 1691.09,1351.5 1696.8,1351.5C1702.51,1351.5 1708.21,1351.5 1713.92,1351.5C1719.63,1351.5 1725.33,1351.5 1731.04,1351.5C1736.75,1351.5 1742.45,1351.5 1748.16,1351.5C1753.87,1351.5 1759.57,1351.5 1765.28,1351.5C1770.99,1351.5 1776.69,1351.5 1782.4,1351.5C1788.11,1351.5 1793.81,1351.5 1799.52,1351.5C1805.23,1351.5 1810.93,1351.5 1816.64,1351.5C1822.35,1351.5 1828.05,1351.5 1833.76,1351.5C1839.47,1351.5 1845.17,1351.5 1850.88,1351.5C1856.59,1351.5 1862.29,1351.5 1868,1351.5C1873.71,1351.5 1879.41,1351.5 1885.12,1351.5C1890.83,1351.5 1896.53,1351.5 1902.24,1351.5C1907.95,1351.5 1913.65,1351.5 1919.36,1351.5C1925.07,1351.5 1930.77,1351.5 1936.48,1351.5C1942.19,1351.5 1947.89,1351.48 1953.6,1351.44C1959.31,1351.41 1965.01,1351.35 1970.72,1351.3C1976.43,1351.25 1982.13,1351.21 1987.84,1351.16C1993.55,1351.11 1999.25,1351.06 2004.96,1351C2010.67,1350.95 2016.37,1350.89 2022.08,1350.81C2027.79,1350.74 2033.49,1350.69 2039.2,1350.55C2044.91,1350.41 2050.61,1350.05 2056.32,1349.99C2062.03,1349.92 2067.73,1349.93 2073.44,1349.89C2079.15,1349.85 2084.85,1349.79 2090.56,1349.76C2096.27,1349.73 2101.97,1349.72 2107.68,1349.7C2113.39,1349.67 2119.09,1349.66 2124.8,1349.64C2130.51,1349.62 2136.21,1349.61 2141.92,1349.58C2147.63,1349.56 2153.33,1349.53 2159.04,1349.5C2164.75,1349.47 2170.45,1349.43 2176.16,1349.4C2181.87,1349.37 2187.57,1349.34 2193.28,1349.3C2198.99,1349.27 2204.69,1349.21 2210.4,1349.21C2216.11,1349.21 2221.81,1349.21 2227.52,1349.21C2233.23,1349.21 2238.93,1349.14 2244.64,1349.12C2250.35,1349.1 2256.05,1349.11 2261.76,1349.08C2267.47,1349.06 2273.17,1348.99 2278.88,1348.96C2284.59,1348.93 2290.29,1348.91 2296,1348.89C2301.71,1348.87 2307.41,1348.85 2313.12,1348.83C2318.83,1348.8 2324.53,1348.76 2330.24,1348.73C2335.95,1348.7 2341.65,1348.67 2347.36,1348.63C2353.07,1348.6 2358.77,1348.57 2364.48,1348.53C2370.19,1348.48 2375.89,1348.4 2381.6,1348.35C2387.31,1348.31 2393.01,1348.3 2398.72,1348.27C2404.43,1348.24 2410.13,1348.22 2415.84,1348.18C2421.55,1348.15 2427.25,1348.1 2432.96,1348.07C2438.67,1348.04 2444.37,1348.04 2450.08,1347.99C2455.79,1347.94 2461.49,1347.76 2467.2,1347.71C2472.91,1347.65 2478.61,1347.67 2484.32,1347.62C2490.03,1347.58 2495.73,1347.5 2501.44,1347.45C2507.15,1347.4 2512.85,1347.36 2518.56,1347.32C2524.27,1347.27 2529.97,1347.25 2535.68,1347.2C2541.39,1347.15 2547.09,1347.04 2552.8,1347C2558.51,1346.96 2564.21,1346.98 2569.92,1346.94C2575.63,1346.9 2581.33,1346.68 2587.04,1346.64C2592.75,1346.6 2598.45,1346.62 2604.16,1346.58C2609.87,1346.55 2615.57,1346.28 2621.28,1346.23C2626.99,1346.17 2632.69,1346.16 2638.4,1346.14C2644.11,1346.12 2649.81,1346.1 2655.52,1346.08C2661.23,1346.07 2666.93,1346.06 2672.64,1346.05C2678.35,1346.03 2684.05,1346.01 2689.76,1345.97C2695.47,1345.92 2701.17,1345.82 2706.88,1345.77C2712.59,1345.73 2718.29,1345.73 2724,1345.7C2729.71,1345.67 2735.41,1345.64 2741.12,1345.61C2746.83,1345.59 2752.53,1345.56 2758.24,1345.56C2763.95,1345.56 2769.65,1345.56 2775.36,1345.56" fill="none" stroke="#5087ee" stroke-width="4"/>
<path d="M1662.56,1351.5C1668.27,1351.5 1673.97,1351.5 1679.68,1351.5C1685.39,1351.5 1691.09,1351.5 1696.8,1351.5C1702.51,1351.5 1708.21,1351.42 1713.92,1351.36C1719.63,1351.29 1725.33,1351.13 1731.04,1351.11C1736.75,1351.09 1742.45,1351.09 1748.16,1351.08C1753.87,1351.07 1759.57,1351.06 1765.28,1351.05C1770.99,1351.03 1776.69,1351.03 1782.4,1351C1788.11,1350.97 1793.81,1350.9 1799.52,1350.85C1805.23,1350.79 1810.93,1350.79 1816.64,1350.67C1822.35,1350.56 1828.05,1350.17 1833.76,1350C1839.47,1349.84 1845.17,1349.71 1850.88,1349.68C1856.59,1349.65 1862.29,1349.65 1868,1349.63C1873.71,1349.62 1879.41,1349.62 1885.12,1349.6C1890.83,1349.57 1896.53,1349.39 1902.24,1349.31C1907.95,1349.22 1913.65,1349.15 1919.36,1349.1C1925.07,1349.04 1930.77,1349.01 1936.48,1348.97C1942.19,1348.93 1947.89,1348.88 1953.6,1348.84C1959.31,1348.8 1965.01,1348.74 1970.72,1348.73C1976.43,1348.71 1982.13,1348.71 1987.84,1348.7C1993.55,1348.69 1999.25,1348.68 2004.96,1348.66C2010.67,1348.63 2016.37,1348.61 2022.08,1348.56C2027.79,1348.51 2033.49,1348.4 2039.2,1348.34C2044.91,1348.28 2050.61,1348.23 2056.32,1348.21C2062.03,1348.18 2067.73,1348.18 2073.44,1348.17C2079.15,1348.15 2084.85,1348.13 2090.56,1348.11C2096.27,1348.09 2101.97,1348.07 2107.68,1348.07C2113.39,1348.07 2119.09,1348.07 2124.8,1348.07C2130.51,1348.07 2136.21,1348.04 2141.92,1348.02C2147.63,1348 2153.33,1347.97 2159.04,1347.94C2164.75,1347.91 2170.45,1347.86 2176.16,1347.83C2181.87,1347.8 2187.57,1347.81 2193.28,1347.78C2198.99,1347.75 2204.69,1347.64 2210.4,1347.64C2216.11,1347.64 2221.81,1347.64 2227.52,1347.64C2233.23,1347.64 2238.93,1347.59 2244.64,1347.57C2250.35,1347.55 2256.05,1347.54 2261.76,1347.52C2267.47,1347.5 2273.17,1347.45 2278.88,1347.45C2284.59,1347.45 2290.29,1347.45 2296,1347.45C2301.71,1347.45 2307.41,1347.45 2313.12,1347.45C2318.83,1347.45 2324.53,1347.45 2330.24,1347.45C2335.95,1347.45 2341.65,1347.45 2347.36,1347.45C2353.07,1347.45 2358.77,1347.45 2364.48,1347.45C2370.19,1347.45 2375.89,1347.45 2381.6,1347.45C2387.31,1347.45 2393.01,1347.39 2398.72,1347.39C2404.43,1347.39 2410.13,1347.39 2415.84,1347.39C2421.55,1347.39 2427.25,1347.33 2432.96,1347.3C2438.67,1347.28 2444.37,1347.26 2450.08,1347.24C2455.79,1347.22 2461.49,1347.18 2467.2,1347.18C2472.91,1347.18 2478.61,1347.18 2484.32,1347.18C2490.03,1347.18 2495.73,1347.18 2501.44,1347.18C2507.15,1347.18 2512.85,1347.14 2518.56,1347.11C2524.27,1347.08 2529.97,1347.05 2535.68,1347.01C2541.39,1346.97 2547.09,1346.92 2552.8,1346.88C2558.51,1346.85 2564.21,1346.8 2569.92,1346.8C2575.63,1346.8 2581.33,1346.8 2587.04,1346.8C2592.75,1346.8 2598.45,1346.76 2604.16,1346.73C2609.87,1346.71 2615.57,1346.68 2621.28,1346.65C2626.99,1346.62 2632.69,1346.55 2638.4,1346.55C2644.11,1346.55 2649.81,1346.55 2655.52,1346.55C2661.23,1346.55 2666.93,1346.44 2672.64,1346.44C2678.35,1346.44 2684.05,1346.44 2689.76,1346.44C2695.47,1346.44 2701.17,1346.44 2706.88,1346.44C2712.59,1346.44 2718.29,1346.44 2724,1346.44C2729.71,1346.44 2735.41,1346.44 2741.12,1346.44C2746.83,1346.44 2752.53,1346.37 2758.24,1346.33C2763.95,1346.29 2769.65,1346.25 2775.36,1346.21" fill="none" stroke="#ee772e" stroke-width="4"/>
<path d="M1662.56,1351.5C1668.27,1351.5 1673.97,1351.5 1679.68,1351.5C1685.39,1351.5 1691.09,1351.5 1696.8,1351.5C1702.51,1351.5 1708.21,1351.5 1713.92,1351.5C1719.63,1351.5 1725.33,1351.5 1731.04,1351.5C1736.75,1351.5 1742.45,1351.5 1748.16,1351.5C1753.87,1351.5 1759.57,1351.5 1765.28,1351.5C1770.99,1351.5 1776.69,1351.5 1782.4,1351.5C1788.11,1351.5 1793.81,1351.5 1799.52,1351.5C1805.23,1351.5 1810.93,1351.49 1816.64,1351.48C1822.35,1351.47 1828.05,1351.44 1833.76,1351.4C1839.47,1351.37 1845.17,1351.31 1850.88,1351.29C1856.59,1351.27 1862.29,1351.27 1868,1351.26C1873.71,1351.25 1879.41,1351.26 1885.12,1351.24C1890.83,1351.23 1896.53,1351.06 1902.24,1350.99C1907.95,1350.92 1913.65,1350.87 1919.36,1350.82C1925.07,1350.77 1930.77,1350.7 1936.48,1350.67C1942.19,1350.63 1947.89,1350.63 1953.6,1350.61C1959.31,1350.59 1965.01,1350.59 1970.72,1350.57C1976.43,1350.54 1982.13,1350.48 1987.84,1350.45C1993.55,1350.42 1999.25,1350.4 2004.96,1350.38C2010.67,1350.37 2016.37,1350.36 2022.08,1350.34C2027.79,1350.32 2033.49,1350.3 2039.2,1350.27C2044.91,1350.25 2050.61,1350.21 2056.32,1350.17C2062.03,1350.14 2067.73,1350.09 2073.44,1350.06C2079.15,1350.03 2084.85,1350 2090.56,1350C2096.27,1350 2101.97,1350 2107.68,1350C2113.39,1350 2119.09,1350 2124.8,1350C2130.51,1350 2136.21,1349.95 2141.92,1349.95C2147.63,1349.95 2153.33,1349.95 2159.04,1349.95C2164.75,1349.95 2170.45,1349.95 2176.16,1349.95C2181.87,1349.95 2187.57,1349.94 2193.28,1349.9C2198.99,1349.87 2204.69,1349.8 2210.4,1349.76C2216.11,1349.73 2221.81,1349.7 2227.52,1349.7C2233.23,1349.7 2238.93,1349.7 2244.64,1349.7C2250.35,1349.7 2256.05,1349.69 2261.76,1349.66C2267.47,1349.64 2273.17,1349.57 2278.88,1349.54C2284.59,1349.5 2290.29,1349.47 2296,1349.43C2301.71,1349.39 2307.41,1349.33 2313.12,1349.29C2318.83,1349.25 2324.53,1349.19 2330.24,1349.19C2335.95,1349.19 2341.65,1349.19 2347.36,1349.19C2353.07,1349.19 2358.77,1349.19 2364.48,1349.19C2370.19,1349.19 2375.89,1349.19 2381.6,1349.19C2387.31,1349.19 2393.01,1349.19 2398.72,1349.19C2404.43,1349.19 2410.13,1349.19 2415.84,1349.19C2421.55,1349.19 2427.25,1349.19 2432.96,1349.19C2438.67,1349.19 2444.37,1349.13 2450.08,1349.13C2455.79,1349.13 2461.49,1349.13 2467.2,1349.13C2472.91,1349.13 2478.61,1349.11 2484.32,1349.08C2490.03,1349.04 2495.73,1348.99 2501.44,1348.92C2507.15,1348.86 2512.85,1348.72 2518.56,1348.68C2524.27,1348.64 2529.97,1348.62 2535.68,1348.62C2541.39,1348.62 2547.09,1348.62 2552.8,1348.62C2558.51,1348.62 2564.21,1348.54 2569.92,1348.54C2575.63,1348.54 2581.33,1348.54 2587.04,1348.54C2592.75,1348.54 2598.45,1348.54 2604.16,1348.54C2609.87,1348.54 2615.57,1348.49 2621.28,1348.47C2626.99,1348.44 2632.69,1348.41 2638.4,1348.38C2644.11,1348.35 2649.81,1348.33 2655.52,1348.3C2661.23,1348.28 2666.93,1348.26 2672.64,1348.24C2678.35,1348.21 2684.05,1348.15 2689.76,1348.15C2695.47,1348.15 2701.17,1348.15 2706.88,1348.15C2712.59,1348.15 2718.29,1348.15 2724,1348.15C2729.71,1348.15 2735.41,1348.12 2741.12,1348.05C2746.83,1347.99 2752.53,1347.73 2758.24,1347.67C2763.95,1347.61 2769.65,1347.59 2775.36,1347.57" fill="none" stroke="#42966f" stroke-width="4"/>
<path d="M1662.56,1351.5C1668.27,1351.5 1673.97,1351.5 1679.68,1351.5C1685.39,1351.5 1691.09,1351.5 1696.8,1351.5C1702.51,1351.5 1708.21,1351.5 1713.92,1351.5C1719.63,1351.5 1725.33,1351.5 1731.04,1351.5C1736.75,1351.5 1742.45,1351.5 1748.16,1351.5C1753.87,1351.5 1759.57,1351.5 1765.28,1351.5C1770.99,1351.5 1776.69,1351.5 1782.4,1351.5C1788.11,1351.5 1793.81,1351.5 1799.52,1351.5C1805.23,1351.5 1810.93,1351.5 1816.64,1351.5C1822.35,1351.5 1828.05,1351.5 1833.76,1351.5C1839.47,1351.5 1845.17,1351.5 1850.88,1351.5C1856.59,1351.5 1862.29,1351.5 1868,1351.5C1873.71,1351.5 1879.41,1351.5 1885.12,1351.5C1890.83,1351.5 1896.53,1351.5 1902.24,1351.5C1907.95,1351.5 1913.65,1351.5 1919.36,1351.5C1925.07,1351.5 1930.77,1351.5 1936.48,1351.5C1942.19,1351.5 1947.89,1351.5 1953.6,1351.5C1959.31,1351.5 1965.01,1351.5 1970.72,1351.5C1976.43,1351.5 1982.13,1351.5 1987.84,1351.5C1993.55,1351.5 1999.25,1351.5 2004.96,1351.5C2010.67,1351.5 2016.37,1351.5 2022.08,1351.5C2027.79,1351.5 2033.49,1351.5 2039.2,1351.5C2044.91,1351.5 2050.61,1351.45 2056.32,1351.37C2062.03,1351.28 2067.73,1351.12 2073.44,1351C2079.15,1350.89 2084.85,1350.68 2090.56,1350.68C2096.27,1350.68 2101.97,1350.68 2107.68,1350.68C2113.39,1350.68 2119.09,1350.64 2124.8,1350.63C2130.51,1350.61 2136.21,1350.62 2141.92,1350.59C2147.63,1350.56 2153.33,1350.51 2159.04,1350.47C2164.75,1350.42 2170.45,1350.39 2176.16,1350.34C2181.87,1350.29 2187.57,1350.21 2193.28,1350.16C2198.99,1350.11 2204.69,1350.06 2210.4,1350.05C2216.11,1350.03 2221.81,1350.03 2227.52,1350.02C2233.23,1350.01 2238.93,1349.99 2244.64,1349.99C2250.35,1349.99 2256.05,1349.99 2261.76,1349.99C2267.47,1349.99 2273.17,1349.89 2278.88,1349.89C2284.59,1349.89 2290.29,1349.89 2296,1349.89C2301.71,1349.89 2307.41,1349.89 2313.12,1349.89C2318.83,1349.89 2324.53,1349.82 2330.24,1349.8C2335.95,1349.77 2341.65,1349.76 2347.36,1349.75C2353.07,1349.73 2358.77,1349.72 2364.48,1349.71C2370.19,1349.69 2375.89,1349.66 2381.6,1349.66C2387.31,1349.66 2393.01,1349.66 2398.72,1349.66C2404.43,1349.66 2410.13,1349.66 2415.84,1349.66C2421.55,1349.66 2427.25,1349.66 2432.96,1349.66C2438.67,1349.66 2444.37,1349.62 2450.08,1349.6C2455.79,1349.58 2461.49,1349.52 2467.2,1349.52C2472.91,1349.52 2478.61,1349.52 2484.32,1349.52C2490.03,1349.52 2495.73,1349.33 2501.44,1349.28C2507.15,1349.24 2512.85,1349.22 2518.56,1349.22C2524.27,1349.22 2529.97,1349.22 2535.68,1349.22C2541.39,1349.22 2547.09,1349.11 2552.8,1349.08C2558.51,1349.04 2564.21,1349 2569.92,1349C2575.63,1349 2581.33,1349 2587.04,1349C2592.75,1349 2598.45,1349 2604.16,1349C2609.87,1349 2615.57,1349 2621.28,1349C2626.99,1349 2632.69,1349 2638.4,1349C2644.11,1349 2649.81,1349 2655.52,1349C2661.23,1349 2666.93,1349 2672.64,1349C2678.35,1349 2684.05,1349 2689.76,1349C2695.47,1349 2701.17,1349 2706.88,1349C2712.59,1349 2718.29,1349 2724,1349C2729.71,1349 2735.41,1349 2741.12,1349C2746.83,1349 2752.53,1349 2758.24,1349C2763.95,1349 2769.65,1349 2775.36,1349" fill="none" stroke="#dc652a" stroke-width="4"/>
<path d="M1662.56,1351.5C1668.27,1351.5 1673.97,1351.5 1679.68,1351.5C1685.39,1351.5 1691.09,1351.5 1696.8,1351.5C1702.51,1351.5 1708.21,1351.5 1713.92,1351.5C1719.63,1351.5 1725.33,1351.5 1731.04,1351.5C1736.75,1351.5 1742.45,1351.5 1748.16,1351.5C1753.87,1351.5 1759.57,1351.5 1765.28,1351.5C1770.99,1351.5 1776.69,1351.5 1782.4,1351.5C1788.11,1351.5 1793.81,1351.5 1799.52,1351.5C1805.23,1351.5 1810.93,1351.5 1816.64,1351.5C1822.35,1351.5 1828.05,1351.5 1833.76,1351.5C1839.47,1351.5 1845.17,1351.5 1850.88,1351.5C1856.59,1351.5 1862.29,1351.5 1868,1351.5C1873.71,1351.5 1879.41,1351.5 1885.12,1351.5C1890.83,1351.5 1896.53,1351.5 1902.24,1351.5C1907.95,1351.5 1913.65,1351.5 1919.36,1351.5C1925.07,1351.5 1930.77,1351.5 1936.48,1351.5C1942.19,1351.5 1947.89,1351.43 1953.6,1351.4C1959.31,1351.36 1965.01,1351.32 1970.72,1351.28C1976.43,1351.25 1982.13,1351.2 1987.84,1351.17C1993.55,1351.14 1999.25,1351.15 2004.96,1351.11C2010.67,1351.07 2016.37,1350.98 2022.08,1350.93C2027.79,1350.88 2033.49,1350.85 2039.2,1350.82C2044.91,1350.79 2050.61,1350.75 2056.32,1350.75C2062.03,1350.75 2067.73,1350.75 2073.44,1350.75C2079.15,1350.75 2084.85,1350.69 2090.56,1350.69C2096.27,1350.69 2101.97,1350.69 2107.68,1350.69C2113.39,1350.69 2119.09,1350.69 2124.8,1350.69C2130.51,1350.69 2136.21,1350.62 2141.92,1350.57C2147.63,1350.52 2153.33,1350.43 2159.04,1350.39C2164.75,1350.35 2170.45,1350.35 2176.16,1350.34C2181.87,1350.32 2187.57,1350.32 2193.28,1350.3C2198.99,1350.29 2204.69,1350.27 2210.4,1350.27C2216.11,1350.27 2221.81,1350.27 2227.52,1350.27C2233.23,1350.27 2238.93,1350.27 2244.64,1350.27C2250.35,1350.27 2256.05,1350.23 2261.76,1350.21C2267.47,1350.19 2273.17,1350.17 2278.88,1350.16C2284.59,1350.15 2290.29,1350.15 2296,1350.13C2301.71,1350.12 2307.41,1350.09 2313.12,1350.08C2318.83,1350.06 2324.53,1350.05 2330.24,1350.05C2335.95,1350.05 2341.65,1350.05 2347.36,1350.05C2353.07,1350.05 2358.77,1350.05 2364.48,1350.05C2370.19,1350.05 2375.89,1350.05 2381.6,1350.05C2387.31,1350.05 2393.01,1349.96 2398.72,1349.93C2404.43,1349.89 2410.13,1349.87 2415.84,1349.83C2421.55,1349.79 2427.25,1349.74 2432.96,1349.71C2438.67,1349.67 2444.37,1349.63 2450.08,1349.63C2455.79,1349.63 2461.49,1349.63 2467.2,1349.63C2472.91,1349.63 2478.61,1349.63 2484.32,1349.63C2490.03,1349.63 2495.73,1349.63 2501.44,1349.63C2507.15,1349.63 2512.85,1349.63 2518.56,1349.63C2524.27,1349.63 2529.97,1349.55 2535.68,1349.55C2541.39,1349.55 2547.09,1349.55 2552.8,1349.55C2558.51,1349.55 2564.21,1349.55 2569.92,1349.55C2575.63,1349.55 2581.33,1349.55 2587.04,1349.55C2592.75,1349.55 2598.45,1349.55 2604.16,1349.55C2609.87,1349.55 2615.57,1349.55 2621.28,1349.55C2626.99,1349.55 2632.69,1349.47 2638.4,1349.45C2644.11,1349.42 2649.81,1349.38 2655.52,1349.38C2661.23,1349.38 2666.93,1349.38 2672.64,1349.38C2678.35,1349.38 2684.05,1349.38 2689.76,1349.38C2695.47,1349.38 2701.17,1349.36 2706.88,1349.35C2712.59,1349.34 2718.29,1349.32 2724,1349.32C2729.71,1349.32 2735.41,1349.32 2741.12,1349.32C2746.83,1349.32 2752.53,1349.28 2758.24,1349.26C2763.95,1349.24 2769.65,1349.21 2775.36,1349.19" fill="none" stroke="#5c5c5c" stroke-width="4"/>
<path d="M1662.56,1351.5C1668.27,1351.5 1673.97,1351.5 1679.68,1351.5C1685.39,1351.5 1691.09,1351.5 1696.8,1351.5C1702.51,1351.5 1708.21,1351.5 1713.92,1351.5C1719.63,1351.5 1725.33,1351.5 1731.04,1351.5C1736.75,1351.5 1742.45,1351.5 1748.16,1351.5C1753.87,1351.5 1759.57,1351.5 1765.28,1351.5C1770.99,1351.5 1776.69,1351.5 1782.4,1351.5C1788.11,1351.5 1793.81,1351.5 1799.52,1351.5C1805.23,1351.5 1810.93,1351.5 1816.64,1351.5C1822.35,1351.5 1828.05,1351.5 1833.76,1351.5C1839.47,1351.5 1845.17,1351.5 1850.88,1351.5C1856.59,1351.5 1862.29,1351.5 1868,1351.5C1873.71,1351.5 1879.41,1351.5 1885.12,1351.5C1890.83,1351.5 1896.53,1351.5 1902.24,1351.5C1907.95,1351.5 1913.65,1351.5 1919.36,1351.5C1925.07,1351.5 1930.77,1351.5 1936.48,1351.5C1942.19,1351.5 1947.89,1351.5 1953.6,1351.5C1959.31,1351.5 1965.01,1351.5 1970.72,1351.5C1976.43,1351.5 1982.13,1351.5 1987.84,1351.5C1993.55,1351.5 1999.25,1351.5 2004.96,1351.5C2010.67,1351.5 2016.37,1351.5 2022.08,1351.5C2027.79,1351.5 2033.49,1351.5 2039.2,1351.5C2044.91,1351.5 2050.61,1351.5 2056.32,1351.5C2062.03,1351.5 2067.73,1351.5 2073.44,1351.5C2079.15,1351.5 2084.85,1351.5 2090.56,1351.5C2096.27,1351.5 2101.97,1351.5 2107.68,1351.5C2113.39,1351.5 2119.09,1351.5 2124.8,1351.5C2130.51,1351.5 2136.21,1351.5 2141.92,1351.5C2147.63,1351.5 2153.33,1351.5 2159.04,1351.5C2164.75,1351.5 2170.45,1351.5 2176.16,1351.5C2181.87,1351.5 2187.57,1351.5 2193.28,1351.5C2198.99,1351.5 2204.69,1351.5 2210.4,1351.5C2216.11,1351.5 2221.81,1351.5 2227.52,1351.5C2233.23,1351.5 2238.93,1351.5 2244.64,1351.5C2250.35,1351.5 2256.05,1351.5 2261.76,1351.5C2267.47,1351.5 2273.17,1351.5 2278.88,1351.5C2284.59,1351.5 2290.29,1351.5 2296,1351.5C2301.71,1351.5 2307.41,1351.5 2313.12,1351.5C2318.83,1351.5 2324.53,1351.5 2330.24,1351.5C2335.95,1351.5 2341.65,1351.5 2347.36,1351.5C2353.07,1351.5 2358.77,1351.5 2364.48,1351.5C2370.19,1351.5 2375.89,1351.5 2381.6,1351.5C2387.31,1351.5 2393.01,1351.5 2398.72,1351.5C2404.43,1351.5 2410.13,1351.5 2415.84,1351.5C2421.55,1351.5 2427.25,1351.5 2432.96,1351.5C2438.67,1351.5 2444.37,1351.5 2450.08,1351.5C2455.79,1351.5 2461.49,1351.35 2467.2,1351.29C2472.91,1351.23 2478.61,1351.21 2484.32,1351.15C2490.03,1351.1 2495.73,1351.02 2501.44,1350.97C2507.15,1350.92 2512.85,1350.9 2518.56,1350.86C2524.27,1350.82 2529.97,1350.78 2535.68,1350.73C2541.39,1350.68 2547.09,1350.61 2552.8,1350.58C2558.51,1350.54 2564.21,1350.54 2569.92,1350.52C2575.63,1350.5 2581.33,1350.47 2587.04,1350.47C2592.75,1350.47 2598.45,1350.47 2604.16,1350.47C2609.87,1350.47 2615.57,1350.36 2621.28,1350.36C2626.99,1350.36 2632.69,1350.36 2638.4,1350.36C2644.11,1350.36 2649.81,1350.36 2655.52,1350.36C2661.23,1350.36 2666.93,1350.3 2672.64,1350.28C2678.35,1350.25 2684.05,1350.23 2689.76,1350.23C2695.47,1350.23 2701.17,1350.23 2706.88,1350.23C2712.59,1350.23 2718.29,1350.23 2724,1350.23C2729.71,1350.23 2735.41,1350.23 2741.12,1350.23C2746.83,1350.23 2752.53,1350.23 2758.24,1350.23C2763.95,1350.23 2769.65,1350.23 2775.36,1350.23" fill="none" stroke="#1c1c1c" stroke-width="4"/>
<path d="M1662.56,1351.5C1668.27,1351.5 1673.97,1351.5 1679.68,1351.5C1685.39,1351.5 1691.09,1351.5 1696.8,1351.5C1702.51,1351.5 1708.21,1351.5 1713.92,1351.5C1719.63,1351.5 1725.33,1351.5 1731.04,1351.5C1736.75,1351.5 1742.45,1351.5 1748.16,1351.5C1753.87,1351.5 1759.57,1351.5 1765.28,1351.5C1770.99,1351.5 1776.69,1351.5 1782.4,1351.5C1788.11,1351.5 1793.81,1351.5 1799.52,1351.5C1805.23,1351.5 1810.93,1351.5 1816.64,1351.5C1822.35,1351.5 1828.05,1351.5 1833.76,1351.5C1839.47,1351.5 1845.17,1351.5 1850.88,1351.5C1856.59,1351.5 1862.29,1351.5 1868,1351.5C1873.71,1351.5 1879.41,1351.5 1885.12,1351.5C1890.83,1351.5 1896.53,1351.5 1902.24,1351.5C1907.95,1351.5 1913.65,1351.5 1919.36,1351.5C1925.07,1351.5 1930.77,1351.5 1936.48,1351.5C1942.19,1351.5 1947.89,1351.5 1953.6,1351.5C1959.31,1351.5 1965.01,1351.5 1970.72,1351.5C1976.43,1351.5 1982.13,1351.5 1987.84,1351.5C1993.55,1351.5 1999.25,1351.5 2004.96,1351.5C2010.67,1351.5 2016.37,1351.5 2022.08,1351.5C2027.79,1351.5 2033.49,1351.5 2039.2,1351.5C2044.91,1351.5 2050.61,1351.5 2056.32,1351.5C2062.03,1351.5 2067.73,1351.5 2073.44,1351.5C2079.15,1351.5 2084.85,1351.5 2090.56,1351.5C2096.27,1351.5 2101.97,1351.5 2107.68,1351.5C2113.39,1351.5 2119.09,1351.5 2124.8,1351.5C2130.51,1351.5 2136.21,1351.5 2141.92,1351.5C2147.63,1351.5 2153.33,1351.5 2159.04,1351.5C2164.75,1351.5 2170.45,1351.5 2176.16,1351.5C2181.87,1351.5 2187.57,1351.5 2193.28,1351.5C2198.99,1351.5 2204.69,1351.5 2210.4,1351.5C2216.11,1351.5 2221.81,1351.5 2227.52,1351.5C2233.23,1351.5 2238.93,1351.5 2244.64,1351.5C2250.35,1351.5 2256.05,1351.5 2261.76,1351.5C2267.47,1351.5 2273.17,1351.5 2278.88,1351.5C2284.59,1351.5 2290.29,1351.5 2296,1351.5C2301.71,1351.5 2307.41,1351.5 2313.12,1351.5C2318.83,1351.5 2324.53,1351.5 2330.24,1351.5C2335.95,1351.5 2341.65,1351.5 2347.36,1351.5C2353.07,1351.5 2358.77,1351.5 2364.48,1351.5C2370.19,1351.5 2375.89,1351.5 2381.6,1351.5C2387.31,1351.5 2393.01,1351.5 2398.72,1351.5C2404.43,1351.5 2410.13,1351.5 2415.84,1351.5C2421.55,1351.5 2427.25,1351.5 2432.96,1351.5C2438.67,1351.5 2444.37,1351.5 2450.08,1351.5C2455.79,1351.5 2461.49,1351.5 2467.2,1351.5C2472.91,1351.5 2478.61,1351.5 2484.32,1351.5C2490.03,1351.5 2495.73,1351.44 2501.44,1351.44C2507.15,1351.44 2512.85,1351.44 2518.56,1351.44C2524.27,1351.44 2529.97,1351.44 2535.68,1351.44C2541.39,1351.44 2547.09,1351.44 2552.8,1351.44C2558.51,1351.44 2564.21,1351.44 2569.92,1351.44C2575.63,1351.44 2581.33,1351.44 2587.04,1351.44C2592.75,1351.44 2598.45,1351.44 2604.16,1351.44C2609.87,1351.44 2615.57,1351.44 2621.28,1351.44C2626.99,1351.44 2632.69,1351.44 2638.4,1351.44C2644.11,1351.44 2649.81,1351.44 2655.52,1351.44C2661.23,1351.44 2666.93,1351.23 2672.64,1351.16C2678.35,1351.1 2684.05,1351.07 2689.76,1351.07C2695.47,1351.07 2701.17,1351.07 2706.88,1351.07C2712.59,1351.07 2718.29,1351.07 2724,1351.07C2729.71,1351.07 2735.41,1350.99 2741.12,1350.99C2746.83,1350.99 2752.53,1350.99 2758.24,1350.99C2763.95,1350.99 2769.65,1350.99 2775.36,1350.99" fill="none" stroke="#e0524d" stroke-width="4"/>
</g>
<path d="M1662.56,1351.1L2775.36,1350.8" fill="none" stroke="#f5ecd6" stroke-width="4.4"/>
<path d="M1662.56,1347.18C1668.27,1341.87 1673.97,1336.56 1679.68,1332.37C1685.39,1328.17 1691.09,1324.71 1696.8,1322.02C1702.51,1319.34 1708.21,1317.94 1713.92,1316.25C1719.63,1314.57 1725.33,1312.57 1731.04,1311.93C1736.75,1311.29 1742.45,1311.45 1748.16,1310.97C1753.87,1310.5 1759.57,1310.16 1765.28,1309.06C1770.99,1307.96 1776.69,1305.8 1782.4,1304.37C1788.11,1302.94 1793.81,1301.83 1799.52,1300.49C1805.23,1299.16 1810.93,1297.8 1816.64,1296.36C1822.35,1294.93 1828.05,1293.65 1833.76,1291.89C1839.47,1290.13 1845.17,1286.99 1850.88,1285.81C1856.59,1284.64 1862.29,1284.68 1868,1284.05C1873.71,1283.41 1879.41,1283.37 1885.12,1282.01C1890.83,1280.65 1896.53,1277.46 1902.24,1275.12C1907.95,1272.78 1913.65,1270.86 1919.36,1267.98C1925.07,1265.09 1930.77,1262.11 1936.48,1257.83C1942.19,1253.54 1947.89,1247.33 1953.6,1242.26C1959.31,1237.18 1965.01,1229.62 1970.72,1227.38C1976.43,1225.14 1982.13,1225.09 1987.84,1224.02C1993.55,1222.95 1999.25,1223.01 2004.96,1220.99C2010.67,1218.96 2016.37,1215.34 2022.08,1210.43C2027.79,1205.52 2033.49,1197.18 2039.2,1191.52C2044.91,1185.86 2050.61,1180.34 2056.32,1176.5C2062.03,1172.65 2067.73,1170.85 2073.44,1168.45C2079.15,1166.06 2084.85,1163.47 2090.56,1162.14C2096.27,1160.81 2101.97,1160.82 2107.68,1160.15C2113.39,1159.47 2119.09,1159.45 2124.8,1158.09C2130.51,1156.73 2136.21,1153.76 2141.92,1152C2147.63,1150.24 2153.33,1149.24 2159.04,1147.53C2164.75,1145.82 2170.45,1143.9 2176.16,1141.74C2181.87,1139.57 2187.57,1137.23 2193.28,1134.54C2198.99,1131.84 2204.69,1126.86 2210.4,1125.57C2216.11,1124.28 2221.81,1124.44 2227.52,1123.64C2233.23,1122.84 2238.93,1122.03 2244.64,1120.77C2250.35,1119.51 2256.05,1118.36 2261.76,1116.08C2267.47,1113.81 2273.17,1109.46 2278.88,1107.09C2284.59,1104.72 2290.29,1103.54 2296,1101.88C2301.71,1100.22 2307.41,1098.95 2313.12,1097.13C2318.83,1095.31 2324.53,1092.35 2330.24,1090.95C2335.95,1089.56 2341.65,1089.48 2347.36,1088.77C2353.07,1088.05 2358.77,1088.06 2364.48,1086.64C2370.19,1085.22 2375.89,1081.96 2381.6,1079.91C2387.31,1077.85 2393.01,1075.98 2398.72,1074.31C2404.43,1072.63 2410.13,1071.33 2415.84,1069.86C2421.55,1068.39 2427.25,1067.11 2432.96,1065.48C2438.67,1063.84 2444.37,1061.88 2450.08,1060.04C2455.79,1058.2 2461.49,1056.22 2467.2,1054.44C2472.91,1052.66 2478.61,1051.89 2484.32,1049.37C2490.03,1046.85 2495.73,1042.56 2501.44,1039.33C2507.15,1036.1 2512.85,1032.86 2518.56,1029.98C2524.27,1027.1 2529.97,1024.52 2535.68,1022.03C2541.39,1019.55 2547.09,1017.4 2552.8,1015.08C2558.51,1012.76 2564.21,1009.75 2569.92,1008.11C2575.63,1006.47 2581.33,1006.5 2587.04,1005.26C2592.75,1004.02 2598.45,1003.55 2604.16,1000.65C2609.87,997.75 2615.57,991.55 2621.28,987.86C2626.99,984.16 2632.69,981 2638.4,978.46C2644.11,975.91 2649.81,974.63 2655.52,972.57C2661.23,970.52 2666.93,968.05 2672.64,966.14C2678.35,964.23 2684.05,962.31 2689.76,961.11C2695.47,959.91 2701.17,959.76 2706.88,958.94C2712.59,958.12 2718.29,957.66 2724,956.21C2729.71,954.75 2735.41,952.08 2741.12,950.2C2746.83,948.32 2752.53,946.29 2758.24,944.92C2763.95,943.55 2769.65,942.77 2775.36,941.99" fill="none" stroke="#ffffff" stroke-width="6"/>
</g>
</svg>
</body>
</html>
